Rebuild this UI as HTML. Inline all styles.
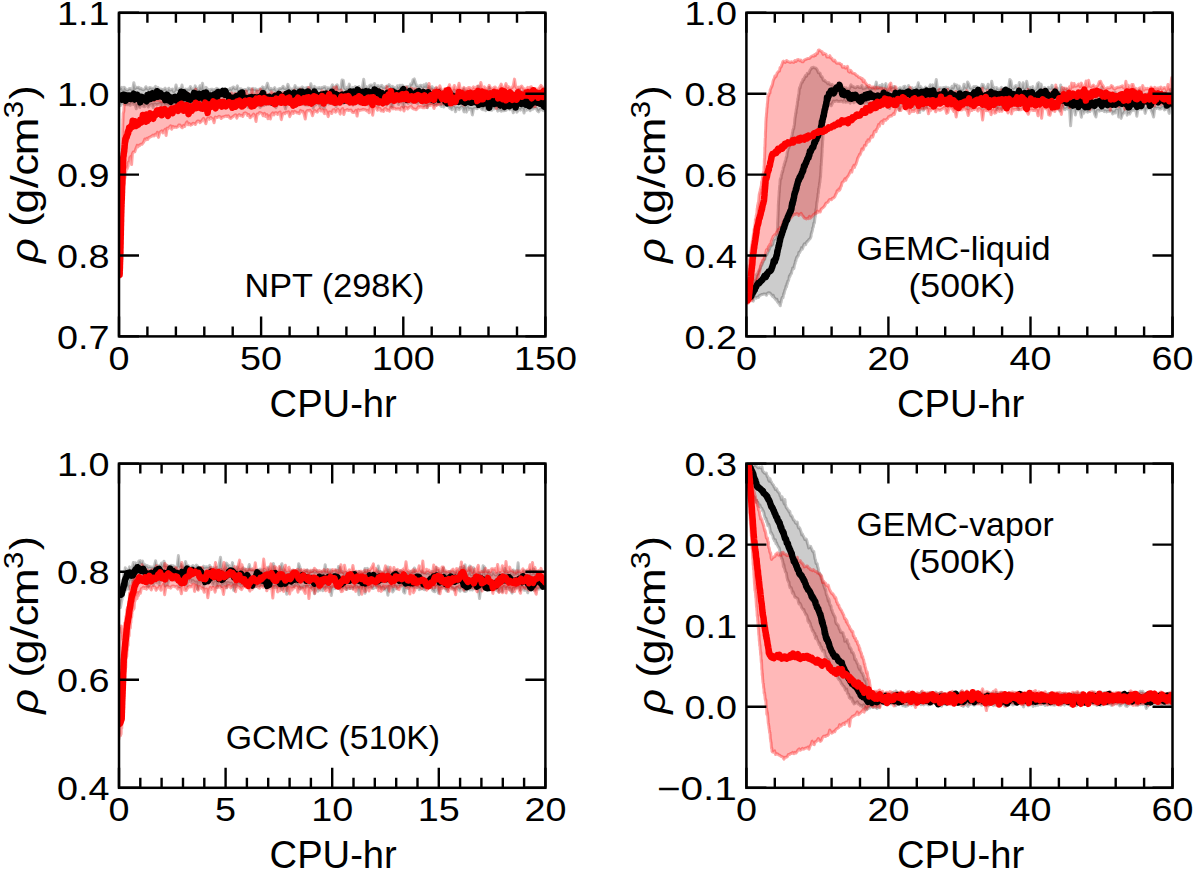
<!DOCTYPE html><html><head><meta charset="utf-8"><style>html,body{margin:0;padding:0;background:#fff;}svg{display:block;}text{font-family:"Liberation Sans",sans-serif;fill:#000;}</style></head><body>
<svg width="1200" height="871" viewBox="0 0 1200 871">
<defs>
<clipPath id="c1"><rect x="119.0" y="12.8" width="426.4" height="323.6"/></clipPath>
<clipPath id="c2"><rect x="746.4" y="12.8" width="426.1" height="323.6"/></clipPath>
<clipPath id="c3"><rect x="119.0" y="463.6" width="426.4" height="324.2"/></clipPath>
<clipPath id="c4"><rect x="746.4" y="463.6" width="426.1" height="324.2"/></clipPath>
</defs>
<g clip-path="url(#c1)">
<path d="M117.0 87.1 L118.2 87.4 L119.4 88.7 L120.6 88.4 L121.8 87.4 L123.0 90.9 L124.2 87.3 L125.4 88.8 L126.6 90.0 L127.8 90.0 L129.0 88.8 L130.2 88.5 L131.4 89.4 L132.6 90.0 L133.8 82.7 L135.1 88.5 L136.3 87.2 L137.5 87.6 L138.7 87.3 L139.9 88.8 L141.1 88.2 L142.3 89.6 L143.5 89.7 L144.7 89.0 L145.9 86.7 L147.1 88.3 L148.3 89.4 L149.5 87.6 L150.7 87.8 L151.9 88.6 L153.1 88.3 L154.3 88.6 L155.5 86.4 L156.7 88.8 L157.9 87.4 L159.1 90.4 L160.3 89.0 L161.5 89.3 L162.7 89.6 L163.9 89.4 L165.1 88.2 L166.3 89.6 L167.5 90.7 L168.8 88.2 L170.0 90.2 L171.2 89.7 L172.4 89.1 L173.6 91.7 L174.8 90.4 L176.0 85.0 L177.2 89.5 L178.4 90.1 L179.6 88.7 L180.8 90.2 L182.0 85.0 L183.2 90.4 L184.4 91.0 L185.6 89.0 L186.8 89.6 L188.0 89.1 L189.2 89.4 L190.4 86.6 L191.6 88.7 L192.8 89.3 L194.0 90.6 L195.2 85.9 L196.4 88.1 L197.6 88.6 L198.8 89.8 L200.0 85.8 L201.2 88.7 L202.5 83.3 L203.7 89.8 L204.9 90.4 L206.1 87.3 L207.3 89.0 L208.5 89.4 L209.7 91.0 L210.9 89.2 L212.1 89.2 L213.3 89.8 L214.5 89.4 L215.7 89.1 L216.9 88.3 L218.1 89.3 L219.3 89.2 L220.5 90.8 L221.7 90.4 L222.9 89.7 L224.1 90.2 L225.3 89.4 L226.5 90.6 L227.7 89.7 L228.9 89.9 L230.1 88.3 L231.3 89.4 L232.5 87.5 L233.7 87.0 L234.9 88.7 L236.2 88.5 L237.4 85.8 L238.6 91.8 L239.8 88.8 L241.0 88.7 L242.2 89.7 L243.4 90.0 L244.6 89.4 L245.8 89.4 L247.0 90.3 L248.2 88.1 L249.4 88.5 L250.6 89.3 L251.8 89.3 L253.0 88.4 L254.2 89.4 L255.4 88.7 L256.6 90.3 L257.8 89.7 L259.0 89.4 L260.2 88.7 L261.4 88.8 L262.6 86.9 L263.8 87.8 L265.0 89.1 L266.2 87.1 L267.4 83.2 L268.6 87.5 L269.8 89.6 L271.0 88.4 L272.3 89.3 L273.5 89.1 L274.7 87.6 L275.9 90.3 L277.1 90.7 L278.3 89.1 L279.5 88.6 L280.7 88.6 L281.9 88.0 L283.1 86.3 L284.3 88.4 L285.5 88.6 L286.7 87.9 L287.9 84.3 L289.1 87.5 L290.3 89.9 L291.5 88.9 L292.7 89.2 L293.9 88.7 L295.1 85.6 L296.3 88.1 L297.5 88.0 L298.7 88.5 L299.9 88.1 L301.1 88.0 L302.3 86.9 L303.5 87.7 L304.7 90.0 L305.9 87.8 L307.1 87.3 L308.4 88.8 L309.6 89.7 L310.8 83.7 L312.0 87.8 L313.2 87.4 L314.4 86.4 L315.6 88.0 L316.8 87.9 L318.0 88.2 L319.2 87.5 L320.4 88.5 L321.6 87.6 L322.8 87.7 L324.0 86.7 L325.2 86.8 L326.4 89.2 L327.6 87.7 L328.8 88.3 L330.0 87.9 L331.2 87.4 L332.4 84.8 L333.6 88.5 L334.8 87.7 L336.0 85.7 L337.2 84.8 L338.4 88.7 L339.6 88.8 L340.8 88.3 L342.0 80.1 L343.3 80.3 L344.5 88.1 L345.7 88.9 L346.9 87.4 L348.1 88.4 L349.3 84.1 L350.5 88.8 L351.7 88.7 L352.9 87.4 L354.1 89.0 L355.3 86.6 L356.5 88.4 L357.7 88.3 L358.9 86.6 L360.1 89.9 L361.3 89.2 L362.5 86.2 L363.7 79.2 L364.9 87.9 L366.1 86.5 L367.3 87.4 L368.5 87.8 L369.7 85.4 L370.9 84.9 L372.1 85.2 L373.3 87.4 L374.5 83.5 L375.7 87.2 L376.9 86.1 L378.1 85.5 L379.4 86.7 L380.6 85.9 L381.8 85.4 L383.0 87.5 L384.2 87.2 L385.4 87.4 L386.6 86.0 L387.8 86.1 L389.0 84.6 L390.2 86.0 L391.4 87.0 L392.6 86.3 L393.8 87.3 L395.0 87.7 L396.2 89.0 L397.4 85.7 L398.6 87.6 L399.8 85.2 L401.0 86.6 L402.2 85.2 L403.4 86.2 L404.6 87.5 L405.8 86.8 L407.0 86.8 L408.2 86.6 L409.4 87.9 L410.6 84.1 L411.8 84.3 L413.0 79.8 L414.3 78.9 L415.5 82.8 L416.7 85.8 L417.9 86.0 L419.1 86.7 L420.3 85.2 L421.5 85.5 L422.7 87.6 L423.9 84.9 L425.1 86.6 L426.2 83.7 L427.4 87.3 L428.6 86.5 L429.7 88.5 L430.9 88.2 L432.1 86.6 L433.2 88.9 L434.4 88.4 L435.6 90.1 L436.7 88.3 L437.9 89.5 L439.1 89.9 L440.2 89.3 L441.4 92.6 L442.6 92.8 L443.7 91.2 L444.9 92.5 L446.0 92.1 L447.2 89.6 L448.4 92.5 L449.5 92.9 L450.7 92.2 L451.9 91.9 L453.1 92.6 L454.3 90.3 L455.5 94.4 L456.7 93.6 L457.9 93.4 L459.2 94.7 L460.4 92.7 L461.6 92.4 L462.8 91.4 L464.0 88.7 L465.2 93.5 L466.4 94.5 L467.6 91.3 L468.8 91.5 L470.0 93.5 L471.2 91.8 L472.4 93.1 L473.6 93.6 L474.8 95.1 L476.0 94.2 L477.2 93.4 L478.4 86.1 L479.6 91.8 L480.8 95.2 L482.0 94.3 L483.2 93.6 L484.4 92.2 L485.6 92.3 L486.8 93.5 L488.0 94.5 L489.2 87.2 L490.4 93.3 L491.6 93.4 L492.8 93.5 L494.1 90.0 L495.3 93.1 L496.5 92.9 L497.7 94.4 L498.9 93.1 L500.1 94.5 L501.3 95.5 L502.5 93.0 L503.7 93.2 L504.9 91.0 L506.1 92.0 L507.3 92.9 L508.5 94.5 L509.7 96.1 L510.9 93.9 L512.1 93.6 L513.3 92.9 L514.5 94.0 L515.7 92.6 L516.9 92.9 L518.1 95.1 L519.3 89.3 L520.5 95.3 L521.7 95.9 L522.9 91.3 L524.1 95.1 L525.3 96.3 L526.5 93.0 L527.7 93.3 L528.9 92.7 L530.2 94.3 L531.4 96.0 L532.6 95.4 L533.8 93.3 L535.0 93.2 L536.2 93.7 L537.4 92.5 L538.6 94.2 L539.8 94.6 L541.0 92.8 L542.2 92.7 L543.4 88.8 L544.6 94.7 L545.8 94.5 L547.0 92.7 L547.0 109.9 L545.8 109.9 L544.6 110.2 L543.4 110.7 L542.2 109.9 L541.0 108.9 L539.8 110.0 L538.6 111.8 L537.4 110.8 L536.2 108.2 L535.0 108.0 L533.8 108.4 L532.6 109.3 L531.4 108.8 L530.2 110.7 L528.9 109.4 L527.7 108.0 L526.5 110.2 L525.3 108.1 L524.1 113.0 L522.9 108.8 L521.7 108.5 L520.5 110.1 L519.3 109.3 L518.1 110.5 L516.9 112.2 L515.7 109.1 L514.5 108.7 L513.3 112.8 L512.1 108.7 L510.9 107.1 L509.7 109.6 L508.5 108.3 L507.3 107.7 L506.1 110.3 L504.9 110.5 L503.7 110.7 L502.5 110.5 L501.3 111.2 L500.1 110.4 L498.9 110.0 L497.7 111.1 L496.5 106.7 L495.3 107.9 L494.1 109.0 L492.8 107.7 L491.6 110.3 L490.4 109.7 L489.2 110.0 L488.0 109.5 L486.8 108.0 L485.6 110.6 L484.4 107.0 L483.2 109.8 L482.0 109.4 L480.8 108.0 L479.6 106.4 L478.4 107.7 L477.2 108.7 L476.0 107.9 L474.8 108.4 L473.6 108.7 L472.4 114.9 L471.2 108.9 L470.0 108.8 L468.8 109.6 L467.6 107.3 L466.4 112.1 L465.2 108.4 L464.0 111.9 L462.8 108.0 L461.6 106.9 L460.4 107.9 L459.2 109.6 L457.9 108.0 L456.7 108.0 L455.5 111.8 L454.3 107.4 L453.1 106.9 L451.9 109.7 L450.7 108.7 L449.5 107.9 L448.4 105.9 L447.2 105.6 L446.0 105.0 L444.9 105.8 L443.7 107.0 L442.6 104.6 L441.4 106.5 L440.2 105.3 L439.1 103.9 L437.9 104.0 L436.7 104.9 L435.6 104.8 L434.4 104.8 L433.2 104.0 L432.1 103.0 L430.9 103.6 L429.7 103.7 L428.6 101.8 L427.4 107.7 L426.2 104.5 L425.1 102.7 L423.9 105.4 L422.7 102.5 L421.5 100.1 L420.3 101.5 L419.1 101.8 L417.9 103.5 L416.7 103.0 L415.5 100.6 L414.3 101.8 L413.0 102.2 L411.8 103.2 L410.6 102.0 L409.4 100.8 L408.2 103.4 L407.0 101.7 L405.8 102.3 L404.6 101.5 L403.4 107.2 L402.2 100.6 L401.0 102.4 L399.8 102.0 L398.6 104.5 L397.4 102.1 L396.2 102.1 L395.0 101.9 L393.8 100.7 L392.6 106.4 L391.4 107.4 L390.2 101.6 L389.0 102.2 L387.8 102.2 L386.6 105.3 L385.4 102.1 L384.2 103.3 L383.0 103.9 L381.8 103.1 L380.6 103.3 L379.4 103.7 L378.1 105.8 L376.9 101.0 L375.7 100.8 L374.5 100.8 L373.3 102.5 L372.1 106.6 L370.9 103.6 L369.7 103.1 L368.5 104.9 L367.3 103.2 L366.1 102.9 L364.9 102.3 L363.7 101.9 L362.5 102.9 L361.3 103.8 L360.1 103.6 L358.9 103.8 L357.7 103.3 L356.5 102.7 L355.3 104.1 L354.1 102.5 L352.9 105.1 L351.7 103.0 L350.5 102.9 L349.3 104.4 L348.1 103.4 L346.9 102.9 L345.7 101.9 L344.5 102.3 L343.3 103.4 L342.0 102.3 L340.8 104.2 L339.6 103.0 L338.4 101.7 L337.2 102.6 L336.0 106.6 L334.8 102.1 L333.6 102.5 L332.4 104.0 L331.2 103.2 L330.0 102.1 L328.8 103.9 L327.6 102.1 L326.4 100.8 L325.2 105.4 L324.0 108.5 L322.8 104.2 L321.6 103.6 L320.4 107.3 L319.2 104.5 L318.0 102.5 L316.8 102.9 L315.6 104.9 L314.4 103.1 L313.2 108.2 L312.0 103.1 L310.8 102.0 L309.6 104.0 L308.4 105.2 L307.1 104.8 L305.9 104.9 L304.7 104.8 L303.5 104.3 L302.3 103.8 L301.1 103.2 L299.9 102.9 L298.7 103.3 L297.5 104.8 L296.3 105.8 L295.1 102.4 L293.9 103.9 L292.7 104.8 L291.5 102.6 L290.3 102.1 L289.1 102.6 L287.9 102.3 L286.7 103.8 L285.5 108.9 L284.3 104.6 L283.1 103.8 L281.9 104.3 L280.7 104.2 L279.5 103.7 L278.3 104.0 L277.1 105.0 L275.9 107.6 L274.7 104.0 L273.5 103.0 L272.3 102.3 L271.0 103.5 L269.8 104.5 L268.6 104.4 L267.4 103.0 L266.2 104.8 L265.0 104.1 L263.8 105.6 L262.6 105.7 L261.4 105.7 L260.2 107.5 L259.0 105.3 L257.8 104.1 L256.6 105.2 L255.4 105.1 L254.2 104.6 L253.0 103.9 L251.8 103.6 L250.6 104.0 L249.4 102.7 L248.2 107.5 L247.0 104.5 L245.8 104.3 L244.6 103.7 L243.4 104.1 L242.2 104.6 L241.0 103.9 L239.8 102.6 L238.6 105.6 L237.4 103.4 L236.2 102.6 L234.9 104.0 L233.7 104.0 L232.5 104.9 L231.3 104.5 L230.1 104.0 L228.9 104.3 L227.7 104.5 L226.5 104.9 L225.3 103.5 L224.1 104.6 L222.9 103.5 L221.7 104.1 L220.5 105.5 L219.3 105.0 L218.1 104.4 L216.9 107.1 L215.7 104.6 L214.5 106.6 L213.3 104.9 L212.1 104.3 L210.9 103.6 L209.7 105.2 L208.5 109.5 L207.3 104.6 L206.1 105.3 L204.9 107.9 L203.7 104.8 L202.5 106.0 L201.2 107.1 L200.0 105.8 L198.8 105.4 L197.6 105.0 L196.4 106.1 L195.2 103.9 L194.0 103.3 L192.8 107.6 L191.6 105.6 L190.4 104.3 L189.2 102.5 L188.0 104.2 L186.8 102.2 L185.6 103.6 L184.4 105.4 L183.2 108.7 L182.0 107.6 L180.8 107.0 L179.6 103.9 L178.4 103.8 L177.2 104.6 L176.0 105.6 L174.8 103.8 L173.6 105.0 L172.4 104.3 L171.2 104.4 L170.0 104.6 L168.8 105.8 L167.5 105.1 L166.3 105.0 L165.1 105.5 L163.9 104.4 L162.7 103.6 L161.5 107.1 L160.3 103.4 L159.1 103.9 L157.9 104.2 L156.7 105.1 L155.5 104.1 L154.3 104.2 L153.1 107.5 L151.9 104.3 L150.7 104.8 L149.5 105.6 L148.3 107.0 L147.1 104.9 L145.9 103.5 L144.7 106.7 L143.5 106.6 L142.3 104.2 L141.1 104.8 L139.9 107.4 L138.7 106.9 L137.5 105.0 L136.3 108.8 L135.1 104.6 L133.8 104.6 L132.6 104.1 L131.4 102.7 L130.2 105.3 L129.0 104.5 L127.8 104.7 L126.6 104.7 L125.4 104.3 L124.2 104.1 L123.0 103.1 L121.8 103.4 L120.6 105.4 L119.4 103.2 L118.2 108.1 L117.0 107.7 Z" fill="#000" fill-opacity="0.2" stroke="#000" stroke-opacity="0.24" stroke-width="3" stroke-linejoin="round"/>
<path d="M119.6 272.7 L119.6 271.5 L119.7 271.2 L119.7 269.2 L119.7 268.2 L119.7 266.9 L119.8 266.3 L119.8 262.1 L119.8 263.3 L119.9 261.0 L119.9 259.5 L119.9 257.5 L120.0 255.5 L120.0 255.6 L120.0 254.5 L120.0 250.2 L120.1 251.6 L120.1 252.8 L120.1 250.2 L120.2 248.8 L120.2 247.1 L120.2 245.7 L120.2 244.2 L120.3 243.6 L120.3 243.0 L120.3 241.5 L120.3 239.3 L120.4 238.9 L120.4 237.4 L120.4 237.4 L120.4 237.7 L120.5 235.5 L120.5 231.2 L120.5 230.4 L120.5 229.2 L120.5 223.9 L120.6 228.8 L120.6 224.2 L120.6 226.1 L120.6 224.4 L120.6 224.0 L120.7 223.9 L120.7 218.4 L120.7 219.0 L120.7 218.3 L120.7 216.5 L120.8 215.6 L120.8 214.0 L120.8 211.0 L120.8 203.6 L120.9 212.4 L120.9 213.0 L120.9 208.9 L120.9 209.0 L120.9 207.2 L121.0 204.7 L121.0 204.1 L121.0 203.0 L121.0 201.7 L121.0 202.5 L121.1 198.2 L121.1 198.7 L121.1 197.6 L121.1 195.6 L121.2 195.0 L121.2 194.6 L121.2 192.8 L121.2 191.8 L121.3 190.6 L121.3 187.2 L121.3 189.2 L121.3 188.1 L121.4 186.7 L121.4 185.0 L121.4 181.6 L121.4 181.3 L121.5 179.6 L121.5 175.6 L121.5 178.5 L121.6 175.4 L121.6 175.2 L121.6 172.6 L121.6 170.9 L121.7 171.5 L121.7 170.1 L121.7 169.1 L121.8 170.0 L121.8 166.2 L121.8 164.7 L121.8 164.1 L121.9 165.0 L121.9 161.2 L121.9 161.1 L122.0 159.3 L122.0 158.4 L122.0 155.8 L122.0 155.8 L122.1 156.7 L122.1 155.6 L122.1 153.1 L122.2 152.3 L122.2 150.0 L122.2 147.8 L122.3 147.3 L122.3 147.7 L122.3 145.2 L122.3 143.6 L122.4 143.1 L122.4 141.6 L122.4 139.5 L122.5 137.7 L122.5 137.4 L122.5 138.7 L122.6 138.1 L122.6 135.8 L122.6 134.7 L122.7 127.6 L122.7 131.0 L122.7 129.9 L122.8 127.3 L122.8 126.4 L122.8 126.2 L122.8 124.6 L122.9 122.8 L122.9 119.1 L122.9 121.4 L123.0 121.2 L123.0 119.2 L123.1 117.6 L123.1 116.7 L123.2 115.2 L123.2 113.5 L123.4 112.7 L123.5 112.6 L123.7 111.6 L123.9 110.6 L124.0 106.7 L124.2 106.4 L124.4 103.5 L124.5 104.8 L124.7 103.0 L124.9 101.9 L125.0 101.8 L125.2 96.4 L125.3 93.8 L125.7 98.9 L126.7 95.0 L127.8 96.2 L128.9 94.6 L130.0 95.1 L131.1 96.3 L132.0 96.0 L132.8 96.1 L133.7 97.3 L134.5 95.6 L135.3 96.3 L136.2 100.6 L137.1 100.9 L138.3 97.5 L139.4 97.1 L140.6 99.8 L141.8 98.4 L143.0 100.1 L144.2 101.0 L145.4 97.9 L146.5 99.2 L147.7 99.2 L148.9 99.1 L150.1 93.3 L151.3 98.6 L152.5 98.6 L153.7 100.7 L154.9 100.1 L156.1 99.8 L157.3 100.0 L158.5 100.3 L159.7 99.9 L160.9 101.1 L162.1 101.5 L163.3 100.7 L164.5 96.4 L165.6 99.2 L166.8 101.1 L168.0 99.2 L169.2 98.9 L170.3 100.4 L171.5 96.9 L172.7 99.3 L174.0 98.6 L175.2 100.8 L176.4 99.2 L177.6 98.9 L178.8 97.9 L180.0 96.5 L181.2 96.5 L182.4 98.2 L183.6 98.3 L184.8 97.4 L186.0 96.3 L187.2 96.0 L188.4 93.6 L189.6 96.1 L190.8 95.6 L192.0 95.6 L193.2 100.2 L194.4 98.2 L195.6 89.2 L196.8 95.5 L198.0 93.2 L199.2 95.6 L200.4 96.5 L201.6 97.5 L202.8 97.2 L204.0 97.0 L205.2 96.6 L206.4 97.0 L207.6 97.4 L208.8 93.8 L210.0 94.2 L211.2 94.6 L212.4 97.3 L213.6 97.2 L214.8 95.1 L216.0 94.4 L217.2 92.8 L218.4 95.1 L219.6 95.2 L220.8 95.0 L222.0 95.6 L223.2 94.9 L224.4 92.1 L225.6 94.1 L226.8 94.8 L228.0 94.9 L229.2 94.8 L230.4 95.8 L231.6 92.9 L232.8 95.3 L234.1 94.5 L235.3 93.3 L236.5 95.6 L237.7 94.2 L238.9 95.6 L240.1 95.3 L241.3 93.4 L242.5 93.2 L243.7 94.3 L244.9 94.0 L246.1 91.0 L247.3 95.5 L248.5 94.9 L249.7 95.3 L250.9 94.6 L252.1 89.1 L253.3 94.1 L254.5 94.7 L255.7 95.3 L256.9 90.9 L258.1 94.0 L259.3 93.5 L260.5 89.2 L261.7 94.8 L262.9 92.2 L264.2 93.7 L265.4 92.3 L266.6 96.8 L267.8 94.4 L269.0 94.6 L270.2 94.4 L271.4 91.8 L272.6 92.8 L273.8 93.7 L275.0 93.5 L276.2 94.0 L277.4 93.3 L278.6 93.8 L279.8 94.1 L281.0 93.2 L282.2 93.7 L283.4 92.6 L284.6 93.6 L285.8 94.9 L287.0 96.0 L288.2 91.4 L289.4 94.3 L290.6 95.1 L291.8 95.1 L293.1 95.6 L294.3 90.2 L295.5 93.7 L296.7 93.9 L297.9 93.8 L299.1 93.9 L300.3 89.3 L301.5 92.5 L302.7 91.2 L303.9 92.2 L305.1 91.3 L306.3 93.2 L307.5 93.1 L308.7 87.5 L309.9 93.8 L311.1 91.4 L312.3 93.6 L313.5 95.1 L314.7 95.0 L315.9 92.3 L317.1 94.0 L318.3 93.4 L319.5 93.6 L320.7 93.9 L322.0 90.9 L323.2 92.2 L324.4 91.9 L325.6 92.0 L326.8 92.5 L328.0 91.3 L329.2 91.7 L330.4 93.2 L331.6 92.8 L332.8 92.9 L334.0 87.6 L335.2 91.6 L336.4 86.7 L337.6 92.6 L338.8 92.3 L340.0 93.5 L341.2 90.1 L342.4 92.7 L343.6 92.8 L344.8 93.3 L346.0 92.4 L347.2 93.7 L348.4 91.0 L349.7 92.9 L350.9 92.8 L352.1 93.3 L353.3 93.8 L354.5 93.7 L355.7 93.2 L356.9 93.5 L358.1 93.0 L359.3 93.8 L360.5 89.7 L361.7 90.7 L362.9 93.6 L364.1 92.7 L365.3 91.4 L366.5 92.1 L367.7 91.9 L368.9 94.5 L370.1 91.9 L371.3 91.1 L372.5 92.8 L373.7 89.4 L374.9 94.1 L376.2 91.4 L377.4 90.1 L378.6 89.5 L379.8 92.1 L381.0 91.7 L382.2 90.3 L383.4 92.7 L384.6 93.8 L385.8 90.8 L387.0 86.6 L388.2 92.2 L389.4 92.7 L390.6 92.9 L391.8 92.2 L393.0 93.3 L394.2 92.7 L395.4 91.7 L396.6 92.6 L397.8 91.4 L399.0 90.5 L400.2 92.3 L401.4 91.8 L402.6 91.4 L403.9 92.0 L405.1 90.2 L406.3 87.2 L407.5 91.1 L408.7 91.3 L409.9 91.9 L411.1 88.1 L412.3 88.6 L413.5 92.2 L414.7 89.0 L415.9 88.9 L417.1 89.5 L418.3 90.9 L419.5 92.6 L420.7 92.1 L421.9 91.3 L423.1 89.9 L424.3 90.9 L425.5 90.3 L426.7 91.4 L427.9 90.5 L429.1 83.5 L430.3 91.3 L431.5 91.0 L432.7 89.8 L433.9 91.0 L435.1 89.7 L436.3 87.3 L437.5 89.6 L438.7 88.7 L439.9 85.9 L441.1 89.2 L442.3 90.7 L443.4 90.5 L444.6 88.9 L445.8 90.2 L447.0 88.7 L448.2 88.9 L449.4 84.8 L450.6 88.5 L451.8 90.6 L453.0 88.6 L454.3 85.5 L455.5 89.2 L456.7 87.9 L457.9 87.4 L459.1 83.2 L460.3 88.8 L461.5 89.2 L462.7 88.8 L463.9 87.4 L465.1 89.9 L466.3 88.4 L467.5 88.5 L468.7 87.5 L469.9 87.8 L471.1 89.2 L472.3 88.5 L473.5 86.9 L474.7 88.3 L475.9 87.9 L477.1 86.3 L478.3 88.4 L479.5 87.6 L480.8 82.5 L482.0 87.1 L483.2 89.5 L484.4 86.9 L485.6 88.2 L486.8 88.8 L488.0 88.4 L489.2 85.3 L490.4 87.6 L491.6 88.3 L492.8 88.8 L494.0 87.4 L495.2 87.0 L496.4 89.1 L497.6 89.3 L498.8 88.5 L500.0 86.7 L501.2 84.0 L502.4 88.4 L503.6 88.7 L504.8 86.9 L506.0 83.6 L507.3 87.6 L508.5 86.6 L509.7 88.1 L510.9 88.1 L512.1 87.7 L513.3 85.5 L514.5 79.1 L515.7 86.8 L516.9 88.5 L518.1 87.2 L519.3 89.0 L520.5 86.8 L521.7 86.0 L522.9 88.1 L524.1 88.8 L525.3 90.2 L526.5 88.8 L527.7 87.4 L528.9 88.6 L530.1 87.1 L531.3 86.8 L532.5 90.4 L533.8 88.8 L535.0 88.8 L536.2 88.9 L537.4 89.9 L538.6 88.7 L539.8 87.1 L541.0 85.4 L542.2 86.7 L543.4 89.4 L544.6 89.7 L545.8 88.7 L547.0 88.3 L547.0 103.9 L545.8 102.0 L544.6 103.5 L543.4 102.7 L542.2 101.5 L541.0 101.0 L539.8 101.6 L538.6 105.0 L537.4 102.9 L536.2 104.5 L535.0 106.7 L533.8 106.6 L532.6 102.8 L531.3 102.6 L530.1 101.2 L528.9 107.0 L527.7 102.9 L526.5 103.2 L525.3 104.5 L524.1 103.4 L522.9 101.1 L521.7 103.1 L520.5 102.2 L519.3 101.6 L518.1 100.9 L516.9 101.6 L515.7 102.4 L514.5 100.7 L513.3 103.7 L512.1 103.6 L510.9 103.1 L509.7 104.7 L508.5 103.6 L507.3 102.6 L506.1 104.6 L504.9 102.4 L503.7 104.2 L502.5 105.3 L501.2 103.9 L500.0 101.0 L498.8 106.6 L497.6 103.2 L496.4 108.4 L495.2 102.9 L494.0 102.3 L492.8 105.2 L491.6 103.7 L490.4 103.1 L489.2 103.5 L488.0 103.7 L486.8 104.1 L485.6 104.8 L484.4 103.1 L483.2 101.9 L482.0 103.0 L480.8 102.7 L479.6 102.5 L478.4 105.1 L477.2 102.9 L476.0 102.8 L474.8 103.5 L473.6 103.5 L472.4 102.1 L471.1 104.4 L469.9 103.4 L468.7 103.5 L467.5 103.5 L466.3 103.8 L465.1 103.1 L463.9 105.2 L462.7 103.9 L461.5 103.5 L460.3 102.7 L459.1 102.2 L457.9 102.2 L456.7 103.2 L455.5 104.0 L454.3 104.8 L453.1 104.5 L451.9 103.9 L450.7 103.9 L449.5 103.0 L448.3 101.8 L447.1 102.0 L445.9 103.9 L444.7 103.9 L443.5 103.7 L442.3 103.5 L441.1 104.3 L439.9 103.3 L438.7 104.6 L437.5 104.8 L436.3 105.6 L435.1 105.2 L434.0 108.4 L432.8 105.5 L431.6 104.4 L430.4 105.5 L429.2 105.0 L428.0 105.9 L426.8 107.5 L425.6 106.0 L424.4 107.8 L423.2 107.8 L422.0 107.3 L420.8 106.6 L419.6 107.3 L418.4 106.6 L417.2 108.8 L416.0 109.8 L414.8 109.1 L413.6 108.9 L412.4 108.2 L411.2 106.4 L410.0 106.8 L408.8 107.7 L407.6 108.9 L406.4 107.5 L405.2 107.1 L404.0 111.0 L402.8 108.0 L401.6 107.3 L400.4 109.9 L399.2 109.0 L398.0 108.7 L396.8 108.9 L395.6 109.2 L394.4 108.0 L393.2 108.9 L392.0 107.7 L390.8 107.1 L389.6 111.2 L388.3 110.0 L387.1 110.4 L385.9 108.5 L384.7 108.7 L383.5 111.4 L382.3 110.2 L381.1 111.0 L379.9 108.5 L378.7 108.2 L377.5 110.3 L376.3 107.9 L375.1 107.0 L373.9 108.2 L372.7 115.2 L371.5 109.8 L370.3 107.0 L369.1 112.8 L367.9 110.3 L366.7 111.0 L365.5 109.8 L364.3 109.8 L363.1 109.3 L361.9 109.9 L360.7 110.0 L359.5 110.6 L358.3 109.7 L357.1 116.1 L355.9 110.3 L354.6 112.2 L353.4 112.6 L352.2 112.1 L351.0 109.9 L349.8 110.2 L348.6 110.6 L347.4 109.5 L346.2 110.2 L345.0 110.4 L343.8 114.5 L342.6 108.6 L341.4 110.0 L340.2 114.1 L339.0 110.8 L337.8 109.1 L336.6 111.3 L335.4 112.2 L334.2 109.6 L333.0 110.0 L331.8 113.5 L330.6 111.9 L329.4 112.1 L328.2 116.6 L327.0 112.7 L325.8 110.1 L324.6 113.7 L323.4 111.5 L322.2 109.7 L321.0 110.9 L319.7 109.1 L318.5 110.0 L317.3 112.2 L316.1 111.7 L314.9 110.5 L313.7 111.7 L312.5 115.7 L311.3 112.1 L310.1 110.2 L308.9 110.7 L307.7 110.4 L306.5 111.6 L305.3 119.1 L304.1 114.1 L302.9 111.2 L301.7 111.8 L300.5 110.4 L299.3 113.7 L298.1 112.8 L296.9 112.9 L295.7 111.9 L294.5 111.4 L293.3 113.5 L292.1 111.6 L290.9 113.9 L289.7 116.6 L288.5 111.7 L287.3 112.7 L286.1 112.2 L284.9 113.8 L283.7 113.1 L282.5 114.6 L281.3 119.6 L280.1 111.9 L278.9 112.8 L277.7 114.5 L276.4 112.7 L275.2 112.7 L274.0 114.9 L272.8 112.9 L271.6 114.1 L270.4 119.0 L269.2 115.7 L268.0 118.8 L266.8 114.6 L265.6 116.4 L264.4 113.3 L263.2 115.8 L262.0 113.5 L260.8 112.8 L259.6 112.4 L258.4 114.1 L257.2 114.1 L256.0 121.4 L254.8 115.9 L253.6 114.1 L252.4 115.6 L251.2 116.8 L250.0 117.7 L248.8 114.5 L247.6 115.5 L246.4 113.3 L245.2 112.8 L244.0 113.4 L242.8 116.5 L241.6 115.3 L240.4 115.8 L239.2 114.6 L238.0 115.7 L236.8 118.1 L235.6 114.8 L234.4 115.6 L233.2 116.4 L232.0 117.2 L230.8 118.4 L229.6 117.8 L228.4 115.8 L227.2 116.6 L226.0 115.9 L224.8 116.3 L223.6 117.1 L222.4 116.9 L221.2 118.5 L220.0 116.6 L218.8 116.3 L217.6 117.5 L216.4 117.5 L215.3 117.0 L214.1 122.7 L212.9 119.0 L211.7 118.5 L210.6 117.3 L209.4 119.3 L208.2 117.8 L207.0 119.2 L205.8 123.8 L204.7 121.1 L203.5 118.3 L202.3 119.9 L201.1 121.7 L200.0 122.7 L198.8 120.9 L197.6 121.0 L196.4 122.5 L195.3 124.5 L194.1 123.4 L192.9 123.2 L191.7 124.7 L190.6 125.2 L189.4 123.5 L188.2 124.7 L187.0 121.9 L185.9 123.6 L184.7 126.5 L183.5 125.4 L182.3 127.8 L181.2 127.1 L180.0 124.9 L178.8 125.1 L177.6 126.9 L176.4 127.4 L175.3 126.9 L174.1 127.4 L172.9 126.3 L171.7 129.3 L170.6 125.8 L169.4 127.1 L168.3 128.6 L167.2 128.0 L166.1 135.5 L165.1 129.3 L164.0 130.8 L162.9 132.9 L161.8 130.9 L160.7 131.6 L159.6 133.2 L158.5 137.4 L157.4 132.3 L156.3 135.1 L155.2 134.3 L154.1 136.0 L153.0 135.0 L151.9 136.1 L150.8 136.6 L149.8 137.2 L148.8 137.4 L147.8 139.4 L146.8 138.3 L145.8 139.9 L144.8 139.2 L143.8 141.8 L142.9 143.1 L142.0 144.2 L141.2 144.2 L140.4 144.5 L139.6 145.5 L138.8 145.3 L138.0 146.8 L137.2 145.2 L136.4 147.4 L135.6 149.4 L134.8 151.8 L134.0 152.0 L133.2 152.1 L132.4 153.6 L131.6 164.6 L130.9 156.3 L130.6 157.2 L130.2 161.5 L129.8 157.6 L129.5 161.8 L129.1 162.4 L128.8 161.9 L128.4 162.2 L128.0 166.5 L127.7 165.9 L127.3 168.5 L127.0 168.2 L126.6 169.1 L126.2 167.9 L125.9 171.4 L125.6 172.4 L125.3 173.0 L125.2 175.8 L125.0 177.7 L124.9 175.7 L124.7 178.9 L124.5 178.9 L124.4 181.6 L124.2 184.3 L124.0 183.4 L123.9 184.2 L123.7 186.3 L123.5 189.1 L123.4 187.8 L123.2 189.3 L123.2 192.9 L123.1 192.0 L123.1 193.4 L123.0 196.5 L122.9 197.1 L122.9 198.2 L122.8 198.3 L122.7 198.1 L122.7 199.1 L122.6 201.9 L122.5 205.4 L122.5 205.5 L122.4 205.9 L122.3 207.4 L122.3 208.2 L122.2 207.8 L122.1 210.5 L122.1 209.8 L122.0 211.2 L122.0 215.5 L121.9 214.6 L121.9 214.9 L121.8 222.2 L121.8 218.4 L121.7 219.9 L121.6 224.0 L121.6 221.6 L121.5 221.8 L121.5 226.5 L121.4 226.5 L121.4 230.4 L121.3 226.7 L121.3 235.0 L121.2 230.4 L121.2 231.0 L121.1 233.5 L121.1 236.3 L121.1 240.4 L121.0 235.9 L121.0 235.5 L121.0 237.8 L120.9 238.8 L120.9 241.5 L120.9 241.5 L120.8 243.1 L120.8 245.4 L120.8 247.8 L120.7 249.3 L120.7 252.7 L120.7 254.8 L120.6 251.4 L120.6 251.4 L120.6 254.5 L120.5 254.3 L120.5 256.6 L120.5 255.6 L120.4 259.3 L120.4 260.0 L120.4 266.3 L120.3 261.6 L120.3 264.5 L120.3 263.4 L120.2 269.8 L120.1 265.4 L120.1 266.8 L120.0 270.0 L120.0 272.8 L119.9 270.4 L119.8 270.7 L119.8 272.9 L119.7 274.6 L119.7 275.7 L119.6 277.4 Z" fill="#f00" fill-opacity="0.28" stroke="#f00" stroke-opacity="0.36" stroke-width="3" stroke-linejoin="round"/>
<path d="M117.0 95.1 L117.8 95.2 L118.6 96.7 L119.4 96.9 L120.2 97.2 L121.0 96.2 L121.8 99.8 L122.6 99.0 L123.4 94.7 L124.2 97.9 L125.0 95.0 L125.8 100.7 L126.6 95.8 L127.4 95.8 L128.2 96.7 L129.0 95.8 L129.8 95.9 L130.6 99.0 L131.4 95.9 L132.2 97.2 L133.0 97.9 L133.8 93.6 L134.7 99.6 L135.5 97.6 L136.3 98.3 L137.1 94.7 L137.9 98.8 L138.7 98.3 L139.5 96.4 L140.3 102.4 L141.1 98.7 L141.9 96.9 L142.7 97.8 L143.5 99.3 L144.3 99.7 L145.1 98.7 L145.9 100.5 L146.7 101.2 L147.5 95.1 L148.3 96.1 L149.1 94.5 L149.9 96.2 L150.7 98.8 L151.5 96.9 L152.3 93.2 L153.1 94.9 L153.9 98.0 L154.7 94.8 L155.5 95.6 L156.3 96.2 L157.1 91.3 L157.9 96.7 L158.7 95.7 L159.5 96.2 L160.3 93.1 L161.1 93.9 L161.9 94.8 L162.7 97.0 L163.5 96.7 L164.3 96.8 L165.1 100.1 L165.9 98.9 L166.7 94.6 L167.5 95.1 L168.4 100.5 L169.2 96.6 L170.0 100.8 L170.8 101.8 L171.6 97.7 L172.4 98.6 L173.2 99.4 L174.0 97.3 L174.8 96.9 L175.6 98.0 L176.4 100.5 L177.2 97.7 L178.0 98.2 L178.8 97.5 L179.6 95.2 L180.4 100.7 L181.2 91.8 L182.0 94.9 L182.8 96.9 L183.6 92.3 L184.4 96.4 L185.2 98.0 L186.0 94.1 L186.8 97.3 L187.6 95.3 L188.4 99.4 L189.2 98.5 L190.0 98.1 L190.8 99.7 L191.6 96.9 L192.4 98.3 L193.2 96.6 L194.0 92.9 L194.8 96.5 L195.6 97.5 L196.4 93.6 L197.2 99.5 L198.0 96.5 L198.8 96.7 L199.6 93.9 L200.4 96.3 L201.2 97.4 L202.1 96.7 L202.9 97.8 L203.7 93.1 L204.5 100.5 L205.3 95.1 L206.1 92.7 L206.9 95.3 L207.7 95.5 L208.5 98.5 L209.3 95.5 L210.1 98.1 L210.9 95.5 L211.7 102.2 L212.5 98.5 L213.3 101.3 L214.1 94.6 L214.9 97.8 L215.7 93.9 L216.5 96.8 L217.3 96.8 L218.1 92.0 L218.9 93.3 L219.7 93.5 L220.5 92.7 L221.3 93.9 L222.1 92.7 L222.9 91.0 L223.7 94.0 L224.5 94.8 L225.3 90.9 L226.1 93.1 L226.9 95.2 L227.7 95.5 L228.5 95.3 L229.3 99.1 L230.1 99.6 L230.9 99.5 L231.7 97.7 L232.5 102.6 L233.3 102.1 L234.1 97.5 L234.9 98.0 L235.7 100.7 L236.6 96.1 L237.4 98.4 L238.2 97.3 L239.0 95.4 L239.8 96.2 L240.6 93.2 L241.4 95.4 L242.2 92.5 L243.0 102.0 L243.8 100.4 L244.6 99.8 L245.4 97.8 L246.2 99.6 L247.0 100.7 L247.8 100.8 L248.6 101.2 L249.4 97.5 L250.2 100.5 L251.0 98.5 L251.8 97.1 L252.6 97.4 L253.4 101.0 L254.2 102.5 L255.0 97.2 L255.8 103.5 L256.6 102.3 L257.4 97.8 L258.2 97.3 L259.0 98.0 L259.8 100.3 L260.6 97.4 L261.4 95.7 L262.2 98.6 L263.0 93.0 L263.8 97.4 L264.6 99.3 L265.4 97.1 L266.2 97.9 L267.0 97.4 L267.8 98.5 L268.6 98.1 L269.4 97.0 L270.2 99.0 L271.0 99.6 L271.9 102.4 L272.7 102.8 L273.5 99.7 L274.3 96.5 L275.1 95.9 L275.9 96.5 L276.7 99.4 L277.5 96.6 L278.3 95.4 L279.1 93.8 L279.9 97.6 L280.7 96.6 L281.5 96.3 L282.3 96.8 L283.1 100.2 L283.9 95.8 L284.7 99.0 L285.5 97.1 L286.3 93.8 L287.1 95.3 L287.9 93.5 L288.7 92.8 L289.5 95.0 L290.3 94.7 L291.1 98.7 L291.9 98.5 L292.7 100.4 L293.5 101.3 L294.3 92.8 L295.1 99.7 L295.9 94.2 L296.7 97.4 L297.5 94.2 L298.3 95.7 L299.1 98.3 L299.9 91.8 L300.7 96.2 L301.5 95.8 L302.3 91.7 L303.1 96.9 L303.9 95.2 L304.7 93.7 L305.5 92.8 L306.3 101.2 L307.1 93.7 L308.0 91.6 L308.8 94.7 L309.6 97.0 L310.4 97.5 L311.2 97.9 L312.0 94.9 L312.8 97.2 L313.6 94.0 L314.4 91.6 L315.2 93.0 L316.0 94.6 L316.8 97.9 L317.6 97.5 L318.4 95.4 L319.2 95.7 L320.0 95.8 L320.8 99.8 L321.6 94.6 L322.4 97.4 L323.2 98.1 L324.0 94.1 L324.8 95.9 L325.6 95.4 L326.4 93.7 L327.2 96.0 L328.0 97.1 L328.8 97.4 L329.6 94.4 L330.4 94.9 L331.2 99.3 L332.0 91.8 L332.8 94.6 L333.6 96.1 L334.4 94.4 L335.2 95.3 L336.0 94.3 L336.8 95.8 L337.6 97.5 L338.4 95.2 L339.2 96.9 L340.0 96.9 L340.8 96.4 L341.6 97.1 L342.4 94.6 L343.3 98.5 L344.1 100.5 L344.9 100.3 L345.7 99.0 L346.5 93.8 L347.3 98.7 L348.1 93.4 L348.9 94.3 L349.7 97.9 L350.5 91.4 L351.3 95.4 L352.1 94.2 L352.9 93.3 L353.7 91.7 L354.5 94.3 L355.3 92.0 L356.1 94.9 L356.9 95.1 L357.7 89.6 L358.5 91.9 L359.3 93.1 L360.1 92.0 L360.9 92.9 L361.7 96.0 L362.5 95.4 L363.3 91.8 L364.1 93.5 L364.9 95.2 L365.7 91.2 L366.5 91.9 L367.3 97.7 L368.1 97.6 L368.9 91.6 L369.7 92.3 L370.5 96.0 L371.3 92.8 L372.1 95.0 L372.9 94.6 L373.7 96.6 L374.5 89.6 L375.3 90.1 L376.1 92.5 L376.9 97.7 L377.7 95.2 L378.6 91.5 L379.4 95.5 L380.2 95.3 L381.0 93.0 L381.8 93.0 L382.6 95.3 L383.4 97.8 L384.2 96.1 L385.0 97.1 L385.8 95.7 L386.6 94.6 L387.4 93.0 L388.2 95.2 L389.0 94.2 L389.8 94.6 L390.6 97.5 L391.4 96.6 L392.2 97.1 L393.0 91.4 L393.8 95.6 L394.6 93.2 L395.4 92.9 L396.2 93.1 L397.0 97.8 L397.8 97.3 L398.6 94.1 L399.4 93.1 L400.2 95.2 L401.0 93.5 L401.8 97.3 L402.6 90.1 L403.4 89.3 L404.2 93.1 L405.0 94.2 L405.8 95.1 L406.6 96.8 L407.4 99.9 L408.2 94.7 L409.0 94.1 L409.8 91.1 L410.6 95.1 L411.4 96.1 L412.2 93.5 L413.0 96.6 L413.8 94.4 L414.7 97.9 L415.5 95.6 L416.3 92.6 L417.1 93.5 L417.9 91.5 L418.7 91.1 L419.5 95.6 L420.3 97.0 L421.1 99.4 L421.9 95.0 L422.7 94.3 L423.5 92.0 L424.3 96.2 L425.1 95.1 L425.9 93.7 L426.6 97.1 L427.4 97.3 L428.2 92.2 L429.0 97.7 L429.7 96.2 L430.5 94.9 L431.3 94.8 L432.1 99.6 L432.8 99.4 L433.6 100.2 L434.4 93.9 L435.2 95.2 L436.0 98.8 L436.7 94.3 L437.5 95.1 L438.3 92.4 L439.1 99.8 L439.8 97.8 L440.6 96.5 L441.4 96.4 L442.2 95.7 L442.9 96.5 L443.7 99.3 L444.5 97.0 L445.3 101.6 L446.0 98.3 L446.8 98.1 L447.6 103.4 L448.4 100.5 L449.2 101.7 L449.9 98.9 L450.7 94.1 L451.5 99.8 L452.3 96.0 L453.1 101.8 L453.9 96.7 L454.7 96.5 L455.5 101.3 L456.3 101.5 L457.1 100.6 L457.9 97.6 L458.8 101.9 L459.6 96.6 L460.4 98.5 L461.2 97.6 L462.0 98.6 L462.8 101.6 L463.6 99.0 L464.4 102.2 L465.2 103.0 L466.0 98.1 L466.8 99.3 L467.6 100.9 L468.4 100.2 L469.2 102.0 L470.0 97.0 L470.8 102.7 L471.6 102.8 L472.4 100.9 L473.2 98.3 L474.0 101.1 L474.8 99.9 L475.6 102.2 L476.4 100.9 L477.2 102.9 L478.0 100.6 L478.8 104.8 L479.6 96.7 L480.4 99.4 L481.2 102.8 L482.0 98.8 L482.8 104.0 L483.6 100.1 L484.4 103.1 L485.2 101.1 L486.0 102.2 L486.8 103.6 L487.6 103.1 L488.4 102.5 L489.2 107.7 L490.0 102.8 L490.8 100.2 L491.6 103.7 L492.4 102.8 L493.2 103.1 L494.1 103.9 L494.9 98.0 L495.7 102.6 L496.5 103.3 L497.3 101.4 L498.1 102.2 L498.9 95.3 L499.7 100.5 L500.5 105.6 L501.3 97.9 L502.1 100.8 L502.9 103.1 L503.7 104.2 L504.5 106.8 L505.3 99.3 L506.1 102.6 L506.9 103.8 L507.7 98.8 L508.5 101.7 L509.3 106.3 L510.1 105.6 L510.9 104.2 L511.7 97.5 L512.5 102.6 L513.3 103.2 L514.1 101.0 L514.9 100.9 L515.7 107.4 L516.5 100.2 L517.3 98.6 L518.1 101.2 L518.9 100.1 L519.7 100.3 L520.5 101.4 L521.3 103.9 L522.1 103.2 L522.9 100.4 L523.7 102.6 L524.5 103.8 L525.3 101.5 L526.1 104.6 L526.9 103.5 L527.7 99.4 L528.5 102.2 L529.4 106.1 L530.2 105.4 L531.0 102.0 L531.8 103.8 L532.6 100.0 L533.4 97.8 L534.2 101.7 L535.0 101.0 L535.8 102.0 L536.6 101.4 L537.4 102.7 L538.2 101.1 L539.0 103.1 L539.8 103.6 L540.6 101.5 L541.4 103.6 L542.2 98.5 L543.0 101.1 L543.8 106.2 L544.6 106.9 L545.4 103.7 L546.2 103.0 L547.0 100.6" fill="none" stroke="#000" stroke-width="6.5" stroke-linejoin="round" stroke-linecap="round"/>
<path d="M119.6 274.8 L119.6 274.0 L119.7 273.5 L119.7 272.5 L119.7 271.8 L119.7 270.9 L119.8 270.6 L119.8 269.2 L119.8 269.2 L119.9 267.7 L119.9 266.8 L119.9 266.4 L119.9 265.5 L120.0 263.9 L120.0 263.8 L120.0 262.4 L120.0 261.9 L120.1 261.8 L120.1 260.5 L120.1 260.1 L120.2 259.1 L120.2 259.0 L120.2 257.5 L120.2 256.3 L120.3 255.5 L120.3 254.7 L120.3 254.2 L120.3 253.3 L120.4 252.8 L120.4 251.7 L120.4 250.8 L120.4 250.1 L120.4 249.2 L120.4 248.6 L120.5 248.1 L120.5 247.3 L120.5 246.1 L120.5 245.0 L120.5 244.5 L120.6 244.0 L120.6 242.0 L120.6 241.9 L120.6 241.5 L120.6 240.4 L120.6 239.4 L120.7 239.6 L120.7 238.6 L120.7 237.1 L120.7 236.8 L120.7 236.0 L120.8 234.3 L120.8 235.1 L120.8 233.0 L120.8 232.5 L120.8 231.5 L120.8 231.1 L120.9 229.7 L120.9 229.4 L120.9 229.0 L120.9 227.9 L120.9 226.9 L120.9 226.8 L121.0 225.0 L121.0 224.9 L121.0 223.6 L121.0 223.1 L121.0 222.3 L121.1 221.7 L121.1 220.9 L121.1 219.8 L121.1 219.0 L121.1 218.5 L121.1 217.3 L121.2 215.9 L121.2 215.2 L121.2 214.2 L121.2 213.6 L121.3 212.9 L121.3 212.1 L121.3 211.0 L121.3 210.6 L121.4 209.3 L121.4 207.9 L121.4 208.3 L121.4 206.9 L121.5 206.4 L121.5 205.5 L121.5 205.4 L121.5 203.7 L121.6 203.5 L121.6 202.4 L121.6 201.4 L121.7 200.6 L121.7 200.8 L121.7 200.0 L121.7 199.5 L121.8 199.2 L121.8 197.9 L121.8 197.2 L121.8 196.3 L121.9 195.5 L121.9 194.3 L121.9 193.0 L122.0 193.3 L122.0 190.8 L122.0 190.8 L122.0 190.1 L122.1 189.1 L122.1 187.8 L122.1 187.4 L122.1 186.5 L122.2 185.5 L122.2 185.1 L122.2 184.2 L122.3 183.2 L122.3 182.9 L122.3 181.3 L122.3 181.2 L122.4 180.0 L122.4 179.7 L122.4 178.9 L122.5 178.2 L122.5 176.8 L122.5 176.1 L122.6 175.3 L122.6 174.9 L122.6 174.2 L122.7 173.5 L122.7 172.0 L122.7 171.6 L122.7 170.0 L122.8 168.9 L122.8 168.7 L122.8 168.0 L122.9 166.8 L122.9 166.0 L122.9 166.3 L123.0 165.0 L123.0 163.9 L123.0 165.1 L123.1 163.5 L123.1 162.5 L123.1 162.1 L123.1 160.4 L123.2 160.4 L123.2 157.8 L123.3 157.0 L123.4 156.7 L123.5 155.6 L123.6 156.0 L123.7 153.8 L123.8 153.6 L123.8 153.4 L123.9 152.9 L124.0 152.5 L124.1 151.4 L124.2 151.6 L124.3 149.3 L124.4 148.8 L124.5 148.3 L124.6 146.9 L124.6 146.3 L124.7 145.4 L124.8 144.5 L124.9 143.2 L125.0 142.6 L125.1 140.9 L125.2 141.3 L125.3 139.3 L125.4 141.2 L125.5 140.3 L125.7 139.2 L126.0 137.6 L126.3 136.5 L126.7 137.3 L127.0 135.5 L127.4 134.9 L127.7 132.6 L128.1 133.4 L128.4 130.4 L128.8 130.6 L129.1 127.8 L129.5 128.5 L129.8 129.4 L130.1 127.5 L130.5 126.7 L130.8 127.5 L131.4 125.6 L132.0 127.1 L132.7 120.7 L133.4 125.6 L134.1 125.4 L134.8 121.2 L135.4 121.6 L136.1 126.0 L136.8 121.9 L137.5 122.6 L138.2 124.7 L138.8 122.4 L139.5 123.4 L140.2 119.8 L140.9 121.4 L141.6 122.3 L142.2 120.3 L142.9 115.0 L143.6 120.8 L144.3 119.7 L145.1 117.6 L145.8 121.7 L146.5 114.6 L147.2 121.1 L147.9 115.4 L148.6 119.5 L149.4 116.0 L150.1 113.4 L150.9 116.5 L151.6 117.3 L152.4 118.0 L153.2 118.8 L154.0 114.1 L154.7 115.8 L155.5 115.2 L156.3 112.3 L157.0 110.5 L157.8 110.3 L158.6 113.7 L159.4 113.9 L160.1 110.7 L160.9 109.8 L161.7 115.2 L162.5 109.7 L163.2 113.2 L164.0 111.2 L164.8 109.0 L165.5 112.3 L166.3 111.2 L167.1 114.3 L167.9 115.8 L168.6 110.8 L169.4 113.1 L170.2 112.9 L171.0 109.5 L171.8 108.6 L172.6 113.3 L173.4 108.8 L174.2 108.9 L175.0 108.0 L175.8 108.1 L176.6 107.2 L177.3 109.9 L178.1 110.8 L178.9 107.2 L179.7 104.8 L180.5 107.3 L181.3 103.7 L182.1 104.9 L182.9 108.4 L183.7 110.7 L184.5 107.3 L185.3 105.3 L186.1 110.2 L186.9 105.1 L187.7 109.1 L188.5 114.1 L189.3 112.4 L190.1 107.6 L190.9 106.3 L191.7 110.9 L192.5 108.7 L193.3 107.1 L194.1 108.5 L194.9 105.9 L195.6 102.7 L196.4 108.1 L197.2 105.1 L198.0 104.5 L198.8 104.1 L199.6 107.6 L200.4 105.6 L201.2 108.4 L202.0 106.2 L202.8 108.7 L203.6 105.7 L204.4 105.3 L205.2 102.7 L206.0 104.4 L206.8 108.0 L207.6 112.9 L208.4 104.4 L209.2 104.9 L210.0 107.3 L210.8 106.8 L211.6 103.6 L212.4 104.8 L213.2 101.4 L214.0 104.4 L214.7 107.1 L215.5 108.3 L216.3 103.9 L217.1 103.0 L217.9 104.0 L218.7 105.2 L219.5 104.1 L220.3 102.0 L221.1 104.9 L221.9 106.5 L222.7 103.2 L223.5 101.8 L224.3 105.4 L225.1 105.0 L225.9 106.3 L226.7 104.6 L227.5 103.0 L228.3 103.4 L229.1 102.2 L229.9 102.6 L230.7 103.8 L231.5 104.3 L232.3 107.8 L233.1 103.0 L233.9 105.0 L234.7 103.2 L235.5 106.8 L236.3 103.5 L237.1 101.5 L237.9 103.5 L238.7 101.8 L239.5 100.6 L240.3 104.9 L241.1 103.7 L241.9 106.5 L242.7 106.1 L243.5 105.6 L244.3 104.0 L245.1 100.7 L245.9 103.5 L246.7 101.6 L247.5 102.6 L248.3 101.3 L249.1 100.3 L249.9 100.3 L250.7 104.6 L251.5 106.5 L252.3 103.3 L253.1 104.5 L253.9 105.7 L254.7 100.3 L255.5 100.6 L256.3 98.7 L257.1 103.4 L257.9 101.7 L258.7 100.4 L259.5 98.0 L260.3 101.0 L261.1 103.5 L261.9 100.8 L262.7 100.4 L263.5 102.3 L264.3 98.1 L265.1 100.7 L265.9 102.1 L266.7 99.6 L267.5 99.7 L268.4 101.9 L269.2 100.8 L270.0 100.2 L270.8 101.2 L271.6 101.8 L272.4 100.1 L273.2 101.1 L274.0 103.4 L274.8 104.2 L275.6 103.9 L276.4 98.6 L277.2 102.1 L278.0 101.1 L278.8 99.2 L279.6 100.2 L280.4 100.8 L281.2 102.7 L282.0 96.8 L282.8 100.3 L283.6 99.1 L284.4 99.5 L285.2 102.8 L286.0 102.4 L286.8 98.6 L287.6 100.0 L288.4 100.9 L289.2 97.5 L290.0 102.7 L290.8 101.3 L291.6 102.2 L292.4 102.7 L293.2 105.7 L294.0 101.8 L294.8 100.6 L295.6 104.6 L296.4 99.6 L297.2 99.3 L298.0 97.6 L298.8 103.0 L299.6 101.8 L300.4 102.7 L301.2 102.3 L302.0 101.3 L302.8 99.3 L303.6 98.5 L304.4 100.3 L305.2 99.3 L306.0 102.4 L306.8 97.6 L307.6 98.3 L308.4 97.5 L309.2 102.8 L310.0 97.6 L310.8 102.0 L311.6 103.5 L312.4 100.3 L313.2 102.2 L314.0 96.3 L314.8 99.8 L315.6 96.9 L316.4 100.6 L317.2 100.0 L318.0 98.1 L318.8 101.3 L319.6 99.8 L320.4 97.9 L321.2 98.0 L322.0 96.0 L322.8 98.7 L323.6 103.5 L324.4 97.6 L325.2 100.1 L326.0 98.1 L326.8 100.6 L327.6 99.2 L328.4 97.4 L329.2 94.2 L330.0 97.4 L330.8 101.5 L331.6 99.0 L332.4 101.4 L333.2 99.7 L334.0 97.5 L334.8 102.8 L335.6 102.7 L336.4 100.6 L337.2 100.8 L338.0 102.0 L338.8 100.3 L339.7 102.4 L340.5 101.3 L341.3 96.5 L342.1 100.5 L342.9 98.7 L343.7 97.2 L344.5 98.9 L345.3 96.6 L346.1 98.9 L346.9 100.6 L347.7 99.1 L348.5 96.1 L349.3 98.4 L350.1 102.4 L350.9 100.4 L351.7 99.5 L352.5 101.2 L353.3 102.3 L354.1 101.5 L354.9 101.8 L355.7 98.4 L356.5 99.6 L357.3 99.9 L358.1 100.6 L358.9 96.2 L359.7 99.8 L360.5 97.0 L361.3 102.3 L362.1 102.3 L362.9 102.6 L363.7 101.3 L364.5 99.3 L365.3 102.9 L366.1 100.6 L366.9 101.9 L367.7 97.9 L368.5 97.6 L369.3 99.1 L370.1 101.4 L370.9 97.5 L371.7 102.9 L372.5 104.9 L373.3 97.3 L374.1 100.6 L374.9 98.9 L375.7 100.6 L376.5 99.5 L377.3 100.3 L378.1 102.3 L378.9 102.4 L379.7 101.4 L380.5 101.5 L381.3 102.3 L382.1 102.5 L382.9 103.2 L383.7 101.4 L384.5 101.7 L385.3 97.1 L386.1 100.8 L386.9 102.1 L387.7 98.2 L388.5 94.5 L389.3 100.2 L390.1 96.7 L390.9 91.1 L391.7 97.0 L392.5 98.8 L393.3 98.5 L394.1 100.7 L394.9 100.0 L395.7 99.4 L396.5 95.2 L397.3 96.8 L398.1 99.1 L398.9 99.6 L399.7 95.8 L400.6 96.7 L401.4 99.2 L402.2 94.3 L403.0 94.3 L403.8 97.9 L404.6 98.9 L405.4 97.4 L406.2 93.7 L407.0 98.9 L407.8 96.0 L408.6 99.8 L409.4 97.7 L410.2 98.2 L411.0 98.8 L411.8 96.3 L412.6 99.3 L413.4 100.2 L414.2 98.4 L415.0 100.4 L415.8 96.1 L416.6 99.3 L417.4 97.8 L418.2 95.1 L419.0 96.9 L419.8 95.9 L420.6 96.1 L421.4 98.2 L422.2 101.0 L423.0 98.5 L423.8 99.3 L424.6 95.4 L425.4 98.4 L426.1 100.7 L426.9 100.3 L427.7 100.0 L428.5 98.0 L429.3 96.9 L430.1 98.4 L430.9 95.3 L431.7 95.0 L432.5 99.2 L433.3 94.7 L434.1 99.9 L434.9 92.5 L435.7 96.0 L436.5 92.0 L437.3 94.6 L438.1 92.3 L438.9 95.4 L439.7 95.8 L440.5 95.6 L441.3 97.4 L442.1 98.9 L442.9 93.8 L443.7 96.7 L444.5 95.0 L445.3 95.1 L446.0 100.0 L446.8 90.4 L447.6 93.0 L448.4 89.8 L449.2 92.7 L450.0 93.4 L450.8 103.3 L451.6 97.2 L452.4 101.6 L453.2 101.2 L454.0 97.7 L454.8 99.5 L455.6 101.6 L456.4 97.8 L457.2 97.2 L458.0 97.1 L458.8 92.0 L459.6 92.9 L460.4 95.1 L461.2 95.7 L462.1 93.0 L462.9 95.0 L463.7 96.0 L464.5 96.3 L465.3 98.1 L466.1 96.7 L466.9 96.8 L467.7 93.4 L468.5 94.3 L469.3 97.2 L470.1 92.8 L470.9 96.5 L471.7 94.2 L472.5 93.7 L473.3 96.7 L474.1 93.6 L474.9 93.0 L475.7 93.2 L476.5 94.8 L477.3 101.0 L478.1 90.9 L478.9 96.1 L479.7 96.3 L480.5 99.2 L481.3 96.4 L482.1 91.5 L482.9 99.3 L483.7 93.6 L484.5 95.7 L485.3 92.6 L486.1 93.0 L486.9 94.1 L487.7 97.0 L488.5 96.9 L489.3 93.6 L490.1 95.6 L490.9 93.3 L491.7 93.9 L492.5 93.8 L493.3 94.7 L494.1 92.1 L494.9 93.3 L495.7 94.3 L496.5 94.2 L497.3 92.6 L498.1 98.4 L498.9 93.9 L499.7 96.9 L500.5 95.9 L501.3 98.2 L502.1 90.5 L502.9 99.2 L503.7 93.8 L504.5 91.4 L505.3 94.9 L506.1 100.3 L506.9 97.1 L507.7 93.6 L508.5 95.1 L509.3 98.7 L510.1 92.3 L510.9 94.7 L511.7 94.4 L512.5 99.9 L513.3 95.0 L514.1 99.2 L514.9 95.7 L515.7 95.9 L516.5 99.8 L517.3 98.3 L518.1 92.3 L519.0 96.8 L519.8 96.5 L520.6 93.8 L521.4 96.0 L522.2 96.6 L523.0 95.5 L523.8 95.5 L524.6 95.1 L525.4 95.4 L526.2 92.7 L527.0 95.4 L527.8 92.2 L528.6 95.6 L529.4 94.9 L530.2 92.5 L531.0 96.3 L531.8 98.3 L532.6 96.4 L533.4 90.2 L534.2 95.9 L535.0 93.8 L535.8 93.5 L536.6 92.7 L537.4 94.4 L538.2 97.8 L539.0 96.0 L539.8 93.8 L540.6 92.8 L541.4 92.7 L542.2 94.3 L543.0 97.0 L543.8 91.0 L544.6 94.2 L545.4 94.2 L546.2 93.8 L547.0 96.4" fill="none" stroke="#f00" stroke-width="6.5" stroke-linejoin="round" stroke-linecap="round"/>
</g>
<g clip-path="url(#c2)">
<path d="M745.0 295.1 L745.7 295.1 L746.5 294.0 L747.2 292.4 L748.0 291.4 L748.7 291.5 L749.4 291.2 L749.9 289.5 L750.5 287.4 L751.0 287.6 L751.5 286.3 L752.0 285.6 L752.6 284.8 L753.1 282.0 L753.6 281.3 L754.1 279.8 L754.7 278.8 L755.2 280.3 L755.7 278.2 L756.2 274.7 L756.8 275.2 L757.3 273.7 L757.8 274.0 L758.3 272.1 L758.9 270.6 L759.4 269.8 L759.9 269.0 L760.5 267.6 L761.0 266.2 L761.5 265.3 L762.0 264.6 L762.6 262.2 L763.1 261.9 L763.6 260.8 L764.1 259.5 L764.7 259.3 L765.2 256.6 L765.7 256.1 L766.2 254.8 L766.8 254.9 L767.3 253.1 L767.8 252.4 L768.3 251.4 L768.9 248.8 L769.4 249.2 L769.9 247.3 L770.4 246.6 L771.0 245.8 L771.5 245.6 L772.1 244.7 L772.6 244.4 L773.1 241.9 L773.7 240.0 L774.2 238.9 L774.8 239.1 L775.3 238.9 L775.9 236.6 L776.4 234.6 L776.9 234.2 L777.3 233.2 L777.4 231.7 L777.4 229.5 L777.5 226.7 L777.5 227.4 L777.6 227.8 L777.6 225.7 L777.6 222.4 L777.7 222.8 L777.7 220.6 L777.8 222.5 L777.8 219.9 L777.9 217.4 L777.9 217.7 L778.0 215.5 L778.0 215.3 L778.1 213.6 L778.1 211.4 L778.2 211.5 L778.2 209.0 L778.3 209.9 L778.3 207.7 L778.3 205.2 L778.4 203.6 L778.4 205.5 L778.5 204.2 L778.5 200.8 L778.6 201.8 L778.7 199.5 L778.8 197.8 L778.9 196.6 L779.0 195.5 L779.0 195.7 L779.1 193.3 L779.2 190.5 L779.3 192.6 L779.4 190.5 L779.5 187.4 L779.6 186.6 L779.7 185.1 L779.8 184.8 L779.9 184.0 L780.0 182.6 L780.1 180.5 L780.2 179.3 L780.5 179.5 L780.8 177.9 L781.1 178.5 L781.4 174.9 L781.7 174.8 L782.0 173.0 L782.3 171.3 L782.6 171.9 L783.0 169.7 L783.3 167.5 L783.6 166.9 L783.9 166.8 L784.2 164.0 L784.5 164.9 L784.8 163.3 L785.1 161.3 L785.4 161.6 L785.7 160.9 L786.0 158.6 L786.3 157.1 L786.6 157.5 L786.9 155.9 L787.2 152.5 L787.5 151.7 L787.8 150.6 L788.1 149.1 L788.4 147.2 L788.8 148.0 L789.1 146.4 L789.4 145.3 L789.7 145.1 L790.0 142.3 L790.3 141.4 L790.6 140.6 L790.9 138.8 L791.2 138.0 L791.5 137.6 L791.8 136.0 L792.1 135.7 L792.4 132.8 L792.7 132.1 L793.0 129.7 L793.3 129.5 L793.5 128.2 L793.7 128.8 L793.9 127.2 L794.0 125.9 L794.2 125.9 L794.4 124.4 L794.6 122.3 L794.8 119.6 L795.0 117.7 L795.1 117.7 L795.3 116.3 L795.5 114.9 L795.7 113.8 L795.9 111.8 L796.0 113.1 L796.2 109.8 L796.4 108.9 L796.6 108.7 L796.8 105.9 L796.9 106.8 L797.1 105.8 L797.3 103.3 L797.5 101.3 L797.7 100.5 L797.9 98.4 L798.0 100.0 L798.2 97.8 L798.4 95.7 L798.6 94.4 L798.8 94.8 L798.9 94.3 L799.1 90.7 L799.3 89.6 L799.5 87.7 L799.7 88.6 L799.8 87.5 L800.1 88.0 L800.7 84.9 L801.3 83.2 L801.9 82.0 L802.4 82.1 L803.0 79.2 L803.6 80.1 L804.2 78.7 L804.8 76.8 L805.4 75.6 L806.0 76.4 L806.6 76.1 L807.3 73.2 L808.2 73.2 L809.0 73.3 L809.9 70.4 L810.7 69.4 L811.6 67.8 L812.4 67.9 L813.3 67.2 L814.1 67.6 L815.0 68.0 L815.8 68.0 L816.7 69.0 L817.5 70.5 L818.4 72.8 L819.2 72.7 L820.1 73.3 L820.7 75.7 L821.3 76.7 L821.9 76.5 L822.5 77.6 L823.1 79.9 L823.8 80.6 L824.6 80.3 L825.7 81.7 L826.8 82.3 L827.8 83.7 L828.9 82.7 L830.0 84.6 L831.0 84.8 L832.1 84.2 L833.2 86.5 L834.2 86.9 L835.3 85.6 L836.5 88.2 L837.7 85.7 L839.0 85.7 L840.2 86.5 L841.4 87.7 L842.6 87.6 L843.8 87.2 L845.0 88.5 L846.2 87.9 L847.4 89.0 L848.6 90.2 L849.8 87.6 L851.0 84.9 L852.2 86.6 L853.4 86.5 L854.6 87.6 L855.8 87.7 L857.0 86.5 L858.2 86.6 L859.4 87.5 L860.6 87.4 L861.8 85.6 L863.0 88.6 L864.2 88.2 L865.4 88.0 L866.6 86.4 L867.8 87.0 L869.0 88.0 L870.2 89.1 L871.4 88.2 L872.6 88.6 L873.8 87.7 L875.1 87.3 L876.3 82.1 L877.5 88.6 L878.7 87.4 L879.9 85.7 L881.0 86.9 L882.2 84.3 L883.4 89.9 L884.6 86.2 L885.8 83.6 L887.0 88.8 L888.2 91.4 L889.4 90.0 L890.6 87.4 L891.8 87.6 L893.0 87.0 L894.2 86.5 L895.4 88.5 L896.6 90.8 L897.8 90.0 L899.0 88.3 L900.2 87.7 L901.4 88.3 L902.6 88.9 L903.8 86.4 L905.0 86.2 L906.2 89.7 L907.4 88.7 L908.6 85.6 L909.8 88.7 L911.0 89.4 L912.2 87.7 L913.4 88.6 L914.6 89.7 L915.8 87.2 L917.1 87.8 L918.3 82.8 L919.5 87.3 L920.7 86.6 L921.9 88.5 L923.1 89.6 L924.3 88.9 L925.5 87.0 L926.7 88.8 L927.9 88.7 L929.1 87.3 L930.3 84.8 L931.5 88.8 L932.7 84.9 L933.9 87.8 L935.1 86.1 L936.3 79.5 L937.5 88.9 L938.7 89.0 L939.9 87.7 L941.1 87.9 L942.4 88.3 L943.6 87.5 L944.8 87.5 L946.0 87.1 L947.2 88.1 L948.4 87.7 L949.6 89.0 L950.8 88.7 L952.0 86.4 L953.2 88.1 L954.4 84.1 L955.6 85.1 L956.8 84.9 L958.0 89.1 L959.2 86.1 L960.4 88.9 L961.6 89.6 L962.8 89.3 L964.0 84.2 L965.2 87.0 L966.4 87.7 L967.6 81.9 L968.9 84.3 L970.1 87.7 L971.3 88.3 L972.5 88.2 L973.7 86.5 L974.9 86.7 L976.1 86.4 L977.3 88.2 L978.5 89.0 L979.7 88.1 L980.9 88.7 L982.1 84.4 L983.3 84.7 L984.5 87.3 L985.7 88.4 L986.9 87.6 L988.1 84.2 L989.3 88.5 L990.5 90.0 L991.7 81.3 L992.9 87.1 L994.2 87.3 L995.4 89.9 L996.6 87.6 L997.8 88.8 L999.0 89.5 L1000.2 89.1 L1001.4 87.3 L1002.6 89.0 L1003.8 89.1 L1005.0 88.7 L1006.2 89.0 L1007.4 87.6 L1008.6 87.8 L1009.8 79.5 L1011.0 81.0 L1012.2 87.5 L1013.4 88.2 L1014.6 86.9 L1015.8 85.5 L1017.0 87.6 L1018.2 87.9 L1019.4 82.4 L1020.7 87.8 L1021.9 87.5 L1023.1 82.8 L1024.3 88.7 L1025.5 87.5 L1026.7 81.2 L1027.9 87.3 L1029.1 88.8 L1030.3 87.3 L1031.5 88.5 L1032.7 86.6 L1033.9 90.0 L1035.1 89.5 L1036.3 88.6 L1037.5 83.7 L1038.7 82.7 L1039.9 89.5 L1041.1 84.1 L1042.3 88.9 L1043.5 88.1 L1044.7 87.6 L1046.0 89.2 L1047.2 89.3 L1048.4 87.2 L1049.6 88.1 L1050.8 88.5 L1052.0 85.3 L1053.2 88.6 L1054.4 89.3 L1055.4 89.9 L1056.5 87.7 L1057.6 88.6 L1058.6 91.0 L1059.7 90.9 L1060.7 85.1 L1061.7 92.5 L1062.8 91.6 L1063.8 88.5 L1064.8 95.8 L1065.9 92.3 L1067.1 89.4 L1068.2 94.0 L1069.4 96.2 L1070.5 94.8 L1071.7 95.6 L1072.9 96.3 L1074.1 96.8 L1075.3 94.3 L1076.5 97.2 L1077.7 95.9 L1078.9 96.9 L1080.1 97.5 L1081.3 96.3 L1082.5 95.9 L1083.7 96.5 L1085.0 96.5 L1086.2 95.7 L1087.4 96.8 L1088.6 97.4 L1089.8 95.0 L1091.0 94.3 L1092.2 96.4 L1093.4 94.3 L1094.6 95.3 L1095.8 97.3 L1097.0 95.5 L1098.2 94.2 L1099.4 95.9 L1100.6 95.7 L1101.8 87.2 L1103.0 96.3 L1104.2 95.9 L1105.4 95.4 L1106.6 95.7 L1107.8 95.4 L1109.0 95.1 L1110.3 95.2 L1111.5 95.4 L1112.7 97.1 L1113.9 95.1 L1115.1 92.1 L1116.3 95.2 L1117.5 94.8 L1118.7 95.8 L1119.9 93.4 L1121.1 97.0 L1122.3 94.9 L1123.5 93.1 L1124.7 98.0 L1125.9 94.0 L1127.1 93.9 L1128.3 96.3 L1129.5 96.3 L1130.7 95.4 L1131.9 95.7 L1133.1 94.9 L1134.3 89.2 L1135.5 97.1 L1136.7 95.4 L1137.9 95.8 L1139.1 90.4 L1140.3 97.4 L1141.5 92.2 L1142.8 95.3 L1144.0 94.5 L1145.2 94.2 L1146.4 94.4 L1147.6 93.9 L1148.8 92.7 L1150.0 92.4 L1151.2 93.6 L1152.4 92.6 L1153.6 95.6 L1154.8 94.0 L1156.0 93.4 L1157.2 94.3 L1158.4 91.1 L1159.6 94.0 L1160.8 94.1 L1162.0 95.7 L1163.2 93.6 L1164.4 93.0 L1165.6 92.0 L1166.8 93.7 L1168.0 93.5 L1169.2 95.2 L1170.4 89.4 L1171.6 90.5 L1172.8 94.4 L1174.0 94.6 L1174.0 106.9 L1172.8 108.6 L1171.6 108.4 L1170.4 107.6 L1169.2 113.4 L1168.0 108.8 L1166.8 107.9 L1165.6 109.4 L1164.4 109.9 L1163.2 107.2 L1162.0 107.6 L1160.8 108.9 L1159.6 109.1 L1158.4 107.9 L1157.2 108.0 L1156.0 108.6 L1154.8 107.9 L1153.6 117.0 L1152.4 113.0 L1151.2 110.4 L1150.0 107.9 L1148.8 108.3 L1147.6 107.9 L1146.4 109.1 L1145.2 113.4 L1144.0 107.5 L1142.8 107.6 L1141.6 109.3 L1140.4 108.9 L1139.2 109.3 L1138.0 108.9 L1136.8 116.2 L1135.6 109.5 L1134.4 110.2 L1133.2 110.2 L1132.0 110.5 L1130.8 111.7 L1129.6 114.0 L1128.4 113.0 L1127.2 115.1 L1126.0 108.8 L1124.8 111.3 L1123.6 113.2 L1122.4 114.4 L1121.1 118.4 L1119.9 108.5 L1118.7 116.9 L1117.5 110.1 L1116.3 109.8 L1115.1 113.0 L1113.9 112.1 L1112.7 113.9 L1111.5 110.9 L1110.3 111.0 L1109.1 111.4 L1107.9 110.9 L1106.7 111.9 L1105.5 110.7 L1104.3 111.6 L1103.1 109.9 L1101.9 110.5 L1100.7 110.2 L1099.5 111.1 L1098.3 110.3 L1097.1 110.7 L1095.9 117.0 L1094.7 114.3 L1093.5 109.8 L1092.3 109.7 L1091.1 109.1 L1089.9 111.6 L1088.7 111.4 L1087.5 112.2 L1086.2 110.9 L1085.0 110.3 L1083.8 113.2 L1082.6 110.5 L1081.4 117.3 L1080.2 110.8 L1079.0 109.0 L1077.8 110.0 L1076.6 108.7 L1075.4 115.0 L1074.2 107.7 L1073.0 107.6 L1071.8 111.1 L1070.6 125.8 L1069.5 108.3 L1068.3 109.2 L1067.2 108.1 L1066.0 108.6 L1064.9 109.7 L1063.9 108.8 L1062.9 107.2 L1061.8 105.3 L1060.8 105.4 L1059.8 111.1 L1058.7 106.2 L1057.7 104.7 L1056.6 103.9 L1055.5 104.3 L1054.5 102.1 L1053.3 102.0 L1052.1 109.9 L1050.9 100.6 L1049.7 102.5 L1048.5 101.6 L1047.3 100.0 L1046.1 101.0 L1044.9 99.5 L1043.7 102.8 L1042.5 103.8 L1041.3 103.7 L1040.1 102.6 L1038.9 103.0 L1037.7 101.2 L1036.5 101.6 L1035.3 102.6 L1034.0 101.3 L1032.8 103.7 L1031.6 102.1 L1030.4 102.8 L1029.2 101.4 L1028.0 103.7 L1026.8 106.1 L1025.6 102.3 L1024.4 100.4 L1023.2 105.9 L1022.0 101.3 L1020.8 101.4 L1019.6 102.7 L1018.4 109.7 L1017.2 104.0 L1016.0 100.0 L1014.8 102.0 L1013.6 100.0 L1012.4 106.3 L1011.2 103.4 L1010.0 102.8 L1008.8 102.3 L1007.6 102.0 L1006.4 100.8 L1005.2 101.3 L1004.0 102.0 L1002.8 102.2 L1001.6 109.6 L1000.4 101.3 L999.1 102.2 L997.9 109.0 L996.7 109.7 L995.5 101.9 L994.3 102.9 L993.1 101.8 L991.9 102.3 L990.7 104.5 L989.5 102.6 L988.3 102.7 L987.1 102.2 L985.9 104.3 L984.7 102.0 L983.5 101.9 L982.3 108.2 L981.1 102.1 L979.9 101.1 L978.7 100.1 L977.5 100.5 L976.3 102.9 L975.1 103.1 L973.9 102.3 L972.7 103.7 L971.5 103.3 L970.3 104.2 L969.1 103.1 L967.9 108.6 L966.7 104.8 L965.5 103.6 L964.2 104.0 L963.0 104.0 L961.8 100.5 L960.6 101.8 L959.4 103.6 L958.2 101.2 L957.0 102.5 L955.8 102.7 L954.6 106.0 L953.4 102.3 L952.2 104.2 L951.0 101.4 L949.8 101.7 L948.6 100.2 L947.4 102.8 L946.2 103.2 L945.0 102.7 L943.8 101.3 L942.6 102.5 L941.4 104.7 L940.2 104.6 L939.0 101.2 L937.8 103.6 L936.6 101.4 L935.4 102.2 L934.2 101.5 L933.0 105.2 L931.8 100.8 L930.6 106.2 L929.3 100.1 L928.1 102.0 L926.9 107.7 L925.7 105.8 L924.5 107.6 L923.3 110.3 L922.1 102.5 L920.9 102.2 L919.7 112.6 L918.5 102.8 L917.3 103.0 L916.1 101.7 L914.9 98.4 L913.7 107.2 L912.5 102.6 L911.3 102.0 L910.1 101.3 L908.9 103.2 L907.7 100.8 L906.5 100.7 L905.3 102.0 L904.1 101.0 L902.9 101.9 L901.7 101.6 L900.5 102.2 L899.3 110.2 L898.1 101.0 L896.9 105.6 L895.7 104.1 L894.5 101.7 L893.3 103.3 L892.1 103.2 L890.9 103.9 L889.6 108.5 L888.4 102.5 L887.2 102.3 L886.0 101.5 L884.8 102.8 L883.6 103.7 L882.5 103.0 L881.3 103.4 L880.2 103.3 L879.0 104.2 L877.8 103.8 L876.6 104.2 L875.4 104.2 L874.2 103.3 L873.0 105.0 L871.8 103.9 L870.6 104.5 L869.4 106.7 L868.2 105.0 L867.0 102.6 L865.8 102.8 L864.6 103.4 L863.4 103.2 L862.2 102.7 L861.0 103.4 L859.8 102.9 L858.6 101.9 L857.4 100.2 L856.2 101.7 L855.0 101.8 L853.8 102.7 L852.6 101.2 L851.4 100.5 L850.2 103.2 L849.0 99.9 L847.8 101.9 L846.6 102.0 L845.4 102.3 L844.2 100.3 L843.0 102.1 L841.7 101.1 L840.5 101.3 L839.3 101.6 L838.1 101.5 L836.9 100.7 L835.7 101.1 L834.6 101.5 L833.5 101.1 L832.3 103.5 L831.2 105.8 L830.1 104.5 L829.0 104.6 L827.9 105.7 L826.8 107.4 L825.6 105.3 L825.0 106.2 L824.9 107.3 L824.8 107.4 L824.7 109.4 L824.7 110.9 L824.6 110.8 L824.5 112.3 L824.4 115.6 L824.4 116.5 L824.3 116.0 L824.2 116.9 L824.1 119.5 L824.1 119.6 L824.0 120.1 L823.9 123.2 L823.8 124.1 L823.8 125.5 L823.7 126.9 L823.6 128.0 L823.5 130.0 L823.5 129.0 L823.4 129.1 L823.3 131.4 L823.2 131.4 L823.2 133.8 L823.1 135.5 L823.0 135.1 L822.9 139.6 L822.8 140.2 L822.8 139.7 L822.7 140.3 L822.6 143.3 L822.5 145.4 L822.5 144.4 L822.4 146.1 L822.3 148.0 L822.2 147.0 L822.2 147.6 L822.1 152.8 L822.0 152.8 L821.9 154.3 L821.9 156.5 L821.8 155.7 L821.7 158.5 L821.6 159.8 L821.6 158.7 L821.5 160.9 L821.4 162.9 L821.3 163.5 L821.3 165.1 L821.2 165.7 L821.1 165.9 L821.0 166.8 L821.0 168.6 L820.9 169.9 L820.8 172.5 L820.7 173.5 L820.7 173.0 L820.6 177.0 L820.5 177.3 L820.4 176.5 L820.3 178.3 L820.1 179.7 L819.9 182.3 L819.8 182.7 L819.6 182.9 L819.4 185.4 L819.2 186.6 L819.1 187.4 L818.9 188.6 L818.7 188.3 L818.6 189.9 L818.4 192.9 L818.2 193.8 L818.0 193.9 L817.9 196.9 L817.7 197.4 L817.5 198.7 L817.3 200.6 L817.2 201.4 L817.0 202.6 L816.9 201.8 L816.7 204.6 L816.6 205.8 L816.4 208.4 L816.3 208.8 L816.2 209.2 L816.0 209.9 L815.9 209.3 L815.7 211.7 L815.6 213.6 L815.4 215.5 L815.3 216.9 L815.1 216.8 L815.0 217.3 L814.8 219.3 L814.7 220.4 L814.5 222.7 L814.2 223.4 L813.9 222.8 L813.6 224.6 L813.3 227.2 L813.0 227.2 L812.7 228.0 L812.5 229.7 L812.2 231.1 L811.9 231.9 L811.6 233.2 L811.3 233.5 L811.0 236.5 L810.7 237.4 L810.1 238.7 L809.4 239.2 L808.6 239.9 L807.9 241.2 L807.1 241.4 L806.4 242.6 L805.6 244.8 L804.9 243.7 L804.3 243.9 L803.6 245.4 L802.9 247.7 L802.3 249.2 L801.6 247.7 L800.9 249.9 L800.3 251.0 L799.6 252.5 L798.9 252.3 L798.3 255.7 L797.6 256.1 L797.1 257.6 L796.7 257.2 L796.3 258.4 L795.9 260.9 L795.5 260.5 L795.1 263.6 L794.7 264.2 L794.3 265.8 L793.9 268.4 L793.5 267.8 L793.1 268.3 L792.7 268.0 L792.3 270.2 L791.9 270.8 L791.5 273.4 L791.1 273.6 L790.6 273.8 L790.2 275.7 L789.8 276.6 L789.4 275.9 L789.0 278.5 L788.6 280.2 L788.2 281.3 L787.8 281.2 L787.4 283.9 L787.0 283.4 L786.6 286.9 L786.2 285.7 L785.8 287.3 L785.3 289.7 L784.9 289.9 L784.5 291.6 L784.1 293.8 L783.7 293.5 L783.3 296.0 L783.0 297.6 L782.6 297.1 L782.2 297.5 L781.8 298.7 L781.4 300.6 L781.1 302.5 L780.7 303.0 L780.3 305.8 L779.8 304.9 L779.1 302.6 L778.4 303.0 L777.6 302.1 L776.9 299.2 L776.1 300.1 L775.4 299.0 L774.6 298.1 L773.9 297.4 L773.2 295.2 L772.4 296.3 L771.7 295.1 L770.9 294.2 L769.9 292.9 L768.7 292.7 L767.6 293.1 L766.4 295.3 L765.2 294.0 L764.0 293.9 L762.8 294.4 L761.6 294.6 L760.5 295.2 L759.5 295.5 L758.4 297.4 L757.4 297.0 L756.4 298.1 L755.3 297.2 L754.3 298.3 L753.2 301.2 L752.2 298.6 L751.0 299.2 L749.8 299.3 L748.6 298.8 L747.4 299.4 L746.2 300.4 L745.0 298.9 Z" fill="#000" fill-opacity="0.2" stroke="#000" stroke-opacity="0.24" stroke-width="3" stroke-linejoin="round"/>
<path d="M745.0 301.7 L745.1 298.9 L745.2 297.8 L745.3 297.0 L745.4 297.3 L745.5 293.9 L745.6 294.1 L745.7 292.1 L745.8 290.1 L745.9 287.3 L746.0 288.6 L746.1 286.1 L746.2 285.1 L746.3 284.6 L746.4 283.5 L746.5 283.2 L746.6 280.3 L746.8 279.8 L746.9 278.8 L747.1 277.4 L747.3 276.8 L747.5 274.9 L747.6 274.8 L747.8 271.7 L748.0 269.7 L748.2 270.0 L748.4 270.1 L748.5 267.3 L748.7 265.8 L748.9 264.9 L749.1 264.3 L749.2 262.9 L749.4 261.8 L749.6 259.0 L749.8 260.8 L749.9 258.9 L750.1 256.4 L750.3 257.2 L750.5 255.5 L750.7 254.9 L750.8 251.5 L751.0 252.7 L751.2 249.9 L751.4 246.6 L751.5 248.0 L751.7 245.9 L751.9 244.0 L752.1 243.3 L752.3 240.7 L752.4 241.8 L752.6 240.2 L752.8 239.0 L753.0 239.4 L753.1 236.9 L753.3 234.8 L753.5 233.3 L753.7 233.2 L753.8 233.0 L754.0 230.2 L754.2 228.6 L754.4 229.3 L754.6 227.4 L754.7 226.3 L754.9 226.9 L755.1 222.7 L755.3 222.3 L755.4 219.4 L755.6 219.6 L755.8 219.6 L756.0 218.8 L756.2 215.5 L756.3 216.1 L756.5 215.1 L756.7 213.3 L756.9 214.3 L757.0 210.8 L757.2 208.5 L757.4 208.2 L757.6 205.3 L757.7 207.3 L757.9 205.8 L758.1 203.2 L758.3 202.9 L758.5 202.0 L758.6 201.9 L758.9 198.1 L759.1 195.7 L759.3 193.9 L759.5 194.3 L759.7 192.2 L759.9 192.4 L760.1 191.9 L760.3 189.8 L760.6 188.3 L760.8 189.1 L761.0 186.8 L761.2 186.0 L761.4 185.3 L761.6 181.9 L761.8 181.3 L762.1 183.4 L762.3 179.7 L762.5 177.4 L762.7 176.8 L762.9 175.3 L763.1 173.5 L763.3 173.2 L763.5 172.5 L763.8 171.5 L764.0 170.5 L764.0 167.1 L764.1 166.1 L764.1 167.2 L764.2 165.2 L764.2 165.5 L764.3 163.3 L764.3 160.4 L764.4 160.8 L764.4 158.4 L764.5 158.5 L764.5 158.6 L764.6 158.2 L764.6 154.9 L764.7 154.1 L764.7 152.7 L764.8 151.5 L764.8 147.1 L764.9 147.8 L764.9 147.7 L765.0 146.6 L765.0 144.3 L765.1 144.7 L765.1 143.8 L765.1 141.5 L765.2 139.9 L765.2 138.5 L765.3 138.0 L765.3 138.0 L765.4 137.0 L765.4 133.7 L765.5 131.8 L765.5 130.9 L765.6 131.5 L765.6 129.7 L765.7 128.5 L765.7 127.5 L765.8 126.1 L765.8 124.3 L765.9 122.1 L765.9 121.3 L766.0 121.0 L766.0 120.1 L766.1 118.1 L766.2 117.0 L766.3 117.4 L766.4 114.6 L766.5 113.8 L766.7 112.1 L766.8 110.1 L766.9 108.3 L767.0 108.0 L767.1 106.9 L767.2 107.1 L767.3 104.1 L767.4 103.6 L767.5 103.5 L767.6 101.7 L767.7 101.1 L767.8 100.0 L767.9 96.4 L768.0 96.1 L768.3 94.9 L768.7 95.8 L769.1 93.6 L769.5 93.0 L769.9 93.0 L770.2 89.9 L770.6 89.0 L771.0 88.1 L771.4 86.5 L771.7 86.8 L772.1 85.5 L772.5 84.3 L772.9 82.2 L773.3 80.5 L773.8 79.3 L774.4 78.1 L774.9 76.0 L775.5 76.9 L776.1 76.4 L776.7 74.5 L777.2 72.9 L777.8 72.4 L778.4 71.6 L778.9 70.9 L779.5 71.0 L780.1 67.5 L780.6 67.4 L781.2 66.8 L781.8 65.1 L782.3 63.5 L782.9 61.6 L783.5 61.1 L784.1 61.6 L785.3 62.4 L786.5 60.5 L787.7 61.5 L788.9 61.9 L790.1 62.4 L791.3 61.8 L792.5 62.1 L793.7 62.4 L794.9 60.6 L796.1 61.4 L797.3 59.7 L798.5 59.5 L799.7 60.7 L800.8 60.1 L801.9 61.7 L803.0 61.8 L804.2 60.1 L805.3 59.6 L806.4 59.1 L807.5 58.6 L808.6 58.6 L809.7 58.3 L810.8 57.0 L811.9 56.1 L812.9 55.8 L813.8 56.2 L814.7 54.6 L815.6 55.3 L816.5 53.3 L817.4 53.5 L818.3 50.4 L819.2 49.9 L820.1 50.6 L821.1 51.4 L822.1 51.7 L823.0 54.4 L824.0 53.4 L825.0 53.9 L825.9 54.1 L826.9 56.9 L827.9 57.0 L828.8 56.9 L829.8 55.7 L830.8 58.1 L831.8 58.3 L832.7 59.9 L833.7 61.0 L834.7 60.2 L835.6 61.8 L836.6 63.2 L837.6 63.2 L838.5 63.2 L839.5 63.2 L840.5 64.1 L841.5 64.5 L842.5 67.3 L843.5 67.2 L844.5 66.5 L845.5 68.1 L846.5 67.3 L847.5 66.4 L848.5 71.4 L849.5 72.2 L850.5 70.3 L851.5 71.5 L852.5 73.1 L853.5 73.3 L854.5 73.4 L855.5 74.4 L856.5 75.4 L857.6 75.8 L858.6 77.2 L859.6 77.4 L860.5 77.7 L861.4 79.0 L862.3 78.6 L863.2 81.9 L864.1 80.0 L865.1 82.2 L866.0 83.6 L866.9 84.5 L867.8 85.3 L868.7 86.8 L869.6 85.4 L870.5 87.0 L871.6 87.5 L872.8 87.0 L874.0 87.1 L875.2 88.9 L876.4 87.2 L877.6 87.3 L878.8 87.7 L880.0 87.9 L881.2 88.4 L882.4 88.2 L883.6 88.8 L884.8 88.8 L886.0 89.4 L887.2 90.2 L888.4 88.6 L889.6 84.4 L890.8 83.1 L892.0 90.2 L893.2 90.0 L894.4 89.4 L895.2 86.7 L895.6 91.0 L896.0 87.0 L896.4 93.2 L896.9 96.0 L898.1 95.5 L899.3 97.2 L900.5 97.1 L901.7 96.0 L902.9 94.1 L904.1 95.7 L905.3 93.8 L906.5 95.0 L907.7 95.1 L908.9 94.6 L910.1 87.6 L911.3 93.7 L912.5 95.9 L913.7 91.6 L914.9 93.9 L916.1 95.2 L917.3 96.7 L918.5 95.5 L919.8 93.9 L921.0 92.8 L922.2 95.9 L923.4 96.9 L924.6 94.2 L925.8 94.8 L927.0 94.2 L928.2 94.7 L929.4 95.3 L930.6 95.0 L931.8 94.7 L933.0 96.3 L934.2 95.2 L935.4 95.0 L936.6 94.3 L937.8 92.4 L939.0 89.5 L940.2 95.9 L941.4 94.3 L942.6 93.4 L943.8 96.3 L945.0 95.9 L946.2 95.0 L947.5 89.5 L948.7 93.4 L949.9 93.3 L951.1 95.5 L952.3 96.1 L953.5 92.3 L954.7 94.7 L955.9 91.5 L957.1 95.0 L958.3 95.5 L959.5 96.4 L960.7 95.3 L961.9 94.7 L963.1 94.9 L964.3 94.6 L965.5 94.6 L966.7 90.6 L967.9 93.1 L969.1 93.8 L970.3 94.7 L971.5 95.2 L972.7 95.5 L973.9 96.3 L975.1 92.1 L976.4 94.4 L977.6 93.8 L978.8 94.8 L980.0 96.5 L981.2 93.8 L982.4 88.3 L983.6 94.9 L984.8 95.6 L986.0 94.8 L987.2 90.7 L988.4 94.7 L989.6 94.8 L990.8 95.8 L992.0 91.8 L993.2 95.1 L994.4 92.1 L995.6 95.3 L996.8 94.2 L998.0 95.4 L999.2 93.6 L1000.4 95.0 L1001.6 90.0 L1002.8 94.9 L1004.1 94.9 L1005.3 96.9 L1006.5 96.1 L1007.7 95.0 L1008.9 94.6 L1010.1 95.5 L1011.3 96.1 L1012.5 96.5 L1013.7 97.0 L1014.9 95.9 L1016.1 94.6 L1017.3 97.4 L1018.5 88.7 L1019.7 96.3 L1020.9 96.6 L1022.1 94.0 L1023.3 94.7 L1024.5 95.0 L1025.7 96.4 L1026.9 94.3 L1028.1 89.4 L1029.3 97.0 L1030.5 96.2 L1031.8 95.4 L1033.0 93.8 L1034.2 94.4 L1035.4 95.7 L1036.6 95.1 L1037.8 95.9 L1039.0 95.1 L1040.2 94.6 L1041.4 95.4 L1042.6 94.2 L1043.8 89.9 L1045.0 95.3 L1046.2 91.8 L1047.4 95.1 L1048.6 94.8 L1049.8 92.1 L1051.0 93.3 L1052.2 93.6 L1053.4 90.1 L1054.6 96.0 L1055.8 85.0 L1056.9 93.7 L1058.0 94.7 L1059.1 92.5 L1060.2 92.8 L1061.3 94.2 L1062.3 87.6 L1063.3 90.1 L1064.3 88.1 L1065.3 88.5 L1066.3 88.3 L1067.4 90.6 L1068.4 89.6 L1069.5 86.9 L1070.5 89.0 L1071.7 83.1 L1072.9 87.0 L1074.1 83.5 L1075.3 86.3 L1076.5 86.1 L1077.7 85.0 L1078.9 84.0 L1080.1 86.8 L1081.3 83.1 L1082.5 86.3 L1083.7 87.7 L1084.9 86.2 L1086.1 81.0 L1087.4 86.7 L1088.6 80.3 L1089.8 85.9 L1091.0 86.7 L1092.2 86.0 L1093.4 85.1 L1094.6 86.7 L1095.8 87.1 L1097.0 86.4 L1098.2 84.8 L1099.4 81.6 L1100.6 81.3 L1101.8 84.3 L1103.0 85.8 L1104.2 88.1 L1105.4 89.0 L1106.6 88.2 L1107.8 87.7 L1109.0 87.9 L1110.2 87.7 L1111.4 85.6 L1112.6 86.5 L1113.8 88.7 L1115.0 88.9 L1116.2 87.9 L1117.4 87.3 L1118.7 87.2 L1119.9 87.0 L1121.1 86.5 L1122.3 85.8 L1123.5 87.7 L1124.7 87.5 L1125.9 81.3 L1127.1 89.8 L1128.3 85.3 L1129.5 87.6 L1130.7 88.5 L1131.9 84.4 L1133.1 84.6 L1134.3 88.7 L1135.5 88.3 L1136.7 89.2 L1137.9 90.0 L1139.1 88.1 L1140.3 87.8 L1141.5 90.7 L1142.7 85.6 L1143.9 90.2 L1145.1 88.4 L1146.3 89.0 L1147.5 88.4 L1148.7 89.5 L1149.9 88.7 L1151.1 87.1 L1152.3 89.6 L1153.5 89.4 L1154.7 87.2 L1156.0 88.6 L1157.2 88.2 L1158.4 87.9 L1159.6 88.6 L1160.8 87.0 L1162.0 89.4 L1163.2 88.1 L1164.4 87.5 L1165.6 88.5 L1166.8 90.3 L1168.0 84.4 L1169.2 88.3 L1170.4 90.3 L1171.6 77.8 L1172.8 90.1 L1174.0 87.5 L1174.0 105.3 L1172.8 107.1 L1171.6 102.4 L1170.4 104.6 L1169.2 104.6 L1168.0 104.0 L1166.8 103.6 L1165.6 103.1 L1164.4 103.5 L1163.2 103.4 L1162.0 104.0 L1160.8 104.8 L1159.6 102.7 L1158.4 102.1 L1157.2 102.3 L1156.0 103.0 L1154.8 105.6 L1153.6 103.6 L1152.4 106.1 L1151.2 104.3 L1150.0 104.1 L1148.8 103.2 L1147.6 105.9 L1146.4 102.9 L1145.2 102.0 L1144.0 100.7 L1142.8 101.5 L1141.6 103.3 L1140.4 102.9 L1139.2 103.5 L1138.0 106.2 L1136.7 101.9 L1135.5 105.6 L1134.3 102.2 L1133.1 102.3 L1131.9 102.6 L1130.7 101.5 L1129.5 108.8 L1128.3 102.4 L1127.1 107.8 L1125.9 106.2 L1124.7 109.1 L1123.5 105.4 L1122.3 105.1 L1121.1 101.3 L1119.9 102.0 L1118.7 106.7 L1117.5 101.1 L1116.3 100.8 L1115.1 99.7 L1113.9 101.3 L1112.7 99.5 L1111.5 101.8 L1110.3 110.4 L1109.1 102.1 L1107.9 102.0 L1106.7 104.2 L1105.5 99.5 L1104.3 99.8 L1103.1 101.3 L1101.9 101.7 L1100.7 105.5 L1099.5 100.6 L1098.3 103.9 L1097.1 99.7 L1095.9 102.0 L1094.7 105.0 L1093.5 103.1 L1092.3 100.1 L1091.1 101.3 L1089.9 109.5 L1088.7 102.8 L1087.5 100.5 L1086.3 101.2 L1085.1 100.8 L1083.9 105.3 L1082.7 101.5 L1081.5 100.5 L1080.3 101.8 L1079.1 102.1 L1077.8 101.7 L1076.6 101.4 L1075.4 100.5 L1074.2 104.8 L1073.0 101.9 L1071.8 101.5 L1070.6 101.2 L1069.6 107.7 L1068.5 103.0 L1067.5 102.9 L1066.5 103.8 L1065.4 103.0 L1064.4 104.3 L1063.4 104.9 L1062.4 107.3 L1061.4 114.4 L1060.4 109.3 L1059.3 108.7 L1058.2 109.3 L1057.0 108.3 L1055.9 109.0 L1054.8 111.5 L1053.6 109.9 L1052.4 110.4 L1051.2 110.1 L1050.0 115.2 L1048.8 114.9 L1047.6 108.7 L1046.4 108.9 L1045.2 108.2 L1044.0 107.2 L1042.8 109.3 L1041.6 118.2 L1040.4 108.0 L1039.2 110.9 L1038.0 115.8 L1036.8 110.2 L1035.6 110.6 L1034.4 110.2 L1033.1 110.6 L1031.9 109.8 L1030.7 110.1 L1029.5 109.9 L1028.3 114.3 L1027.1 112.1 L1025.9 109.2 L1024.7 108.5 L1023.5 109.0 L1022.3 108.5 L1021.1 109.7 L1019.9 109.7 L1018.7 109.5 L1017.5 108.6 L1016.3 109.8 L1015.1 109.0 L1013.9 110.1 L1012.7 109.2 L1011.5 113.9 L1010.3 107.7 L1009.1 110.1 L1007.9 112.9 L1006.7 109.0 L1005.5 109.4 L1004.3 107.7 L1003.1 108.1 L1001.9 111.3 L1000.7 108.9 L999.5 111.4 L998.3 108.5 L997.1 108.9 L995.9 112.8 L994.7 113.2 L993.5 110.3 L992.3 111.1 L991.1 114.7 L989.9 108.4 L988.7 110.9 L987.4 110.1 L986.2 110.7 L985.0 109.5 L983.8 110.9 L982.6 120.0 L981.4 110.8 L980.2 109.8 L979.0 108.5 L977.8 111.0 L976.6 108.9 L975.4 108.6 L974.2 109.5 L973.0 108.9 L971.8 110.5 L970.6 109.0 L969.4 111.6 L968.2 115.5 L967.0 109.9 L965.8 109.9 L964.6 108.4 L963.4 108.9 L962.2 109.8 L961.0 110.1 L959.8 109.0 L958.6 109.9 L957.4 109.9 L956.2 116.9 L955.0 110.3 L953.8 111.4 L952.6 109.5 L951.4 108.1 L950.2 108.0 L949.0 107.9 L947.8 112.5 L946.6 113.3 L945.4 108.9 L944.2 107.4 L942.9 108.8 L941.7 109.1 L940.5 110.3 L939.3 110.2 L938.1 109.7 L936.9 109.3 L935.7 111.8 L934.5 109.1 L933.3 107.5 L932.1 107.9 L930.9 110.2 L929.7 109.1 L928.5 113.8 L927.3 108.5 L926.1 107.9 L924.9 108.7 L923.7 108.9 L922.5 108.6 L921.3 108.9 L920.1 109.2 L918.9 107.8 L917.7 112.7 L916.5 109.0 L915.3 109.8 L914.1 111.4 L912.9 110.6 L911.7 111.7 L910.5 109.0 L909.3 113.5 L908.1 108.2 L906.9 110.0 L905.7 109.2 L904.5 107.5 L903.3 107.4 L902.1 106.9 L900.9 110.6 L899.7 110.5 L898.5 109.1 L897.2 108.2 L896.4 108.8 L895.8 109.6 L895.2 111.6 L894.3 114.5 L893.4 113.6 L892.4 115.0 L891.5 116.1 L890.5 115.8 L889.6 116.5 L888.6 116.8 L887.7 118.7 L886.7 119.1 L885.8 120.2 L884.8 120.1 L883.9 119.7 L882.9 123.6 L882.0 121.2 L881.0 121.9 L880.0 123.6 L879.4 126.1 L878.7 124.4 L878.0 126.2 L877.4 128.6 L876.7 129.2 L876.0 131.8 L875.3 130.8 L874.7 131.1 L874.0 132.3 L873.3 135.2 L872.7 137.1 L872.0 135.8 L871.3 136.3 L870.6 138.0 L870.0 138.9 L869.3 141.3 L868.6 140.6 L868.0 139.8 L867.3 142.6 L866.6 141.8 L866.0 145.4 L865.3 145.9 L864.6 145.3 L863.9 147.4 L863.3 149.5 L862.6 150.1 L861.9 148.9 L861.3 151.3 L860.6 153.4 L860.1 154.9 L859.6 154.2 L859.1 155.6 L858.6 156.3 L858.1 157.7 L857.6 158.4 L857.1 160.7 L856.6 162.1 L856.0 164.1 L855.5 165.1 L855.0 165.3 L854.5 167.4 L854.0 165.2 L853.5 166.5 L853.0 167.0 L852.5 169.0 L851.8 172.1 L851.0 170.3 L850.3 172.0 L849.5 173.4 L848.8 174.9 L848.0 176.4 L847.3 177.0 L846.5 178.1 L845.8 180.3 L845.0 178.7 L844.3 180.0 L843.7 181.3 L843.1 181.9 L842.5 182.2 L841.9 183.1 L841.3 186.2 L840.7 186.6 L840.1 189.2 L839.5 190.1 L838.9 188.9 L838.3 191.0 L837.7 190.9 L837.1 190.8 L836.5 193.2 L835.7 194.4 L834.9 196.5 L834.0 197.7 L833.2 198.1 L832.4 198.2 L831.5 199.8 L830.7 199.6 L829.8 199.4 L829.0 200.2 L828.1 202.0 L827.3 202.6 L826.4 202.9 L825.6 203.8 L824.8 205.7 L823.9 206.8 L823.0 207.7 L822.1 208.2 L821.1 209.3 L820.2 212.0 L819.3 211.6 L818.3 212.2 L817.4 211.0 L816.5 213.2 L815.5 213.0 L814.5 214.2 L813.5 214.6 L812.5 216.1 L811.5 217.0 L810.5 218.1 L809.5 216.4 L808.5 218.7 L807.5 218.3 L806.4 218.9 L805.3 218.6 L804.2 217.9 L803.2 216.4 L802.1 215.1 L801.0 213.2 L799.9 214.4 L798.8 215.4 L797.8 213.9 L796.7 213.6 L795.8 214.4 L794.8 214.3 L793.8 214.7 L792.8 215.8 L791.8 216.1 L790.8 218.1 L789.8 218.2 L788.9 220.1 L787.9 219.5 L786.9 221.7 L785.9 220.9 L784.9 222.2 L783.9 223.9 L783.2 222.0 L782.5 224.9 L781.8 227.3 L781.1 228.0 L780.4 227.3 L779.7 230.6 L779.0 230.0 L778.3 229.6 L777.6 233.1 L776.9 231.8 L776.2 233.5 L775.5 234.6 L774.7 234.8 L774.0 235.9 L773.3 236.3 L772.8 237.5 L772.3 238.6 L771.8 240.5 L771.3 241.2 L770.9 244.9 L770.4 244.1 L769.9 244.5 L769.4 245.5 L768.9 246.2 L768.4 246.8 L767.9 249.3 L767.4 250.8 L766.9 249.4 L766.4 250.0 L765.9 252.3 L765.4 255.0 L764.9 256.2 L764.4 256.7 L764.0 259.3 L763.5 260.0 L763.0 260.0 L762.5 260.4 L762.0 263.3 L761.5 263.1 L761.1 264.0 L760.8 265.9 L760.5 265.7 L760.2 268.3 L759.9 269.8 L759.6 271.7 L759.3 271.5 L759.0 273.1 L758.7 274.2 L758.4 275.6 L758.1 277.4 L757.8 278.0 L757.5 280.1 L757.2 279.1 L756.9 279.6 L756.6 281.3 L756.3 284.0 L756.0 285.1 L755.7 285.1 L755.4 287.6 L755.1 289.1 L754.8 291.1 L754.5 290.2 L754.2 293.5 L753.9 293.4 L753.6 295.0 L753.3 294.1 L753.0 297.2 L752.7 297.7 L752.4 299.1 L752.1 298.8 L751.3 300.8 L750.2 300.2 L749.2 301.5 L748.1 303.3 L747.1 302.8 L746.0 303.5 L745.0 306.3 Z" fill="#f00" fill-opacity="0.28" stroke="#f00" stroke-opacity="0.36" stroke-width="3" stroke-linejoin="round"/>
<path d="M746.5 296.4 L747.3 297.7 L748.1 296.9 L748.8 297.8 L749.6 297.0 L750.4 296.4 L750.9 296.6 L751.4 295.8 L751.8 294.2 L752.2 293.7 L752.6 292.6 L753.1 292.7 L753.5 291.0 L753.9 291.1 L754.3 289.5 L754.7 290.0 L755.2 287.7 L755.6 287.4 L756.0 287.2 L756.4 286.0 L756.8 285.3 L757.3 284.4 L757.8 284.2 L758.3 283.0 L758.9 283.4 L759.4 282.9 L760.0 282.2 L760.5 281.2 L761.0 281.3 L761.6 280.4 L762.1 280.1 L762.7 279.3 L763.2 278.5 L763.7 277.6 L764.3 276.1 L764.8 277.3 L765.4 276.3 L765.9 276.9 L766.4 274.2 L767.0 274.9 L767.5 273.1 L768.1 272.8 L768.6 271.6 L769.1 271.6 L769.7 271.1 L770.2 271.2 L770.7 270.5 L771.0 270.0 L771.3 269.8 L771.6 268.6 L771.9 267.5 L772.2 267.4 L772.5 265.9 L772.8 265.3 L773.1 264.0 L773.4 263.0 L773.7 261.0 L774.0 262.3 L774.3 260.9 L774.6 261.5 L774.9 261.6 L775.2 259.3 L775.5 259.7 L775.8 258.5 L776.1 258.0 L776.3 256.4 L776.4 256.2 L776.6 255.3 L776.8 255.1 L777.0 254.5 L777.2 252.7 L777.3 251.4 L777.5 251.9 L777.7 250.0 L777.9 249.3 L778.1 248.7 L778.2 248.2 L778.4 247.6 L778.6 246.1 L778.8 245.4 L779.0 245.7 L779.1 244.7 L779.3 243.3 L779.5 242.4 L779.7 241.3 L779.9 241.0 L780.1 239.3 L780.3 238.8 L780.5 237.7 L780.7 237.0 L781.0 236.7 L781.2 236.1 L781.4 235.1 L781.7 234.7 L781.9 234.0 L782.1 233.0 L782.4 232.2 L782.6 231.7 L782.8 231.2 L783.0 230.5 L783.3 229.1 L783.5 228.1 L783.7 227.6 L784.0 228.1 L784.3 227.0 L784.6 225.3 L784.9 225.0 L785.2 224.0 L785.5 223.3 L785.8 221.7 L786.1 221.7 L786.4 220.1 L786.7 219.7 L787.0 220.2 L787.3 219.2 L787.6 217.5 L787.9 216.8 L788.3 216.2 L788.6 215.0 L788.9 214.7 L789.2 214.3 L789.5 212.9 L789.8 213.0 L790.1 211.7 L790.4 210.8 L790.7 211.5 L790.9 210.4 L791.1 209.4 L791.3 209.5 L791.5 208.2 L791.7 206.1 L791.9 205.8 L792.0 204.6 L792.2 203.3 L792.4 204.5 L792.6 203.7 L792.8 201.6 L793.0 201.9 L793.2 199.9 L793.4 200.6 L793.6 199.0 L793.8 197.9 L794.0 197.5 L794.2 195.6 L794.4 194.4 L794.6 194.2 L794.8 192.9 L795.0 193.0 L795.1 192.1 L795.3 192.0 L795.5 191.2 L795.7 190.6 L795.9 188.9 L796.1 189.9 L796.3 188.1 L796.5 188.5 L796.7 186.4 L796.9 185.7 L797.1 184.7 L797.4 184.4 L797.7 182.5 L798.0 182.1 L798.3 180.3 L798.6 180.3 L798.9 180.1 L799.2 179.2 L799.5 177.4 L799.8 178.0 L800.1 176.5 L800.4 177.4 L800.7 175.5 L801.0 176.2 L801.3 174.6 L801.6 173.8 L801.9 172.7 L802.2 172.5 L802.5 172.3 L802.8 170.2 L803.1 171.0 L803.4 168.8 L803.7 168.2 L804.0 165.9 L804.3 166.8 L804.6 166.2 L804.9 165.2 L805.2 164.5 L805.5 163.4 L805.8 162.9 L806.1 162.8 L806.4 161.2 L806.7 160.9 L807.0 160.3 L807.3 159.0 L807.6 158.6 L808.0 157.9 L808.3 156.8 L808.6 157.6 L808.9 155.1 L809.3 155.3 L809.6 153.9 L809.9 151.2 L810.2 151.8 L810.6 151.7 L810.9 151.1 L811.2 149.7 L811.5 149.8 L811.9 148.2 L812.2 147.7 L812.5 147.6 L812.8 147.2 L813.2 147.4 L813.5 145.8 L813.8 145.3 L814.2 143.0 L814.5 142.1 L814.8 141.8 L815.1 142.5 L815.5 140.1 L815.8 139.5 L816.1 139.8 L816.4 139.7 L816.8 137.2 L817.1 137.1 L817.4 135.6 L817.7 136.6 L818.1 135.5 L818.4 134.6 L818.7 133.7 L819.0 132.8 L819.4 132.4 L819.7 131.3 L820.0 130.6 L820.3 130.0 L820.5 130.1 L820.7 129.0 L820.9 129.2 L821.1 126.5 L821.2 127.0 L821.4 125.9 L821.6 125.1 L821.8 123.2 L821.9 121.6 L822.1 121.3 L822.3 122.0 L822.4 120.5 L822.6 119.7 L822.8 118.9 L823.0 118.5 L823.1 117.6 L823.3 116.1 L823.5 115.9 L823.7 116.0 L823.8 115.4 L824.0 113.5 L824.2 112.3 L824.3 112.6 L824.5 111.0 L824.7 109.7 L824.9 109.5 L825.0 109.1 L825.2 108.7 L825.4 106.7 L825.6 106.7 L825.7 105.6 L825.9 105.8 L826.1 104.6 L826.2 103.8 L826.4 102.1 L826.6 101.7 L826.8 100.8 L827.0 97.6 L827.3 100.0 L827.6 98.6 L827.9 97.7 L828.2 96.8 L828.5 96.3 L828.8 95.7 L829.1 93.4 L829.4 94.0 L829.7 93.3 L830.1 92.7 L830.8 90.9 L831.5 92.3 L832.2 90.7 L833.0 92.5 L833.7 93.3 L834.4 92.1 L835.2 89.7 L835.9 88.5 L836.6 87.6 L837.3 88.8 L838.0 87.0 L838.8 87.5 L839.5 84.8 L840.2 88.2 L840.9 89.3 L841.6 90.7 L842.3 94.4 L843.1 91.0 L843.8 91.7 L844.5 95.2 L845.2 92.9 L845.9 94.2 L846.7 94.7 L847.4 94.3 L848.1 93.2 L848.8 96.6 L849.5 98.3 L850.2 95.0 L851.0 96.6 L851.7 98.7 L852.4 96.8 L853.2 95.2 L854.0 95.8 L854.8 97.7 L855.6 94.8 L856.4 97.3 L857.2 98.2 L858.0 97.4 L858.8 100.1 L859.6 100.9 L860.4 101.7 L861.2 101.4 L862.0 96.7 L862.8 99.3 L863.6 97.8 L864.4 98.0 L865.2 95.1 L866.0 98.2 L866.8 97.3 L867.6 94.3 L868.4 97.5 L869.2 93.8 L870.0 93.6 L870.8 96.3 L871.6 95.1 L872.4 96.6 L873.2 95.6 L874.0 96.5 L874.8 97.6 L875.6 96.5 L876.4 98.1 L877.2 98.2 L878.0 95.7 L878.8 98.6 L879.6 98.1 L880.4 96.9 L881.2 98.0 L882.0 98.4 L882.8 96.6 L883.6 92.7 L884.4 95.6 L885.2 94.6 L886.0 94.5 L886.8 95.9 L887.6 95.3 L888.4 98.8 L889.2 96.7 L890.0 96.1 L890.8 97.1 L891.6 96.9 L892.4 97.5 L893.2 96.8 L894.0 95.9 L894.8 96.4 L895.6 92.8 L896.4 93.9 L897.2 97.9 L898.0 95.6 L898.8 98.7 L899.6 98.1 L900.4 92.6 L901.2 94.8 L902.0 98.8 L902.8 93.0 L903.6 94.9 L904.4 93.7 L905.2 93.2 L906.0 92.6 L906.8 92.7 L907.6 93.9 L908.4 91.6 L909.2 94.1 L910.0 92.7 L910.8 95.2 L911.6 95.1 L912.4 93.2 L913.3 94.2 L914.1 92.4 L914.9 92.2 L915.7 95.9 L916.5 91.8 L917.3 96.5 L918.1 97.3 L918.9 95.3 L919.7 97.5 L920.5 96.5 L921.3 92.0 L922.1 94.3 L922.9 93.8 L923.7 92.0 L924.5 94.5 L925.3 95.2 L926.1 93.0 L926.9 90.7 L927.7 94.4 L928.5 92.7 L929.3 91.4 L930.1 94.0 L930.9 91.2 L931.7 94.7 L932.5 97.7 L933.3 90.5 L934.1 95.8 L934.9 93.9 L935.7 95.2 L936.5 94.8 L937.3 97.4 L938.1 96.4 L938.9 95.2 L939.7 94.6 L940.5 96.4 L941.3 98.9 L942.1 94.6 L942.9 96.5 L943.7 95.6 L944.5 91.4 L945.3 96.5 L946.1 95.1 L946.9 99.3 L947.7 98.9 L948.5 95.9 L949.3 95.9 L950.2 94.3 L951.0 93.3 L951.8 96.5 L952.6 94.8 L953.4 94.7 L954.2 95.3 L955.0 96.9 L955.8 97.4 L956.6 96.0 L957.4 96.0 L958.2 96.9 L959.0 100.3 L959.8 93.5 L960.6 94.4 L961.4 96.4 L962.2 95.3 L963.0 97.0 L963.8 97.4 L964.6 98.7 L965.4 94.1 L966.2 96.1 L967.0 94.5 L967.8 96.6 L968.6 95.8 L969.4 97.6 L970.2 95.4 L971.0 97.1 L971.8 95.7 L972.6 95.3 L973.4 94.1 L974.2 92.4 L975.0 95.4 L975.8 93.7 L976.6 94.8 L977.4 91.3 L978.2 89.9 L979.0 92.2 L979.8 93.4 L980.6 95.4 L981.4 96.4 L982.2 97.2 L983.0 98.3 L983.8 97.5 L984.6 96.8 L985.4 95.5 L986.2 97.7 L987.1 95.5 L987.9 94.5 L988.7 96.2 L989.5 94.9 L990.3 95.0 L991.1 91.8 L991.9 94.7 L992.7 93.8 L993.5 93.7 L994.3 93.5 L995.1 93.7 L995.9 93.8 L996.7 98.7 L997.5 94.2 L998.3 97.3 L999.1 95.4 L999.9 94.3 L1000.7 93.9 L1001.5 94.0 L1002.3 95.3 L1003.1 94.4 L1003.9 93.2 L1004.7 90.6 L1005.5 89.9 L1006.3 96.0 L1007.1 91.7 L1007.9 91.1 L1008.7 95.8 L1009.5 91.8 L1010.3 95.9 L1011.1 96.7 L1011.9 96.1 L1012.7 97.6 L1013.5 94.1 L1014.3 94.3 L1015.1 95.7 L1015.9 95.4 L1016.7 94.8 L1017.5 95.3 L1018.3 93.2 L1019.1 90.8 L1019.9 94.9 L1020.7 93.9 L1021.5 95.5 L1022.3 97.3 L1023.1 93.9 L1024.0 94.9 L1024.8 93.0 L1025.6 96.5 L1026.4 95.9 L1027.2 95.8 L1028.0 96.5 L1028.8 92.8 L1029.6 95.3 L1030.4 95.1 L1031.2 97.2 L1032.0 92.3 L1032.8 95.6 L1033.6 99.8 L1034.4 95.8 L1035.2 96.0 L1036.0 99.7 L1036.8 100.6 L1037.6 96.1 L1038.4 93.9 L1039.2 93.2 L1040.0 92.8 L1040.8 91.8 L1041.6 91.9 L1042.4 93.8 L1043.2 93.7 L1044.0 94.3 L1044.8 93.2 L1045.6 91.1 L1046.4 94.7 L1047.2 94.8 L1048.0 94.6 L1048.8 95.9 L1049.6 97.3 L1050.4 96.8 L1051.2 95.9 L1052.0 96.5 L1052.8 96.3 L1053.6 93.6 L1054.4 93.7 L1055.2 91.7 L1055.9 93.3 L1056.6 94.6 L1057.3 95.7 L1057.9 95.3 L1058.6 96.0 L1059.3 96.3 L1060.0 99.2 L1060.7 98.2 L1061.4 100.6 L1062.0 100.5 L1062.7 98.7 L1063.4 100.5 L1064.1 99.5 L1064.8 100.7 L1065.4 99.0 L1066.1 100.7 L1066.8 102.9 L1067.5 101.3 L1068.2 103.1 L1069.0 101.5 L1069.8 102.9 L1070.6 101.3 L1071.4 104.8 L1072.2 103.6 L1073.0 105.6 L1073.8 101.7 L1074.6 103.1 L1075.4 104.1 L1076.2 104.2 L1077.0 100.5 L1077.8 102.3 L1078.6 107.0 L1079.4 103.9 L1080.2 102.8 L1081.0 98.0 L1081.9 101.4 L1082.7 104.5 L1083.5 105.0 L1084.3 106.0 L1085.1 107.0 L1085.9 105.2 L1086.7 105.8 L1087.5 100.8 L1088.3 107.0 L1089.1 101.8 L1089.9 100.9 L1090.7 104.6 L1091.5 103.7 L1092.3 105.0 L1093.1 103.2 L1093.9 105.0 L1094.7 105.7 L1095.5 102.3 L1096.3 103.2 L1097.1 102.6 L1097.9 102.2 L1098.7 101.7 L1099.5 101.1 L1100.3 104.3 L1101.1 104.3 L1101.9 106.1 L1102.7 104.2 L1103.5 103.0 L1104.3 101.1 L1105.1 102.6 L1105.9 101.1 L1106.7 104.5 L1107.5 105.1 L1108.3 104.5 L1109.1 100.8 L1109.9 100.1 L1110.7 102.0 L1111.5 100.9 L1112.3 104.7 L1113.1 102.5 L1113.9 101.6 L1114.7 102.4 L1115.5 104.7 L1116.3 101.4 L1117.1 103.7 L1117.9 100.8 L1118.8 102.5 L1119.6 101.7 L1120.4 103.1 L1121.2 102.5 L1122.0 103.8 L1122.8 102.9 L1123.6 101.2 L1124.4 100.8 L1125.2 102.7 L1126.0 104.1 L1126.8 104.8 L1127.6 104.2 L1128.4 107.4 L1129.2 107.3 L1130.0 105.4 L1130.8 104.6 L1131.6 104.4 L1132.4 104.0 L1133.2 103.7 L1134.0 101.2 L1134.8 103.7 L1135.6 102.0 L1136.4 105.7 L1137.2 106.9 L1138.0 103.9 L1138.8 105.5 L1139.6 103.6 L1140.4 102.6 L1141.2 106.0 L1142.0 103.4 L1142.8 102.1 L1143.6 100.2 L1144.4 101.4 L1145.2 100.3 L1146.0 101.2 L1146.8 98.8 L1147.6 100.2 L1148.4 100.3 L1149.2 99.6 L1150.0 105.8 L1150.8 105.0 L1151.6 102.4 L1152.4 100.8 L1153.2 101.2 L1154.0 100.2 L1154.8 100.0 L1155.6 98.2 L1156.4 99.4 L1157.2 101.3 L1158.0 102.2 L1158.8 98.4 L1159.6 101.1 L1160.4 98.6 L1161.2 97.4 L1162.0 97.8 L1162.8 97.2 L1163.6 100.3 L1164.4 101.7 L1165.2 101.3 L1166.0 101.5 L1166.8 105.5 L1167.6 105.0 L1168.4 101.9 L1169.2 100.6 L1170.0 102.4 L1170.8 103.3 L1171.6 100.0 L1172.4 103.5 L1173.2 99.8 L1174.0 100.9" fill="none" stroke="#000" stroke-width="6.5" stroke-linejoin="round" stroke-linecap="round"/>
<path d="M746.5 300.8 L747.1 300.1 L747.7 300.4 L748.3 299.0 L748.7 298.6 L748.8 297.2 L748.9 296.5 L749.0 295.5 L749.0 295.1 L749.1 294.0 L749.2 294.0 L749.3 293.1 L749.4 291.9 L749.5 291.0 L749.5 289.1 L749.6 289.5 L749.7 289.1 L749.8 288.4 L749.9 285.7 L749.9 285.2 L750.0 285.6 L750.1 284.2 L750.2 283.8 L750.3 282.8 L750.3 282.5 L750.4 280.4 L750.5 280.2 L750.6 280.2 L750.7 279.1 L750.8 277.9 L750.8 277.9 L750.9 277.0 L751.0 275.5 L751.1 275.4 L751.2 274.6 L751.2 273.3 L751.3 273.1 L751.4 271.3 L751.5 271.5 L751.6 270.3 L751.6 269.2 L751.7 268.7 L751.8 268.9 L751.9 267.4 L752.0 266.7 L752.0 265.8 L752.1 264.9 L752.2 264.9 L752.3 264.6 L752.4 263.1 L752.5 261.7 L752.5 260.9 L752.6 259.5 L752.7 258.5 L752.8 257.3 L752.9 257.9 L752.9 256.3 L753.0 255.5 L753.1 254.9 L753.2 254.6 L753.3 253.5 L753.4 253.1 L753.5 252.4 L753.6 252.3 L753.7 250.1 L753.8 249.9 L754.0 248.5 L754.1 247.7 L754.2 247.9 L754.3 246.5 L754.4 245.2 L754.6 244.8 L754.7 243.8 L754.8 243.6 L754.9 242.1 L755.0 241.9 L755.2 240.8 L755.3 240.2 L755.4 239.3 L755.5 238.3 L755.6 237.8 L755.7 237.4 L755.9 235.8 L756.0 235.3 L756.1 235.0 L756.2 233.7 L756.3 233.6 L756.5 232.5 L756.6 230.0 L756.7 230.0 L756.8 229.1 L756.9 229.3 L757.0 228.7 L757.2 226.8 L757.3 226.3 L757.5 225.9 L757.7 225.0 L757.9 224.7 L758.1 224.1 L758.3 223.0 L758.5 222.5 L758.6 221.6 L758.8 220.2 L759.0 219.2 L759.2 218.3 L759.4 218.5 L759.6 218.0 L759.8 217.5 L760.0 216.2 L760.2 215.5 L760.4 215.0 L760.6 214.6 L760.8 213.3 L761.0 212.4 L761.2 211.1 L761.4 211.1 L761.6 210.3 L761.8 208.7 L762.0 209.2 L762.2 206.9 L762.4 206.9 L762.6 205.4 L762.8 204.8 L763.0 203.6 L763.2 203.2 L763.3 203.3 L763.5 202.2 L763.7 201.3 L763.9 201.0 L764.0 200.0 L764.1 198.7 L764.2 197.9 L764.2 197.9 L764.3 196.2 L764.4 195.8 L764.5 195.1 L764.5 193.4 L764.6 192.3 L764.7 192.5 L764.7 192.0 L764.8 190.8 L764.9 189.7 L764.9 188.9 L765.0 189.0 L765.1 187.7 L765.1 186.1 L765.2 186.4 L765.3 185.2 L765.3 184.4 L765.4 183.8 L765.5 183.0 L765.5 181.8 L765.6 180.5 L765.7 178.7 L765.8 179.3 L766.0 178.4 L766.3 178.7 L766.5 178.1 L766.7 177.0 L766.9 176.8 L767.1 175.3 L767.3 174.3 L767.5 172.9 L767.7 172.3 L768.0 171.7 L768.2 171.4 L768.4 169.6 L768.6 169.7 L768.8 169.8 L769.0 167.0 L769.2 166.8 L769.4 166.2 L769.6 166.1 L769.8 166.0 L770.0 164.8 L770.2 163.3 L770.4 162.0 L770.6 161.6 L770.8 160.8 L771.0 160.1 L771.2 158.6 L771.3 159.0 L771.5 156.8 L771.7 156.6 L771.9 155.5 L772.4 154.2 L773.0 154.5 L773.6 154.0 L774.3 153.3 L774.9 153.2 L775.5 152.0 L776.1 153.2 L776.8 151.9 L777.4 150.2 L778.0 148.9 L778.6 150.6 L779.3 149.7 L779.9 149.3 L780.5 148.2 L781.1 147.4 L781.8 146.6 L782.4 148.6 L783.0 147.4 L783.6 145.6 L784.3 146.5 L784.9 143.8 L785.5 144.9 L786.1 144.6 L786.8 143.3 L787.4 143.2 L788.0 142.4 L788.7 142.8 L789.5 143.3 L790.3 142.9 L791.0 142.3 L791.8 142.4 L792.6 140.4 L793.3 142.4 L794.1 140.9 L794.9 139.9 L795.6 140.3 L796.4 140.0 L797.2 140.4 L797.9 140.5 L798.7 138.6 L799.5 140.4 L800.2 140.2 L801.0 137.9 L801.8 139.2 L802.5 139.1 L803.3 139.1 L804.1 139.5 L804.8 137.3 L805.5 138.3 L806.3 136.7 L807.0 138.4 L807.8 135.9 L808.5 135.6 L809.3 136.9 L810.0 136.4 L810.8 135.8 L811.5 135.6 L812.2 135.6 L813.0 135.9 L813.7 133.7 L814.5 133.1 L815.2 132.7 L816.0 132.9 L816.7 132.8 L817.5 131.7 L818.2 132.5 L819.0 131.1 L819.7 131.5 L820.4 131.2 L821.2 131.0 L821.9 132.0 L822.7 131.9 L823.4 131.2 L824.1 131.2 L824.9 129.6 L825.6 130.5 L826.4 129.2 L827.1 129.1 L827.9 128.9 L828.6 127.4 L829.3 127.6 L830.1 127.6 L830.8 127.6 L831.6 127.0 L832.3 126.2 L833.0 125.7 L833.8 126.2 L834.5 124.9 L835.3 124.5 L836.0 124.9 L836.8 124.6 L837.5 123.6 L838.2 122.6 L839.0 123.9 L839.7 124.1 L840.5 122.8 L841.2 122.3 L842.0 120.3 L842.7 122.3 L843.5 120.6 L844.2 122.0 L845.0 121.1 L845.7 121.6 L846.5 121.6 L847.2 120.2 L848.0 123.2 L848.7 119.4 L849.5 120.1 L850.2 119.0 L850.9 119.2 L851.7 120.1 L852.4 117.3 L853.1 118.2 L853.8 118.1 L854.5 117.2 L855.2 116.9 L855.9 115.6 L856.6 114.6 L857.2 114.5 L857.9 115.0 L858.6 115.6 L859.3 114.7 L860.0 115.4 L860.7 113.8 L861.3 113.5 L862.0 113.2 L862.7 111.1 L863.4 112.8 L864.1 110.7 L864.8 110.7 L865.5 112.7 L866.1 108.3 L866.8 109.3 L867.5 109.2 L868.2 108.9 L868.9 108.5 L869.6 107.6 L870.3 110.4 L871.0 104.9 L871.8 105.7 L872.5 108.6 L873.2 106.9 L873.9 104.4 L874.7 103.6 L875.4 104.0 L876.1 107.9 L876.8 104.3 L877.5 101.8 L878.3 103.8 L879.0 102.5 L879.7 105.8 L880.4 103.2 L881.1 104.1 L881.9 101.6 L882.6 104.5 L883.3 101.4 L884.1 101.1 L884.9 98.5 L885.7 99.5 L886.5 100.9 L887.3 99.3 L888.1 105.4 L888.9 100.7 L889.7 99.6 L890.5 103.7 L891.3 100.9 L892.1 103.0 L892.9 101.9 L893.7 100.6 L894.6 105.0 L895.4 102.4 L896.2 104.6 L897.0 101.5 L897.8 99.0 L898.6 99.1 L899.4 100.4 L900.2 100.7 L901.0 100.7 L901.8 101.1 L902.6 97.2 L903.4 100.5 L904.2 98.1 L905.0 99.8 L905.8 106.8 L906.6 104.1 L907.4 100.5 L908.2 105.1 L909.0 104.6 L909.8 104.0 L910.6 105.5 L911.4 101.8 L912.2 101.5 L913.0 99.4 L913.8 102.1 L914.6 98.3 L915.4 100.1 L916.2 102.5 L917.0 100.7 L917.8 102.7 L918.6 105.8 L919.4 99.8 L920.2 104.4 L921.0 99.7 L921.8 99.0 L922.6 101.7 L923.4 104.0 L924.2 101.1 L925.0 101.4 L925.8 102.0 L926.6 101.2 L927.4 102.8 L928.2 100.8 L929.0 101.6 L929.8 102.6 L930.6 100.8 L931.4 104.0 L932.2 100.3 L933.0 100.3 L933.8 106.4 L934.6 105.4 L935.4 102.4 L936.2 103.9 L937.0 102.8 L937.8 100.9 L938.6 103.1 L939.4 101.9 L940.2 103.4 L941.0 96.8 L941.8 102.5 L942.6 101.7 L943.4 100.5 L944.2 101.5 L945.0 101.9 L945.8 100.0 L946.6 101.5 L947.4 104.2 L948.2 99.4 L949.0 101.9 L949.8 98.0 L950.6 101.9 L951.4 103.9 L952.2 102.7 L953.0 102.7 L953.8 100.3 L954.6 104.3 L955.4 102.0 L956.2 106.6 L957.0 105.6 L957.9 104.5 L958.7 108.0 L959.5 103.5 L960.3 105.8 L961.1 103.4 L961.9 102.9 L962.7 104.6 L963.5 103.1 L964.3 101.8 L965.1 101.6 L965.9 102.7 L966.7 103.1 L967.5 102.8 L968.3 101.6 L969.1 98.3 L969.9 102.9 L970.7 102.0 L971.5 104.5 L972.3 102.7 L973.1 104.3 L973.9 105.9 L974.7 102.2 L975.5 100.6 L976.3 103.6 L977.1 99.8 L977.9 99.7 L978.7 102.8 L979.5 101.0 L980.3 102.6 L981.1 98.3 L981.9 101.9 L982.7 104.7 L983.5 99.7 L984.3 102.5 L985.1 102.7 L985.9 97.0 L986.7 105.4 L987.5 101.1 L988.3 102.8 L989.1 107.1 L989.9 100.2 L990.7 105.0 L991.5 102.9 L992.3 103.4 L993.1 101.1 L993.9 105.1 L994.7 99.7 L995.5 102.6 L996.3 102.8 L997.1 101.1 L997.9 100.2 L998.7 99.9 L999.5 102.6 L1000.3 101.8 L1001.1 101.0 L1001.9 99.3 L1002.7 102.3 L1003.5 103.5 L1004.3 102.8 L1005.1 106.2 L1005.9 99.2 L1006.7 108.2 L1007.5 102.3 L1008.3 100.0 L1009.1 98.9 L1009.9 104.7 L1010.7 104.3 L1011.5 102.6 L1012.3 102.6 L1013.1 102.5 L1013.9 100.7 L1014.7 103.5 L1015.5 102.1 L1016.3 100.4 L1017.1 97.4 L1017.9 103.9 L1018.7 100.1 L1019.5 98.9 L1020.3 103.7 L1021.2 102.1 L1022.0 97.1 L1022.8 98.1 L1023.6 101.0 L1024.4 99.5 L1025.2 102.1 L1026.0 108.2 L1026.8 108.8 L1027.6 102.1 L1028.4 103.5 L1029.2 103.5 L1030.0 101.4 L1030.8 98.7 L1031.6 104.2 L1032.4 101.7 L1033.2 103.2 L1034.0 103.8 L1034.8 100.5 L1035.6 105.5 L1036.4 102.0 L1037.2 102.4 L1038.0 101.1 L1038.8 103.7 L1039.6 104.4 L1040.4 101.1 L1041.2 103.3 L1042.0 101.0 L1042.8 99.4 L1043.6 101.5 L1044.4 103.8 L1045.2 103.9 L1046.0 105.2 L1046.8 101.7 L1047.6 102.5 L1048.4 103.3 L1049.2 104.4 L1050.0 103.1 L1050.8 101.8 L1051.6 101.2 L1052.4 107.3 L1053.2 107.0 L1054.0 103.0 L1054.8 107.0 L1055.6 103.5 L1056.4 104.5 L1057.2 106.4 L1057.8 102.5 L1058.5 101.3 L1059.2 98.2 L1059.9 101.0 L1060.5 100.0 L1061.2 99.8 L1061.9 98.6 L1062.5 97.2 L1063.2 99.0 L1063.9 94.3 L1064.6 97.1 L1065.2 97.4 L1065.9 95.8 L1066.6 99.3 L1067.2 95.9 L1067.9 97.1 L1068.6 95.6 L1069.2 92.9 L1069.9 97.3 L1070.7 96.2 L1071.5 94.7 L1072.3 95.2 L1073.1 93.6 L1073.9 95.3 L1074.7 94.9 L1075.5 95.6 L1076.3 94.4 L1077.1 96.7 L1077.9 95.6 L1078.7 92.6 L1079.5 94.8 L1080.3 93.8 L1081.1 92.7 L1081.9 94.4 L1082.7 96.2 L1083.5 91.6 L1084.3 89.6 L1085.1 93.6 L1085.9 100.6 L1086.7 93.4 L1087.5 95.2 L1088.3 93.6 L1089.1 96.0 L1089.9 96.9 L1090.7 93.4 L1091.5 96.3 L1092.3 91.7 L1093.1 94.5 L1093.9 91.5 L1094.7 94.8 L1095.5 93.1 L1096.3 94.4 L1097.1 90.8 L1097.9 93.1 L1098.7 92.8 L1099.5 91.9 L1100.3 92.3 L1101.1 92.4 L1101.9 94.6 L1102.8 96.4 L1103.6 94.9 L1104.4 94.8 L1105.2 96.5 L1106.0 92.7 L1106.8 93.8 L1107.6 94.8 L1108.4 94.4 L1109.2 94.7 L1110.0 94.9 L1110.8 99.5 L1111.6 95.7 L1112.4 95.0 L1113.2 97.0 L1114.0 99.2 L1114.8 98.8 L1115.6 96.0 L1116.4 97.8 L1117.2 97.1 L1118.0 96.1 L1118.8 96.9 L1119.6 96.2 L1120.4 94.8 L1121.2 98.1 L1122.0 94.3 L1122.8 98.7 L1123.6 100.6 L1124.4 100.4 L1125.2 96.0 L1126.0 94.6 L1126.8 91.5 L1127.6 94.9 L1128.4 100.4 L1129.2 92.0 L1130.0 92.0 L1130.8 96.9 L1131.6 96.4 L1132.4 91.3 L1133.2 95.0 L1134.0 96.2 L1134.8 92.7 L1135.6 98.5 L1136.4 94.0 L1137.2 99.2 L1138.0 97.1 L1138.8 95.1 L1139.6 93.4 L1140.4 96.6 L1141.2 97.6 L1142.0 97.8 L1142.8 97.0 L1143.6 97.9 L1144.4 100.2 L1145.2 96.5 L1146.0 97.7 L1146.8 98.5 L1147.6 96.8 L1148.4 98.1 L1149.2 99.4 L1150.0 95.6 L1150.8 97.1 L1151.6 90.8 L1152.4 96.7 L1153.2 99.4 L1154.0 96.0 L1154.8 101.0 L1155.6 93.6 L1156.4 99.4 L1157.2 94.7 L1158.0 93.4 L1158.8 94.8 L1159.6 95.9 L1160.4 94.8 L1161.2 94.1 L1162.0 95.8 L1162.8 98.6 L1163.6 97.4 L1164.4 99.3 L1165.2 95.3 L1166.0 95.9 L1166.8 96.0 L1167.6 97.2 L1168.4 98.1 L1169.2 101.1 L1170.0 99.3 L1170.8 98.4 L1171.6 101.1 L1172.4 96.5 L1173.2 95.1 L1174.0 98.8" fill="none" stroke="#f00" stroke-width="6.5" stroke-linejoin="round" stroke-linecap="round"/>
</g>
<g clip-path="url(#c3)">
<path d="M117.0 585.8 L118.2 587.6 L119.4 587.2 L120.5 585.7 L121.4 586.5 L122.1 584.8 L122.4 582.9 L122.7 581.8 L123.0 580.7 L123.3 581.4 L123.6 575.6 L123.8 573.7 L124.1 577.4 L124.4 576.2 L124.7 574.1 L125.3 567.7 L126.1 570.0 L127.0 571.2 L127.8 569.4 L128.7 569.5 L129.6 566.8 L130.4 569.7 L131.3 569.5 L132.3 567.4 L133.4 562.4 L134.5 565.4 L135.5 562.8 L136.6 565.3 L137.8 563.9 L139.0 560.9 L140.2 560.6 L141.3 563.0 L142.5 561.1 L143.7 564.9 L144.9 564.6 L146.1 565.6 L147.2 565.4 L148.4 567.3 L149.6 566.6 L150.8 566.9 L152.0 567.2 L153.2 567.1 L154.4 565.8 L155.6 560.8 L156.8 567.1 L158.0 566.1 L159.2 565.5 L160.4 565.6 L161.6 563.0 L162.8 566.1 L164.0 561.2 L165.2 566.1 L166.4 566.1 L167.6 565.5 L168.8 567.4 L170.0 566.0 L171.2 565.2 L172.4 565.9 L173.6 565.8 L174.8 566.8 L176.0 567.6 L177.2 566.1 L178.4 555.6 L179.6 566.4 L180.8 564.2 L182.0 566.3 L183.2 566.4 L184.4 566.7 L185.6 561.6 L186.8 565.9 L188.0 565.6 L189.2 566.3 L190.4 567.5 L191.6 566.9 L192.8 565.6 L194.0 566.4 L195.2 567.2 L196.4 565.1 L197.6 566.2 L198.8 567.9 L200.0 568.2 L201.2 568.1 L202.4 568.0 L203.6 566.2 L204.8 567.6 L206.0 566.7 L207.3 567.0 L208.5 567.0 L209.7 565.4 L210.9 567.7 L212.1 568.0 L213.3 567.8 L214.5 569.6 L215.7 568.6 L216.9 567.3 L218.1 569.9 L219.3 563.8 L220.5 557.2 L221.7 568.0 L222.9 570.0 L224.1 569.7 L225.3 568.0 L226.5 563.1 L227.7 564.8 L228.9 565.3 L230.1 570.4 L231.3 568.6 L232.5 562.6 L233.7 570.4 L234.9 570.1 L236.1 570.3 L237.3 566.9 L238.5 570.8 L239.7 569.5 L240.9 570.7 L242.1 569.3 L243.3 567.9 L244.5 569.2 L245.7 569.4 L246.9 571.5 L248.1 569.2 L249.3 564.5 L250.5 569.8 L251.7 570.1 L253.0 570.0 L254.2 570.5 L255.4 571.7 L256.6 570.5 L257.8 569.6 L259.0 571.0 L260.2 569.0 L261.4 571.1 L262.6 572.5 L263.8 569.3 L265.0 570.7 L266.2 572.1 L267.4 572.4 L268.6 566.9 L269.8 573.8 L271.0 573.4 L272.2 570.7 L273.4 563.4 L274.6 569.2 L275.8 571.3 L277.0 571.9 L278.3 572.2 L279.5 570.9 L280.7 566.4 L281.9 563.7 L283.1 570.9 L284.3 570.0 L285.5 572.2 L286.7 573.2 L287.9 572.9 L289.1 572.6 L290.3 571.9 L291.5 570.9 L292.7 571.6 L293.9 570.2 L295.1 571.2 L296.3 571.8 L297.5 572.9 L298.7 563.7 L299.9 567.0 L301.1 572.1 L302.4 572.2 L303.6 572.7 L304.8 571.3 L306.0 570.5 L307.2 569.9 L308.4 573.2 L309.6 571.2 L310.8 571.7 L312.0 571.4 L313.2 570.3 L314.4 572.3 L315.6 571.9 L316.8 570.5 L318.0 573.0 L319.2 572.2 L320.4 573.7 L321.6 571.6 L322.8 572.2 L324.0 572.4 L325.2 564.7 L326.5 573.4 L327.7 569.7 L328.9 572.4 L330.1 569.8 L331.3 573.0 L332.5 571.4 L333.7 574.1 L334.9 572.7 L336.1 570.1 L337.3 575.1 L338.5 566.6 L339.7 567.1 L340.9 572.4 L342.1 571.3 L343.3 572.6 L344.5 574.5 L345.7 572.2 L346.9 572.8 L348.1 574.3 L349.4 573.8 L350.6 573.3 L351.8 572.7 L353.0 572.8 L354.2 573.1 L355.4 571.7 L356.6 573.3 L357.8 573.7 L359.0 571.3 L360.2 573.5 L361.4 572.6 L362.6 572.9 L363.8 572.6 L365.0 568.5 L366.2 573.1 L367.4 568.4 L368.6 572.3 L369.8 571.6 L371.0 574.5 L372.3 574.3 L373.5 572.8 L374.7 573.0 L375.9 572.6 L377.1 572.8 L378.3 566.0 L379.5 570.8 L380.7 574.0 L381.9 572.4 L383.1 574.6 L384.3 571.9 L385.5 573.1 L386.7 572.4 L387.9 566.9 L389.1 571.6 L390.3 572.6 L391.5 574.7 L392.7 573.3 L393.9 571.9 L395.2 572.8 L396.4 570.2 L397.6 573.1 L398.8 572.7 L400.0 571.2 L401.2 570.9 L402.4 573.4 L403.6 574.1 L404.8 573.1 L406.0 573.6 L407.2 572.1 L408.4 573.1 L409.6 573.7 L410.8 571.4 L412.0 572.0 L413.2 572.4 L414.4 568.0 L415.6 572.5 L416.8 573.4 L418.1 574.2 L419.3 573.7 L420.5 574.3 L421.7 571.0 L422.9 572.6 L424.1 573.2 L425.3 572.7 L426.5 573.6 L427.7 572.7 L428.9 573.0 L430.1 574.7 L431.3 572.8 L432.5 571.4 L433.7 573.0 L434.9 573.1 L436.1 567.5 L437.3 573.2 L438.5 570.2 L439.7 571.8 L441.0 572.7 L442.2 571.2 L443.4 567.9 L444.6 572.9 L445.8 572.1 L447.0 573.1 L448.2 574.8 L449.4 571.5 L450.6 571.6 L451.8 573.2 L453.0 572.1 L454.2 574.3 L455.4 571.8 L456.6 571.7 L457.8 572.8 L459.0 574.5 L460.2 567.6 L461.4 574.1 L462.6 567.1 L463.8 567.3 L465.1 564.9 L466.3 573.7 L467.5 574.9 L468.7 572.7 L469.9 565.9 L471.1 575.1 L472.3 575.1 L473.5 567.8 L474.7 575.6 L475.9 574.6 L477.1 574.7 L478.3 572.7 L479.5 572.7 L480.7 573.1 L481.9 575.2 L483.1 565.8 L484.3 566.9 L485.5 574.5 L486.7 573.7 L488.0 570.8 L489.2 573.1 L490.4 573.8 L491.6 574.9 L492.8 572.1 L494.0 573.4 L495.2 574.9 L496.4 574.9 L497.6 573.2 L498.8 573.5 L500.0 572.8 L501.2 575.3 L502.4 574.1 L503.6 575.6 L504.8 568.5 L506.0 573.4 L507.2 571.6 L508.4 573.3 L509.6 574.8 L510.8 571.7 L512.1 575.8 L513.3 569.9 L514.5 574.4 L515.7 571.0 L516.9 573.8 L518.1 562.8 L519.3 574.8 L520.5 573.4 L521.7 574.2 L522.9 573.7 L524.1 570.9 L525.3 575.7 L526.5 573.8 L527.7 573.9 L528.9 575.2 L530.1 570.2 L531.3 574.7 L532.5 573.3 L533.7 568.9 L534.9 574.3 L536.2 571.6 L537.4 574.1 L538.6 574.6 L539.8 576.0 L541.0 577.0 L542.2 575.5 L543.4 576.5 L544.6 575.1 L545.8 573.5 L547.0 571.8 L547.0 588.6 L545.8 588.2 L544.6 588.1 L543.4 587.9 L542.2 587.2 L541.0 587.4 L539.8 588.9 L538.6 588.8 L537.4 589.1 L536.2 588.5 L534.9 590.0 L533.7 590.2 L532.5 587.5 L531.3 588.9 L530.1 588.5 L528.9 587.5 L527.7 592.8 L526.5 586.9 L525.3 590.2 L524.1 590.3 L522.9 587.2 L521.7 586.2 L520.5 590.1 L519.3 587.1 L518.1 587.6 L516.9 586.7 L515.7 588.0 L514.5 588.2 L513.3 588.3 L512.1 593.1 L510.8 590.5 L509.6 588.0 L508.4 588.9 L507.2 587.4 L506.0 588.6 L504.8 588.5 L503.6 586.4 L502.4 591.5 L501.2 587.7 L500.0 590.6 L498.8 591.9 L497.6 589.1 L496.4 590.4 L495.2 587.2 L494.0 587.8 L492.8 589.3 L491.6 588.5 L490.4 587.4 L489.2 588.6 L488.0 588.8 L486.7 587.5 L485.5 587.5 L484.3 586.4 L483.1 587.7 L481.9 587.4 L480.7 588.5 L479.5 598.5 L478.3 587.8 L477.1 587.7 L475.9 587.0 L474.7 588.3 L473.5 587.6 L472.3 590.0 L471.1 587.4 L469.9 589.9 L468.7 587.9 L467.5 588.4 L466.3 591.1 L465.1 591.6 L463.8 590.9 L462.6 587.1 L461.4 586.9 L460.2 591.1 L459.0 589.9 L457.8 587.6 L456.6 587.4 L455.4 588.5 L454.2 590.0 L453.0 587.7 L451.8 588.1 L450.6 586.7 L449.4 587.4 L448.2 587.6 L447.0 591.1 L445.8 589.4 L444.6 587.6 L443.4 585.4 L442.2 586.8 L441.0 588.4 L439.7 587.4 L438.5 593.3 L437.3 586.3 L436.1 586.1 L434.9 591.8 L433.7 591.4 L432.5 590.2 L431.3 587.3 L430.1 587.6 L428.9 587.3 L427.7 586.7 L426.5 586.8 L425.3 588.8 L424.1 589.7 L422.9 588.7 L421.7 586.3 L420.5 589.2 L419.3 589.7 L418.1 586.8 L416.8 587.5 L415.6 585.7 L414.4 587.2 L413.2 586.2 L412.0 587.1 L410.8 586.3 L409.6 585.4 L408.4 588.5 L407.2 588.3 L406.0 586.1 L404.8 593.1 L403.6 591.9 L402.4 585.1 L401.2 585.4 L400.0 586.3 L398.8 586.1 L397.6 586.2 L396.4 588.6 L395.2 585.3 L393.9 590.2 L392.7 592.0 L391.5 586.8 L390.3 586.7 L389.1 586.2 L387.9 595.2 L386.7 588.1 L385.5 589.6 L384.3 589.9 L383.1 587.5 L381.9 587.5 L380.7 588.1 L379.5 585.9 L378.3 586.4 L377.1 587.0 L375.9 587.7 L374.7 584.8 L373.5 588.6 L372.3 588.4 L371.0 587.2 L369.8 585.9 L368.6 585.8 L367.4 587.8 L366.2 587.7 L365.0 593.2 L363.8 585.4 L362.6 588.2 L361.4 587.1 L360.2 586.4 L359.0 594.8 L357.8 588.1 L356.6 586.0 L355.4 586.2 L354.2 587.7 L353.0 588.4 L351.8 587.8 L350.6 588.5 L349.4 588.1 L348.1 588.3 L346.9 589.4 L345.7 588.6 L344.5 587.0 L343.3 587.8 L342.1 587.3 L340.9 584.7 L339.7 589.0 L338.5 587.4 L337.3 587.2 L336.1 585.5 L334.9 588.7 L333.7 586.9 L332.5 588.3 L331.3 595.6 L330.1 587.2 L328.9 587.2 L327.7 587.0 L326.5 586.4 L325.2 588.1 L324.0 588.6 L322.8 590.7 L321.6 585.3 L320.4 590.1 L319.2 587.1 L318.0 591.2 L316.8 587.1 L315.6 587.4 L314.4 593.8 L313.2 587.9 L312.0 588.3 L310.8 587.6 L309.6 586.1 L308.4 585.9 L307.2 586.4 L306.0 587.1 L304.8 586.3 L303.6 586.7 L302.4 587.7 L301.1 587.3 L299.9 588.6 L298.7 586.0 L297.5 585.0 L296.3 584.1 L295.1 585.3 L293.9 586.8 L292.7 586.0 L291.5 586.1 L290.3 585.1 L289.1 584.6 L287.9 586.9 L286.7 594.3 L285.5 585.8 L284.3 585.4 L283.1 586.6 L281.9 589.6 L280.7 586.0 L279.5 584.9 L278.3 586.1 L277.0 587.3 L275.8 585.5 L274.6 587.4 L273.4 586.5 L272.2 587.2 L271.0 584.6 L269.8 586.2 L268.6 585.2 L267.4 585.0 L266.2 584.3 L265.0 584.5 L263.8 585.7 L262.6 584.8 L261.4 585.2 L260.2 585.7 L259.0 584.2 L257.8 585.1 L256.6 586.3 L255.4 585.0 L254.2 587.3 L253.0 585.9 L251.7 585.2 L250.5 585.2 L249.3 584.9 L248.1 584.2 L246.9 586.0 L245.7 584.7 L244.5 585.7 L243.3 585.7 L242.1 584.0 L240.9 585.9 L239.7 584.6 L238.5 583.8 L237.3 583.7 L236.1 586.4 L234.9 584.6 L233.7 590.4 L232.5 584.5 L231.3 583.1 L230.1 583.7 L228.9 582.9 L227.7 582.5 L226.5 587.9 L225.3 582.6 L224.1 584.5 L222.9 584.5 L221.7 586.4 L220.5 580.9 L219.3 581.0 L218.1 585.4 L216.9 587.4 L215.7 581.7 L214.5 582.6 L213.3 585.5 L212.1 582.7 L210.9 580.4 L209.7 581.8 L208.5 583.5 L207.3 581.4 L206.0 581.3 L204.8 581.3 L203.6 587.1 L202.4 579.5 L201.2 581.1 L200.0 584.1 L198.8 581.1 L197.6 589.2 L196.4 582.1 L195.2 582.7 L194.0 581.4 L192.8 580.6 L191.6 582.4 L190.4 579.5 L189.2 581.4 L188.0 579.8 L186.8 585.7 L185.6 578.6 L184.4 581.5 L183.2 582.2 L182.0 581.6 L180.8 578.9 L179.6 586.8 L178.4 581.2 L177.2 578.4 L176.0 578.3 L174.8 580.5 L173.6 579.1 L172.4 579.2 L171.2 578.3 L170.0 579.7 L168.8 579.6 L167.6 584.7 L166.4 578.3 L165.2 585.9 L164.0 578.7 L162.8 579.7 L161.6 580.0 L160.4 580.8 L159.2 584.5 L158.0 580.3 L156.8 582.7 L155.6 581.5 L154.4 582.1 L153.2 584.9 L152.0 580.8 L150.8 580.3 L149.6 581.1 L148.4 586.8 L147.2 585.6 L146.1 578.5 L144.9 580.4 L143.7 579.1 L142.5 581.7 L141.3 580.2 L140.2 575.9 L139.0 577.5 L137.8 578.6 L136.6 578.5 L135.5 578.8 L134.5 579.6 L133.4 587.8 L132.3 581.6 L131.3 580.6 L130.4 580.5 L129.6 582.7 L128.7 588.9 L127.8 586.2 L127.0 587.9 L126.1 590.0 L125.3 587.0 L124.7 590.2 L124.4 588.4 L124.1 589.7 L123.8 591.7 L123.6 592.3 L123.3 596.3 L123.0 595.3 L122.7 595.4 L122.4 594.3 L122.1 599.1 L121.4 602.3 L120.5 607.5 L119.4 601.9 L118.2 599.5 L117.0 600.4 Z" fill="#000" fill-opacity="0.2" stroke="#000" stroke-opacity="0.24" stroke-width="3" stroke-linejoin="round"/>
<path d="M117.0 623.3 L118.2 625.4 L119.3 625.9 L120.5 627.1 L121.1 626.5 L121.3 626.1 L121.4 628.1 L121.6 629.7 L121.8 631.7 L122.0 632.8 L122.1 631.4 L122.3 629.8 L122.5 634.3 L122.6 636.9 L122.8 639.6 L123.0 638.6 L123.1 639.7 L123.3 638.8 L123.5 636.9 L123.7 634.2 L123.8 634.3 L124.0 632.0 L124.2 629.2 L124.3 630.1 L124.5 629.3 L124.7 628.5 L124.8 623.0 L125.0 627.7 L125.2 624.6 L125.4 624.5 L125.5 623.0 L125.7 622.8 L125.9 616.5 L126.0 620.1 L126.2 619.5 L126.4 616.3 L126.6 616.0 L126.7 612.8 L126.9 609.4 L127.1 612.2 L127.3 609.4 L127.5 607.3 L127.8 606.9 L128.0 606.5 L128.2 605.8 L128.4 604.9 L128.6 604.4 L128.9 603.8 L129.1 601.3 L129.3 598.3 L129.5 593.1 L129.8 597.9 L130.0 596.6 L130.2 596.6 L130.4 586.1 L130.6 592.4 L130.9 589.8 L131.1 587.1 L131.3 589.8 L131.5 588.3 L131.9 588.5 L132.2 586.5 L132.5 582.1 L132.8 583.3 L133.1 580.9 L133.4 580.7 L133.7 574.0 L134.0 579.7 L134.4 578.1 L134.7 577.1 L135.0 570.8 L135.3 573.5 L135.6 573.0 L136.2 571.6 L137.4 568.9 L138.5 569.6 L139.7 571.7 L140.9 569.0 L142.0 564.7 L143.2 567.1 L144.4 571.7 L145.6 571.7 L146.8 569.6 L148.0 570.7 L149.2 571.9 L150.4 570.6 L151.6 569.9 L152.8 569.6 L154.0 569.8 L155.2 570.9 L156.5 565.8 L157.7 570.2 L158.9 570.1 L160.1 569.3 L161.3 571.5 L162.5 570.2 L163.7 569.7 L164.9 563.4 L166.1 564.7 L167.3 569.4 L168.5 570.9 L169.7 570.1 L170.9 570.8 L172.1 569.3 L173.3 568.9 L174.5 569.2 L175.7 567.5 L176.9 569.0 L178.2 570.9 L179.4 570.1 L180.6 570.9 L181.8 562.5 L183.0 570.9 L184.2 569.2 L185.4 569.1 L186.6 570.6 L187.8 569.9 L189.0 571.2 L190.2 569.8 L191.4 570.6 L192.6 569.3 L193.8 568.6 L195.0 571.5 L196.2 570.4 L197.4 571.3 L198.6 570.4 L199.8 568.7 L201.1 567.3 L202.3 567.7 L203.5 572.0 L204.7 572.2 L205.9 571.0 L207.1 570.0 L208.3 570.3 L209.5 569.3 L210.7 567.6 L211.9 570.0 L213.1 570.7 L214.3 569.7 L215.5 562.5 L216.7 570.1 L217.9 571.5 L219.1 569.9 L220.3 569.5 L221.5 569.9 L222.8 569.2 L224.0 562.5 L225.2 569.7 L226.4 568.2 L227.6 572.2 L228.8 571.1 L230.0 570.7 L231.2 569.6 L232.4 570.5 L233.6 570.5 L234.8 566.6 L236.0 569.0 L237.2 569.9 L238.4 564.8 L239.6 560.1 L240.8 569.5 L242.0 564.7 L243.2 570.2 L244.4 571.5 L245.7 569.1 L246.9 570.6 L248.1 569.7 L249.3 569.3 L250.5 569.3 L251.7 569.8 L252.9 568.7 L254.1 570.0 L255.3 562.7 L256.5 571.3 L257.7 571.7 L258.9 570.6 L260.1 571.4 L261.3 570.5 L262.5 570.5 L263.7 559.1 L264.9 567.6 L266.1 567.5 L267.3 570.3 L268.6 568.9 L269.8 568.3 L271.0 563.9 L272.2 569.9 L273.4 569.9 L274.6 566.6 L275.8 567.1 L277.0 572.3 L278.2 570.4 L279.4 566.6 L280.6 571.0 L281.8 571.3 L283.0 571.5 L284.2 567.9 L285.4 565.2 L286.6 570.9 L287.8 570.4 L289.0 567.2 L290.3 571.0 L291.5 571.9 L292.7 570.1 L293.9 571.2 L295.1 571.9 L296.3 571.3 L297.5 569.3 L298.7 570.8 L299.9 570.6 L301.1 569.6 L302.3 571.1 L303.5 570.0 L304.7 569.9 L305.9 571.0 L307.1 570.2 L308.3 571.3 L309.5 572.5 L310.7 570.2 L311.9 571.5 L313.2 570.7 L314.4 568.4 L315.6 569.6 L316.8 570.9 L318.0 571.4 L319.2 570.6 L320.4 571.2 L321.6 571.3 L322.8 571.1 L324.0 569.7 L325.2 571.0 L326.4 571.3 L327.6 569.7 L328.8 572.5 L330.0 572.7 L331.2 571.6 L332.4 569.5 L333.6 570.3 L334.9 569.8 L336.1 570.1 L337.3 570.4 L338.5 572.8 L339.7 571.3 L340.9 564.7 L342.1 571.6 L343.3 572.7 L344.5 565.2 L345.7 570.7 L346.9 571.4 L348.1 572.3 L349.3 569.8 L350.5 572.5 L351.7 571.5 L352.9 565.5 L354.1 571.8 L355.3 573.1 L356.5 571.3 L357.8 572.5 L359.0 571.9 L360.2 571.3 L361.4 571.3 L362.6 572.0 L363.8 571.9 L365.0 570.2 L366.2 571.7 L367.4 570.2 L368.6 570.2 L369.8 570.0 L371.0 568.4 L372.2 566.6 L373.4 563.9 L374.6 571.5 L375.8 568.6 L377.0 570.9 L378.2 571.6 L379.5 573.0 L380.7 571.6 L381.9 572.6 L383.1 572.6 L384.3 570.4 L385.5 565.9 L386.7 570.1 L387.9 570.7 L389.1 571.4 L390.3 567.3 L391.5 571.6 L392.7 571.1 L393.9 567.5 L395.1 571.7 L396.3 570.3 L397.5 569.4 L398.7 571.0 L399.9 570.5 L401.1 570.8 L402.4 570.0 L403.6 568.8 L404.8 570.0 L406.0 561.8 L407.2 570.2 L408.4 570.4 L409.6 571.7 L410.8 574.4 L412.0 570.9 L413.2 569.7 L414.4 571.5 L415.6 570.1 L416.8 570.2 L418.0 570.9 L419.2 565.9 L420.4 570.2 L421.6 571.6 L422.8 561.1 L424.1 572.6 L425.3 572.3 L426.5 569.2 L427.7 570.5 L428.9 570.1 L430.1 571.9 L431.3 571.6 L432.5 573.2 L433.7 565.1 L434.9 572.7 L436.1 566.9 L437.3 569.5 L438.5 568.5 L439.7 571.8 L440.9 572.4 L442.1 566.9 L443.3 567.0 L444.5 571.0 L445.7 570.9 L447.0 571.3 L448.2 571.4 L449.4 571.9 L450.6 571.6 L451.8 570.1 L453.0 569.2 L454.2 571.0 L455.4 573.1 L456.6 568.6 L457.8 569.0 L459.0 570.4 L460.2 570.9 L461.4 561.9 L462.6 571.0 L463.8 566.3 L465.0 571.7 L466.2 570.6 L467.4 570.6 L468.6 567.9 L469.9 570.1 L471.1 567.0 L472.3 572.5 L473.5 570.7 L474.7 569.2 L475.9 573.1 L477.1 568.4 L478.3 565.3 L479.5 572.1 L480.7 571.5 L481.9 571.4 L483.1 571.3 L484.3 571.5 L485.5 568.4 L486.7 571.5 L487.9 571.7 L489.1 570.4 L490.3 571.8 L491.6 568.8 L492.8 568.7 L494.0 569.4 L495.2 568.6 L496.4 572.2 L497.6 564.6 L498.8 570.2 L500.0 571.5 L501.2 570.7 L502.4 565.7 L503.6 570.3 L504.8 571.4 L506.0 561.4 L507.2 571.6 L508.4 571.9 L509.6 567.1 L510.8 570.5 L512.0 570.8 L513.2 571.6 L514.5 571.9 L515.7 572.8 L516.9 570.7 L518.1 571.4 L519.3 570.9 L520.5 571.9 L521.7 570.9 L522.9 568.8 L524.1 572.3 L525.3 571.2 L526.5 570.4 L527.7 570.0 L528.9 570.4 L530.1 564.7 L531.3 571.6 L532.5 562.5 L533.7 571.9 L534.9 567.5 L536.2 571.2 L537.4 572.4 L538.6 570.6 L539.8 572.4 L541.0 568.4 L542.2 571.8 L543.4 573.2 L544.6 572.9 L545.8 571.9 L547.0 570.5 L547.0 588.0 L545.8 586.4 L544.6 587.8 L543.4 587.5 L542.2 586.7 L541.0 585.5 L539.8 586.3 L538.6 587.1 L537.4 586.4 L536.2 594.2 L535.0 591.5 L533.8 588.7 L532.6 587.6 L531.4 587.6 L530.2 587.5 L529.0 590.2 L527.8 587.0 L526.6 588.8 L525.4 587.7 L524.1 587.7 L522.9 587.7 L521.7 586.8 L520.5 593.3 L519.3 590.7 L518.1 586.2 L516.9 588.4 L515.7 588.0 L514.5 591.5 L513.3 587.6 L512.1 591.7 L510.9 586.8 L509.7 590.0 L508.5 587.5 L507.3 586.6 L506.1 592.9 L504.9 585.8 L503.7 586.5 L502.5 592.8 L501.3 591.6 L500.1 586.4 L498.9 592.4 L497.7 588.7 L496.5 587.6 L495.3 588.9 L494.1 587.1 L492.9 593.4 L491.7 588.2 L490.5 589.2 L489.3 587.3 L488.1 587.4 L486.9 588.9 L485.7 587.9 L484.5 587.4 L483.3 587.0 L482.1 591.0 L480.9 587.4 L479.7 585.9 L478.4 586.8 L477.2 591.7 L476.0 589.4 L474.8 588.7 L473.6 587.8 L472.4 587.7 L471.2 587.7 L470.0 585.9 L468.8 584.6 L467.6 587.9 L466.4 587.1 L465.2 587.4 L464.0 590.1 L462.8 588.1 L461.6 587.0 L460.4 587.4 L459.2 586.0 L458.0 587.1 L456.8 587.4 L455.6 594.8 L454.4 589.3 L453.2 589.1 L452.0 589.1 L450.8 586.4 L449.6 588.4 L448.4 591.5 L447.2 587.8 L446.0 588.6 L444.8 587.6 L443.6 587.3 L442.4 588.4 L441.2 587.7 L440.0 593.7 L438.8 590.1 L437.6 585.5 L436.4 586.3 L435.2 587.5 L433.9 586.1 L432.7 588.1 L431.5 587.7 L430.3 585.3 L429.1 586.5 L427.9 588.3 L426.7 590.2 L425.5 587.9 L424.3 586.8 L423.1 586.0 L421.9 588.6 L420.7 586.7 L419.5 584.9 L418.3 587.1 L417.1 587.2 L415.9 586.3 L414.7 590.4 L413.5 592.6 L412.3 586.4 L411.1 586.3 L409.9 594.0 L408.7 585.4 L407.5 586.7 L406.3 587.6 L405.1 585.0 L403.9 584.5 L402.7 584.7 L401.5 586.1 L400.3 586.2 L399.1 589.6 L397.9 589.2 L396.7 587.5 L395.5 586.6 L394.3 585.9 L393.1 586.3 L391.9 586.9 L390.7 585.5 L389.5 591.2 L388.2 586.4 L387.0 587.0 L385.8 586.6 L384.6 588.4 L383.4 586.1 L382.2 590.2 L381.0 591.3 L379.8 586.9 L378.6 590.7 L377.4 586.3 L376.2 586.1 L375.0 585.1 L373.8 585.2 L372.6 585.1 L371.4 587.8 L370.2 587.7 L369.0 591.0 L367.8 586.7 L366.6 587.3 L365.4 591.5 L364.2 587.5 L363.0 587.8 L361.8 594.2 L360.6 587.4 L359.4 587.7 L358.2 587.8 L357.0 587.7 L355.8 591.4 L354.6 585.7 L353.4 589.4 L352.2 587.3 L351.0 586.2 L349.8 588.4 L348.6 586.2 L347.4 586.7 L346.2 589.5 L345.0 586.3 L343.7 588.0 L342.5 591.3 L341.3 591.7 L340.1 587.4 L338.9 587.0 L337.7 586.9 L336.5 587.1 L335.3 586.1 L334.1 586.4 L332.9 585.9 L331.7 587.1 L330.5 587.6 L329.3 591.8 L328.1 588.9 L326.9 587.7 L325.7 590.8 L324.5 586.8 L323.3 586.7 L322.1 585.9 L320.9 587.2 L319.7 589.0 L318.5 588.2 L317.3 587.4 L316.1 587.6 L314.9 593.3 L313.7 588.3 L312.5 586.7 L311.3 590.1 L310.1 588.5 L308.9 598.6 L307.7 586.8 L306.5 585.7 L305.3 593.6 L304.1 591.1 L302.9 588.3 L301.7 588.6 L300.5 589.3 L299.3 587.1 L298.0 592.2 L296.8 586.7 L295.6 586.4 L294.4 587.9 L293.2 587.7 L292.0 590.0 L290.8 588.1 L289.6 594.0 L288.4 587.5 L287.2 590.5 L286.0 585.3 L284.8 586.3 L283.6 591.4 L282.4 585.8 L281.2 586.6 L280.0 590.8 L278.8 587.0 L277.6 591.9 L276.4 587.3 L275.2 586.3 L274.0 586.0 L272.8 598.0 L271.6 587.3 L270.4 588.0 L269.2 588.2 L268.0 586.0 L266.8 590.8 L265.6 585.4 L264.4 585.3 L263.2 587.3 L262.0 586.2 L260.8 585.8 L259.6 588.1 L258.4 587.6 L257.2 586.2 L256.0 586.6 L254.8 586.5 L253.6 586.4 L252.3 589.1 L251.1 586.5 L249.9 591.1 L248.7 588.7 L247.5 586.3 L246.3 587.4 L245.1 585.7 L243.9 585.7 L242.7 587.7 L241.5 589.6 L240.3 588.6 L239.1 587.2 L237.9 586.9 L236.7 585.2 L235.5 591.7 L234.3 584.8 L233.1 585.4 L231.9 586.7 L230.7 587.8 L229.5 585.9 L228.3 585.4 L227.1 587.3 L225.9 587.0 L224.7 586.7 L223.5 594.6 L222.3 588.1 L221.1 588.1 L219.9 586.2 L218.7 587.2 L217.5 586.3 L216.3 587.7 L215.1 592.2 L213.9 587.7 L212.7 587.4 L211.5 589.4 L210.3 587.3 L209.1 589.9 L207.8 597.7 L206.6 589.1 L205.4 589.3 L204.2 592.3 L203.0 588.4 L201.8 588.8 L200.6 586.9 L199.4 586.6 L198.2 590.2 L197.0 586.1 L195.8 585.2 L194.6 591.4 L193.4 584.2 L192.2 585.9 L191.0 587.0 L189.8 586.1 L188.6 587.1 L187.4 588.3 L186.2 590.4 L185.0 590.2 L183.8 586.1 L182.6 586.5 L181.4 593.8 L180.2 588.7 L179.0 588.2 L177.8 589.1 L176.6 586.3 L175.4 587.0 L174.2 586.3 L173.0 586.0 L171.8 586.3 L170.6 588.1 L169.4 586.9 L168.2 587.3 L167.0 585.9 L165.8 587.5 L164.6 594.7 L163.4 584.2 L162.1 586.5 L160.9 590.3 L159.7 586.4 L158.5 588.0 L157.3 588.4 L156.1 590.3 L154.9 586.9 L153.7 587.1 L152.5 587.1 L151.3 589.9 L150.1 586.6 L148.9 587.9 L147.7 586.8 L146.5 589.2 L145.3 587.3 L144.3 588.5 L143.3 587.2 L142.3 588.3 L141.3 588.7 L140.4 593.2 L139.4 592.2 L138.4 595.6 L137.8 592.5 L137.4 596.0 L137.0 598.6 L136.5 595.6 L136.1 596.3 L135.7 598.4 L135.3 600.1 L134.9 601.2 L134.5 602.3 L134.1 608.3 L133.7 609.3 L133.3 605.4 L133.0 606.9 L132.8 608.4 L132.6 610.8 L132.4 610.7 L132.3 610.5 L132.1 611.4 L131.9 614.4 L131.7 617.2 L131.6 616.8 L131.4 617.6 L131.2 618.0 L131.0 619.5 L130.9 622.7 L130.7 620.1 L130.5 624.4 L130.3 628.1 L130.2 625.1 L130.0 625.5 L129.8 627.8 L129.6 628.2 L129.5 627.5 L129.3 629.6 L129.1 635.9 L128.9 635.1 L128.8 634.9 L128.6 635.8 L128.4 635.9 L128.2 638.0 L128.1 645.5 L127.9 642.2 L127.8 642.3 L127.7 645.2 L127.6 642.7 L127.4 649.9 L127.3 648.7 L127.2 648.5 L127.1 651.2 L127.0 650.6 L126.8 656.5 L126.7 652.8 L126.6 653.1 L126.5 653.6 L126.4 657.0 L126.2 658.1 L126.1 659.0 L126.0 658.8 L125.9 662.0 L125.8 667.5 L125.6 664.5 L125.5 669.7 L125.4 666.4 L125.3 667.8 L125.2 668.6 L125.0 670.4 L124.9 672.0 L124.8 672.1 L124.7 673.7 L124.6 680.6 L124.5 679.4 L124.3 675.6 L124.2 677.0 L124.1 680.2 L124.0 679.9 L123.9 678.9 L123.9 683.6 L123.8 690.1 L123.7 686.0 L123.7 685.6 L123.6 684.2 L123.5 689.6 L123.5 690.0 L123.4 690.0 L123.3 696.2 L123.3 694.3 L123.2 694.7 L123.1 699.9 L123.1 701.8 L123.0 699.4 L122.9 699.0 L122.9 699.5 L122.8 702.5 L122.7 702.9 L122.7 708.4 L122.6 706.2 L122.5 706.6 L122.5 713.8 L122.4 711.4 L122.3 712.2 L122.3 713.6 L122.2 714.0 L122.2 713.8 L122.1 718.5 L122.0 715.8 L122.0 717.0 L121.9 717.1 L121.8 721.3 L121.8 728.2 L121.7 723.1 L121.6 723.5 L121.6 724.0 L121.5 726.4 L121.4 726.6 L121.4 728.0 L121.3 728.9 L121.2 729.7 L121.2 732.2 L121.1 734.2 L121.0 733.6 L120.5 735.6 L119.3 736.0 L118.2 742.2 L117.0 738.6 Z" fill="#f00" fill-opacity="0.28" stroke="#f00" stroke-opacity="0.36" stroke-width="3" stroke-linejoin="round"/>
<path d="M117.0 594.9 L118.0 594.2 L119.0 593.2 L120.0 594.6 L121.0 594.7 L121.7 594.0 L121.9 592.3 L122.2 592.1 L122.4 590.2 L122.7 590.0 L122.9 589.2 L123.2 588.0 L123.4 586.7 L123.7 586.5 L123.9 585.1 L124.1 583.9 L124.4 584.6 L124.6 582.4 L124.9 580.4 L125.6 578.5 L126.3 577.3 L127.0 574.8 L127.7 573.1 L128.4 573.4 L129.1 573.2 L129.9 572.5 L130.6 572.9 L131.3 575.6 L132.1 574.1 L133.0 575.2 L133.9 573.3 L134.8 571.0 L135.7 569.3 L136.6 570.4 L137.5 567.2 L138.4 568.0 L139.4 568.7 L140.4 570.5 L141.4 569.6 L142.3 570.9 L143.3 569.0 L144.3 571.7 L145.3 572.5 L146.3 573.7 L147.2 573.6 L148.2 576.2 L149.2 576.6 L150.2 573.4 L151.2 572.9 L152.1 575.5 L153.1 574.6 L154.1 574.4 L155.1 574.0 L156.1 570.3 L157.1 572.2 L158.1 569.2 L159.1 568.9 L160.1 570.6 L161.1 574.1 L162.1 572.6 L163.1 574.8 L164.1 572.9 L165.1 574.4 L166.1 573.4 L167.1 574.3 L168.1 572.9 L169.1 572.1 L170.1 568.6 L171.1 570.5 L172.1 571.0 L173.1 571.0 L174.1 572.5 L175.1 574.2 L176.1 575.2 L177.1 572.9 L178.1 574.4 L179.1 575.7 L180.1 576.1 L181.1 574.4 L182.1 571.9 L183.1 573.2 L184.1 572.2 L185.1 572.5 L186.1 570.4 L187.1 568.6 L188.1 570.6 L189.1 570.4 L190.1 570.5 L191.1 570.2 L192.1 570.0 L193.1 571.5 L194.1 571.8 L195.1 572.3 L196.1 571.7 L197.1 571.0 L198.1 572.3 L199.1 569.5 L200.1 572.6 L201.1 572.0 L202.1 574.7 L203.1 577.2 L204.1 576.8 L205.1 581.9 L206.1 580.0 L207.1 580.3 L208.1 580.9 L209.1 578.1 L210.1 578.3 L211.1 571.8 L212.1 575.9 L213.1 574.4 L214.1 573.5 L215.1 576.4 L216.1 576.0 L217.1 575.7 L218.1 574.2 L219.1 579.0 L220.1 573.2 L221.1 577.1 L222.1 579.8 L223.1 579.0 L224.1 577.2 L225.1 577.0 L226.1 575.4 L227.1 575.4 L228.1 574.0 L229.1 571.6 L230.1 570.8 L231.1 574.0 L232.1 570.9 L233.1 571.8 L234.1 577.4 L235.1 574.1 L236.1 574.2 L237.1 575.2 L238.1 578.1 L239.1 576.3 L240.1 577.0 L241.1 573.9 L242.1 576.1 L243.2 577.2 L244.2 577.7 L245.2 580.1 L246.2 579.2 L247.2 575.1 L248.2 577.8 L249.2 580.2 L250.2 582.6 L251.2 584.3 L252.2 585.5 L253.2 581.5 L254.2 578.8 L255.2 580.3 L256.2 575.7 L257.2 572.4 L258.2 573.7 L259.2 574.7 L260.2 574.7 L261.2 576.2 L262.2 580.5 L263.2 578.6 L264.2 581.2 L265.2 581.7 L266.2 581.7 L267.2 585.9 L268.2 580.7 L269.2 584.8 L270.2 577.9 L271.2 576.3 L272.2 574.7 L273.2 574.3 L274.2 573.6 L275.2 573.2 L276.2 575.0 L277.2 579.1 L278.2 581.5 L279.2 580.4 L280.2 584.0 L281.2 583.9 L282.2 583.6 L283.2 581.6 L284.2 581.3 L285.2 583.5 L286.3 578.8 L287.3 581.0 L288.3 580.9 L289.3 577.0 L290.3 581.0 L291.3 581.3 L292.3 578.1 L293.3 579.8 L294.3 579.7 L295.3 578.6 L296.3 577.9 L297.3 578.6 L298.3 579.8 L299.3 577.4 L300.3 577.1 L301.3 576.7 L302.3 575.2 L303.3 577.1 L304.3 576.6 L305.3 577.4 L306.3 580.7 L307.3 577.6 L308.3 579.1 L309.3 578.8 L310.3 579.3 L311.3 578.1 L312.3 579.9 L313.3 581.9 L314.3 583.6 L315.3 583.0 L316.3 582.8 L317.3 581.5 L318.3 581.7 L319.3 576.8 L320.3 580.5 L321.3 580.5 L322.3 579.0 L323.4 577.7 L324.4 580.9 L325.4 578.3 L326.4 580.9 L327.4 578.2 L328.4 577.0 L329.4 577.5 L330.4 577.0 L331.4 577.8 L332.4 578.7 L333.4 577.5 L334.4 576.6 L335.4 576.5 L336.4 576.8 L337.4 577.1 L338.4 579.5 L339.4 581.6 L340.4 583.0 L341.4 584.2 L342.4 582.7 L343.4 582.7 L344.4 580.3 L345.4 580.3 L346.4 579.1 L347.4 578.2 L348.4 580.1 L349.4 580.7 L350.4 580.1 L351.4 578.1 L352.4 578.8 L353.4 574.6 L354.4 574.3 L355.4 577.0 L356.4 576.5 L357.5 577.1 L358.5 577.6 L359.5 581.0 L360.5 577.2 L361.5 579.8 L362.5 582.9 L363.5 581.6 L364.5 582.0 L365.5 583.4 L366.5 580.4 L367.5 579.4 L368.5 580.0 L369.5 575.4 L370.5 577.1 L371.5 576.4 L372.5 576.5 L373.5 575.2 L374.5 577.0 L375.5 579.0 L376.5 581.3 L377.5 579.7 L378.5 581.0 L379.5 576.6 L380.5 579.3 L381.5 579.5 L382.5 577.0 L383.5 577.5 L384.5 577.6 L385.5 577.9 L386.5 579.0 L387.5 577.7 L388.5 577.1 L389.5 577.1 L390.6 577.8 L391.6 578.4 L392.6 577.3 L393.6 575.5 L394.6 574.9 L395.6 574.2 L396.6 575.1 L397.6 577.3 L398.6 578.6 L399.6 580.8 L400.6 577.9 L401.6 579.3 L402.6 577.9 L403.6 581.2 L404.6 581.3 L405.6 583.3 L406.6 582.7 L407.6 580.9 L408.6 582.6 L409.6 582.3 L410.6 583.2 L411.6 582.9 L412.6 583.2 L413.6 582.0 L414.6 580.1 L415.6 581.3 L416.6 576.7 L417.6 576.7 L418.6 576.9 L419.6 577.9 L420.6 579.5 L421.6 581.5 L422.6 582.2 L423.6 584.2 L424.7 584.4 L425.7 583.3 L426.7 584.7 L427.7 584.5 L428.7 582.1 L429.7 580.2 L430.7 578.8 L431.7 578.8 L432.7 577.9 L433.7 576.6 L434.7 576.9 L435.7 578.4 L436.7 575.6 L437.7 577.9 L438.7 577.1 L439.7 582.5 L440.7 578.6 L441.7 578.0 L442.7 578.2 L443.7 577.1 L444.7 579.6 L445.7 584.0 L446.7 582.1 L447.7 580.2 L448.7 578.9 L449.7 577.8 L450.7 576.6 L451.7 579.2 L452.7 581.4 L453.7 579.8 L454.7 581.6 L455.7 577.9 L456.7 578.2 L457.7 580.1 L458.8 579.0 L459.8 579.1 L460.8 575.8 L461.8 579.3 L462.8 581.3 L463.8 585.1 L464.8 585.6 L465.8 586.1 L466.8 587.1 L467.8 585.3 L468.8 586.1 L469.8 583.0 L470.8 583.5 L471.8 581.2 L472.8 581.0 L473.8 580.1 L474.8 581.3 L475.8 583.1 L476.8 586.6 L477.8 582.7 L478.8 585.4 L479.8 581.0 L480.8 578.1 L481.8 580.2 L482.8 579.4 L483.8 583.0 L484.8 584.5 L485.8 587.7 L486.8 588.1 L487.8 588.3 L488.8 586.3 L489.8 587.8 L490.8 585.2 L491.8 584.6 L492.8 584.9 L493.9 585.1 L494.9 583.6 L495.9 586.0 L496.9 582.1 L497.9 583.1 L498.9 580.8 L499.9 579.8 L500.9 577.4 L501.9 579.7 L502.9 578.3 L503.9 580.3 L504.9 579.3 L505.9 579.9 L506.9 580.6 L507.9 580.9 L508.9 577.2 L509.9 578.3 L510.9 579.4 L511.9 580.6 L512.9 580.7 L513.9 582.3 L514.9 581.5 L515.9 580.5 L516.9 581.6 L517.9 581.5 L518.9 579.0 L519.9 578.6 L520.9 580.4 L521.9 582.2 L522.9 576.3 L523.9 578.3 L524.9 580.1 L525.9 578.6 L526.9 582.3 L527.9 583.8 L528.9 584.3 L530.0 586.8 L531.0 588.0 L532.0 585.3 L533.0 585.7 L534.0 583.9 L535.0 581.9 L536.0 581.8 L537.0 580.1 L538.0 580.4 L539.0 578.8 L540.0 582.6 L541.0 581.5 L542.0 584.5 L543.0 586.6 L544.0 586.4 L545.0 584.3 L546.0 584.1 L547.0 583.3" fill="none" stroke="#000" stroke-width="6.5" stroke-linejoin="round" stroke-linecap="round"/>
<path d="M119.5 724.0 L120.0 723.5 L120.4 722.7 L120.9 721.2 L121.4 719.9 L121.6 719.3 L121.7 718.5 L121.7 717.8 L121.7 716.8 L121.8 715.6 L121.8 714.2 L121.8 713.7 L121.9 712.4 L121.9 711.1 L121.9 709.8 L122.0 709.7 L122.0 707.9 L122.1 707.9 L122.1 707.2 L122.1 705.5 L122.2 704.0 L122.2 702.8 L122.2 701.5 L122.3 700.8 L122.3 700.1 L122.3 698.9 L122.4 698.4 L122.4 697.5 L122.4 697.2 L122.5 696.2 L122.5 694.5 L122.6 693.6 L122.6 692.7 L122.6 691.0 L122.7 690.4 L122.7 689.7 L122.7 688.3 L122.8 687.8 L122.8 686.7 L122.8 685.5 L122.9 684.9 L122.9 683.2 L123.0 682.6 L123.0 681.4 L123.0 680.9 L123.1 679.4 L123.1 678.9 L123.1 677.8 L123.2 676.9 L123.2 675.9 L123.2 673.7 L123.3 673.2 L123.3 671.9 L123.4 671.7 L123.4 670.9 L123.4 669.3 L123.5 668.5 L123.5 667.7 L123.5 666.3 L123.6 665.1 L123.6 663.6 L123.6 662.9 L123.7 662.5 L123.7 660.7 L123.7 660.3 L123.8 659.3 L123.9 658.3 L124.0 657.7 L124.1 656.3 L124.1 656.1 L124.2 654.5 L124.3 653.9 L124.4 652.2 L124.5 651.4 L124.6 650.2 L124.7 649.8 L124.8 647.9 L124.9 647.0 L125.0 646.7 L125.1 645.5 L125.2 644.2 L125.3 643.1 L125.4 641.8 L125.5 641.2 L125.6 640.5 L125.7 639.9 L125.8 638.9 L125.9 638.2 L126.0 636.8 L126.1 635.4 L126.2 634.5 L126.3 634.1 L126.4 632.4 L126.5 631.8 L126.6 629.7 L126.7 629.1 L126.8 628.1 L126.9 627.6 L127.0 626.3 L127.1 625.1 L127.2 624.6 L127.4 622.8 L127.6 622.5 L127.7 622.0 L127.9 620.5 L128.0 619.9 L128.2 618.6 L128.4 617.9 L128.5 617.2 L128.7 616.4 L128.8 615.3 L129.0 613.7 L129.1 613.3 L129.3 611.5 L129.5 609.9 L129.6 609.7 L129.8 608.0 L129.9 608.0 L130.1 606.6 L130.3 605.2 L130.4 604.1 L130.6 603.0 L130.7 602.1 L130.9 601.4 L131.1 601.0 L131.2 599.5 L131.4 598.4 L131.6 597.7 L131.8 596.5 L132.1 595.2 L132.4 594.1 L132.6 594.4 L132.9 592.8 L133.2 592.7 L133.5 591.9 L133.7 590.1 L134.0 589.2 L134.3 587.5 L134.5 586.7 L134.8 585.9 L135.1 585.2 L135.4 585.1 L135.6 583.5 L136.1 583.1 L136.8 581.9 L137.6 581.2 L138.4 581.0 L139.2 577.3 L139.9 579.5 L140.7 578.3 L141.5 580.3 L142.3 580.6 L143.2 581.0 L144.2 579.7 L145.2 577.3 L146.2 582.0 L147.2 579.4 L148.2 577.6 L149.2 575.8 L150.2 579.6 L151.2 581.3 L152.2 580.3 L153.2 577.8 L154.2 578.9 L155.2 579.0 L156.2 577.4 L157.2 577.8 L158.2 574.4 L159.2 574.5 L160.2 572.5 L161.2 577.9 L162.2 578.2 L163.2 577.6 L164.2 576.3 L165.2 579.5 L166.2 575.8 L167.2 574.8 L168.2 573.4 L169.2 574.1 L170.2 575.3 L171.2 575.5 L172.2 578.2 L173.2 577.6 L174.2 576.8 L175.2 576.3 L176.2 577.6 L177.2 576.9 L178.3 580.4 L179.3 580.0 L180.3 581.5 L181.3 583.2 L182.3 581.9 L183.3 580.8 L184.3 582.7 L185.3 577.7 L186.3 577.1 L187.3 576.4 L188.3 576.3 L189.3 575.8 L190.3 570.4 L191.3 572.4 L192.3 574.0 L193.3 573.3 L194.3 572.8 L195.3 571.8 L196.3 572.9 L197.3 573.1 L198.3 572.9 L199.3 576.4 L200.3 577.9 L201.3 577.4 L202.3 577.4 L203.3 578.8 L204.3 578.3 L205.3 579.0 L206.3 576.2 L207.3 573.1 L208.3 574.6 L209.3 574.5 L210.3 572.8 L211.3 575.0 L212.3 576.1 L213.3 571.4 L214.3 577.1 L215.3 574.5 L216.3 573.3 L217.3 572.5 L218.3 572.2 L219.3 578.4 L220.3 573.6 L221.3 575.0 L222.3 573.7 L223.3 575.0 L224.3 577.0 L225.3 575.3 L226.3 575.8 L227.3 574.4 L228.3 573.9 L229.3 573.6 L230.3 572.1 L231.3 574.4 L232.3 572.8 L233.3 574.1 L234.3 576.3 L235.3 577.5 L236.3 580.1 L237.3 575.7 L238.3 576.5 L239.3 575.2 L240.3 579.7 L241.3 579.8 L242.3 579.0 L243.3 581.5 L244.3 579.3 L245.3 581.6 L246.4 584.4 L247.4 583.9 L248.4 585.8 L249.4 581.8 L250.4 582.5 L251.4 579.6 L252.4 578.7 L253.4 578.2 L254.4 579.2 L255.4 581.0 L256.4 580.4 L257.4 581.5 L258.4 580.8 L259.4 580.4 L260.4 577.9 L261.4 579.2 L262.4 578.0 L263.4 576.9 L264.4 576.1 L265.4 575.1 L266.4 574.7 L267.4 574.4 L268.4 574.5 L269.4 576.1 L270.4 575.1 L271.4 573.1 L272.4 574.8 L273.4 579.2 L274.4 580.5 L275.4 579.6 L276.4 580.8 L277.4 576.5 L278.4 577.0 L279.4 574.5 L280.4 577.2 L281.4 574.3 L282.4 574.9 L283.4 576.8 L284.4 578.0 L285.4 580.5 L286.4 577.7 L287.4 578.7 L288.4 576.6 L289.4 578.3 L290.4 579.0 L291.4 577.4 L292.5 574.6 L293.5 572.9 L294.5 574.1 L295.5 572.8 L296.5 574.0 L297.5 574.8 L298.5 578.4 L299.5 579.4 L300.5 580.2 L301.5 577.1 L302.5 577.3 L303.5 575.3 L304.5 577.9 L305.5 578.2 L306.5 578.1 L307.5 579.9 L308.5 577.3 L309.5 580.9 L310.5 579.3 L311.5 579.3 L312.5 579.0 L313.5 577.7 L314.5 577.8 L315.5 579.6 L316.5 579.0 L317.5 581.3 L318.5 582.7 L319.5 585.5 L320.5 584.6 L321.5 580.1 L322.5 582.0 L323.5 579.4 L324.5 578.9 L325.5 578.7 L326.5 578.9 L327.5 580.5 L328.5 582.7 L329.5 578.9 L330.5 577.0 L331.5 577.9 L332.5 577.9 L333.5 579.7 L334.5 578.4 L335.5 581.5 L336.5 583.6 L337.5 586.4 L338.6 586.4 L339.6 583.9 L340.6 583.4 L341.6 581.2 L342.6 581.2 L343.6 578.7 L344.6 580.7 L345.6 580.0 L346.6 580.9 L347.6 578.6 L348.6 575.0 L349.6 574.9 L350.6 574.3 L351.6 576.1 L352.6 576.7 L353.6 578.2 L354.6 581.4 L355.6 579.2 L356.6 579.8 L357.6 576.5 L358.6 577.2 L359.6 577.3 L360.6 576.7 L361.6 579.0 L362.6 576.7 L363.6 579.5 L364.6 577.3 L365.6 581.2 L366.6 580.0 L367.6 581.1 L368.6 582.5 L369.6 580.0 L370.6 581.4 L371.6 579.5 L372.6 580.0 L373.6 580.4 L374.6 580.8 L375.6 582.0 L376.6 581.1 L377.6 580.7 L378.6 577.7 L379.6 578.2 L380.6 576.7 L381.6 578.3 L382.6 575.8 L383.6 579.6 L384.6 579.7 L385.7 578.5 L386.7 577.8 L387.7 575.8 L388.7 577.3 L389.7 578.1 L390.7 580.3 L391.7 581.7 L392.7 581.0 L393.7 581.0 L394.7 580.1 L395.7 576.5 L396.7 577.4 L397.7 578.4 L398.7 577.0 L399.7 576.9 L400.7 578.3 L401.7 579.2 L402.7 578.4 L403.7 574.4 L404.7 576.9 L405.7 576.9 L406.7 578.7 L407.7 580.3 L408.7 580.4 L409.7 578.6 L410.7 577.1 L411.7 577.8 L412.7 577.5 L413.7 582.2 L414.7 579.1 L415.7 582.6 L416.7 582.3 L417.7 582.4 L418.7 580.9 L419.7 581.2 L420.7 580.8 L421.7 579.9 L422.7 579.8 L423.7 580.4 L424.7 580.8 L425.7 583.6 L426.7 585.6 L427.7 584.8 L428.7 586.2 L429.7 584.6 L430.7 582.8 L431.7 583.2 L432.8 583.1 L433.8 580.4 L434.8 577.4 L435.8 579.6 L436.8 578.9 L437.8 576.0 L438.8 577.7 L439.8 579.6 L440.8 577.0 L441.8 581.5 L442.8 581.5 L443.8 581.6 L444.8 582.7 L445.8 580.0 L446.8 583.0 L447.8 584.9 L448.8 579.1 L449.8 581.2 L450.8 582.3 L451.8 580.1 L452.8 578.3 L453.8 580.5 L454.8 579.7 L455.8 578.2 L456.8 579.2 L457.8 579.7 L458.8 579.1 L459.8 577.4 L460.8 574.2 L461.8 574.7 L462.8 572.0 L463.8 574.0 L464.8 576.7 L465.8 579.0 L466.8 580.3 L467.8 581.9 L468.8 580.2 L469.8 581.0 L470.8 580.7 L471.8 580.9 L472.8 580.4 L473.8 583.2 L474.8 580.7 L475.8 577.0 L476.8 576.8 L477.8 576.9 L478.9 577.7 L479.9 579.1 L480.9 578.5 L481.9 583.3 L482.9 582.6 L483.9 582.1 L484.9 580.9 L485.9 581.0 L486.9 579.8 L487.9 578.0 L488.9 581.3 L489.9 582.4 L490.9 582.1 L491.9 582.5 L492.9 588.0 L493.9 585.6 L494.9 585.8 L495.9 583.7 L496.9 585.3 L497.9 580.6 L498.9 583.5 L499.9 578.6 L500.9 582.2 L501.9 579.5 L502.9 576.6 L503.9 579.3 L504.9 579.3 L505.9 577.7 L506.9 580.6 L507.9 580.8 L508.9 582.5 L509.9 581.0 L510.9 582.2 L511.9 581.8 L512.9 582.9 L513.9 581.9 L514.9 580.9 L515.9 583.5 L516.9 580.7 L517.9 582.7 L518.9 582.3 L519.9 580.3 L520.9 578.8 L521.9 581.3 L522.9 581.4 L523.9 581.3 L525.0 579.5 L526.0 578.9 L527.0 577.4 L528.0 577.6 L529.0 583.2 L530.0 581.4 L531.0 579.2 L532.0 582.2 L533.0 582.9 L534.0 579.5 L535.0 579.8 L536.0 578.8 L537.0 578.4 L538.0 577.4 L539.0 575.1 L540.0 576.0 L541.0 576.8 L542.0 578.5 L543.0 580.2 L544.0 579.4 L545.0 582.3 L546.0 582.9 L547.0 582.1" fill="none" stroke="#f00" stroke-width="6.5" stroke-linejoin="round" stroke-linecap="round"/>
</g>
<g clip-path="url(#c4)">
<path d="M746.0 465.3 L747.1 462.9 L748.2 463.0 L749.4 462.3 L750.5 461.5 L751.6 463.1 L752.7 465.4 L753.8 466.1 L755.0 464.6 L756.1 465.8 L757.2 467.0 L758.3 467.7 L759.4 467.0 L760.5 467.9 L761.3 468.1 L762.0 466.9 L762.7 471.2 L763.4 471.7 L764.2 472.9 L764.9 473.3 L765.6 473.6 L766.3 473.0 L767.1 476.5 L767.8 476.4 L768.5 479.8 L769.2 481.2 L770.0 478.6 L770.7 481.7 L771.4 482.0 L772.1 483.7 L772.8 484.4 L773.4 485.1 L774.1 487.0 L774.8 487.5 L775.4 489.6 L776.1 489.5 L776.7 488.9 L777.4 490.9 L778.1 492.1 L778.7 492.5 L779.4 493.3 L780.1 495.9 L780.7 496.4 L781.4 499.7 L782.1 496.8 L782.7 499.5 L783.2 499.0 L783.8 502.6 L784.3 504.0 L784.9 499.5 L785.4 504.0 L786.0 506.8 L786.5 507.9 L787.1 508.3 L787.6 509.5 L788.1 509.8 L788.7 511.0 L789.2 511.9 L789.8 511.4 L790.4 514.7 L791.0 515.9 L791.6 515.5 L792.3 516.7 L792.9 518.6 L793.5 520.0 L794.2 520.4 L794.8 521.0 L795.4 522.8 L796.1 523.5 L796.7 523.5 L797.3 522.1 L798.0 526.2 L798.6 527.9 L799.2 527.4 L799.9 528.6 L800.5 530.2 L801.1 531.9 L801.8 534.8 L802.4 533.9 L803.0 535.7 L803.7 536.7 L804.3 538.2 L804.9 539.5 L805.6 539.4 L806.2 539.0 L806.8 540.6 L807.5 543.4 L808.1 545.1 L808.7 548.0 L809.4 547.3 L810.0 546.8 L810.6 546.3 L811.3 548.0 L811.9 549.4 L812.5 551.0 L813.2 551.8 L813.8 551.5 L814.1 554.1 L814.3 554.1 L814.6 556.6 L814.8 557.5 L815.0 558.7 L815.3 559.6 L815.5 559.9 L815.7 561.4 L816.1 563.4 L816.5 563.3 L816.9 563.5 L817.2 563.6 L817.6 566.8 L818.0 567.5 L818.4 569.3 L818.8 572.4 L819.2 573.7 L819.5 572.6 L819.9 574.8 L820.3 574.4 L820.7 575.2 L821.1 577.5 L821.4 579.3 L821.8 579.1 L822.2 581.3 L822.6 582.2 L823.0 583.4 L823.3 582.7 L823.7 585.3 L824.1 586.4 L824.5 587.8 L824.9 588.3 L825.2 589.6 L825.6 589.2 L826.0 592.2 L826.4 594.7 L826.8 594.9 L827.1 595.9 L827.5 597.4 L827.9 599.2 L828.3 601.1 L828.7 598.8 L829.1 600.2 L829.4 601.8 L829.8 604.4 L830.2 605.5 L830.6 605.3 L831.0 606.2 L831.3 609.1 L831.7 610.4 L832.1 610.1 L832.5 612.3 L832.9 613.2 L833.3 613.5 L833.6 614.8 L834.0 615.3 L834.4 615.6 L834.8 617.0 L835.2 617.1 L835.5 621.1 L835.9 622.5 L836.3 623.8 L836.8 623.6 L837.4 624.9 L838.0 624.8 L838.6 626.4 L839.3 629.1 L839.9 629.6 L840.5 632.2 L841.1 632.2 L841.7 632.0 L842.3 632.6 L843.0 632.7 L843.6 636.6 L844.2 636.3 L844.8 641.3 L845.4 641.0 L846.0 640.1 L846.6 639.6 L847.2 640.0 L847.7 643.3 L848.2 643.7 L848.7 643.8 L849.2 646.8 L849.7 648.1 L850.2 647.6 L850.7 648.9 L851.2 649.4 L851.7 652.3 L852.2 651.9 L852.7 652.5 L853.2 652.9 L853.7 654.6 L854.2 655.5 L854.7 659.1 L855.2 659.9 L855.7 659.2 L856.2 660.5 L856.8 662.4 L857.3 663.6 L857.9 663.7 L858.4 667.0 L858.9 667.9 L859.5 669.5 L860.0 666.5 L860.5 668.4 L861.1 671.7 L861.6 672.5 L862.1 672.9 L862.7 673.4 L863.2 675.7 L863.7 675.7 L864.3 679.0 L864.8 680.0 L865.4 680.5 L865.9 679.3 L866.3 682.3 L866.7 685.0 L867.2 686.3 L867.6 686.9 L868.0 687.6 L868.4 687.2 L868.9 690.2 L869.3 691.8 L869.7 691.4 L870.2 692.6 L870.6 693.2 L871.3 694.1 L872.5 693.8 L873.7 694.4 L874.9 693.7 L876.1 692.5 L877.3 693.3 L878.5 694.3 L879.7 694.4 L879.1 695.7 L877.9 695.6 L876.7 696.0 L876.8 694.9 L878.0 695.4 L879.2 693.8 L880.4 693.6 L881.6 694.8 L882.8 694.2 L884.0 693.4 L885.2 695.0 L886.4 695.6 L887.6 695.0 L888.8 695.4 L890.0 695.1 L891.2 694.9 L892.4 692.8 L893.6 692.1 L894.8 692.6 L896.0 690.9 L897.2 692.9 L898.4 693.1 L899.7 693.9 L900.9 693.3 L902.1 693.8 L903.3 693.1 L904.5 693.8 L905.7 695.2 L906.9 694.1 L908.1 692.4 L909.3 695.2 L910.5 694.9 L911.7 694.0 L912.9 693.6 L914.1 694.2 L915.3 693.8 L916.5 694.8 L917.7 693.7 L918.9 693.4 L920.1 694.3 L921.3 691.8 L922.5 694.2 L923.7 692.9 L924.9 693.4 L926.1 694.4 L927.3 693.5 L928.5 694.8 L929.7 692.5 L930.9 693.9 L932.1 692.3 L933.3 694.3 L934.5 693.9 L935.8 692.2 L937.0 694.0 L938.2 694.2 L939.4 693.2 L940.6 692.7 L941.8 692.5 L943.0 693.8 L944.2 694.0 L945.4 694.0 L946.6 695.8 L947.8 694.2 L949.0 693.9 L950.2 692.6 L951.4 694.2 L952.6 693.0 L953.8 693.5 L955.0 695.7 L956.2 693.7 L957.4 694.0 L958.6 694.0 L959.8 693.2 L961.0 691.4 L962.2 694.1 L963.4 692.2 L964.6 694.7 L965.8 693.0 L967.0 693.7 L968.2 695.9 L969.4 693.4 L970.6 693.5 L971.8 692.8 L973.1 693.7 L974.3 694.5 L975.5 695.1 L976.7 691.8 L977.9 693.7 L979.1 694.6 L980.3 694.8 L981.5 693.4 L982.7 694.2 L983.9 695.8 L985.1 694.8 L986.3 695.8 L987.5 693.0 L988.7 693.2 L989.9 693.8 L991.1 693.1 L992.3 694.3 L993.5 693.1 L994.7 694.0 L995.9 692.5 L997.1 693.0 L998.3 694.2 L999.5 694.4 L1000.7 693.0 L1001.9 692.5 L1003.1 694.2 L1004.3 693.2 L1005.5 694.4 L1006.7 695.3 L1007.9 694.5 L1009.2 692.8 L1010.4 695.1 L1011.6 695.1 L1012.8 693.5 L1014.0 693.7 L1015.2 695.3 L1016.4 694.5 L1017.6 694.6 L1018.8 695.1 L1020.0 695.0 L1021.2 696.8 L1022.4 695.6 L1023.6 694.3 L1024.8 694.1 L1026.0 693.9 L1027.2 694.9 L1028.4 693.2 L1029.6 694.6 L1030.8 693.3 L1032.0 693.3 L1033.2 694.7 L1034.4 694.6 L1035.6 694.3 L1036.8 693.8 L1038.0 693.9 L1039.2 693.6 L1040.4 694.0 L1041.6 695.4 L1042.8 694.1 L1044.0 694.1 L1045.2 694.4 L1046.5 695.3 L1047.7 694.3 L1048.9 693.6 L1050.1 693.8 L1051.3 694.2 L1052.5 697.0 L1053.7 693.8 L1054.9 695.2 L1056.1 694.7 L1057.3 695.8 L1058.5 693.4 L1059.7 694.7 L1060.9 694.1 L1062.1 693.7 L1063.3 693.3 L1064.5 693.3 L1065.7 693.5 L1066.9 694.1 L1068.1 694.2 L1069.3 695.9 L1070.5 694.8 L1071.7 694.3 L1072.9 695.8 L1074.1 693.2 L1075.3 693.2 L1076.5 694.1 L1077.7 692.9 L1078.9 695.5 L1080.1 695.5 L1081.3 693.0 L1082.6 696.7 L1083.8 695.4 L1085.0 695.3 L1086.2 695.0 L1087.4 695.5 L1088.6 693.4 L1089.8 693.6 L1091.0 694.6 L1092.2 694.0 L1093.4 692.4 L1094.6 694.7 L1095.8 695.1 L1097.0 694.0 L1098.2 694.5 L1099.4 694.7 L1100.6 692.1 L1101.8 693.2 L1103.0 693.2 L1104.2 692.6 L1105.4 692.7 L1106.6 692.7 L1107.8 694.3 L1109.0 695.6 L1110.2 694.1 L1111.4 695.5 L1112.6 695.3 L1113.8 695.3 L1115.0 695.3 L1116.2 694.0 L1117.4 694.8 L1118.6 692.7 L1119.9 693.2 L1121.1 694.3 L1122.3 694.6 L1123.5 692.6 L1124.7 692.2 L1125.9 694.2 L1127.1 694.5 L1128.3 694.7 L1129.5 693.9 L1130.7 693.0 L1131.9 695.0 L1133.1 694.9 L1134.3 694.0 L1135.5 696.1 L1136.7 694.7 L1137.9 695.5 L1139.1 693.8 L1140.3 691.2 L1141.5 691.6 L1142.7 691.3 L1143.9 693.6 L1145.1 694.9 L1146.3 695.4 L1147.5 694.5 L1148.7 694.0 L1149.9 694.9 L1151.1 694.4 L1152.3 693.3 L1153.5 694.5 L1154.7 694.2 L1156.0 695.1 L1157.2 695.9 L1158.4 694.3 L1159.6 695.5 L1160.8 694.3 L1162.0 694.6 L1163.2 694.2 L1164.4 693.5 L1165.6 694.0 L1166.8 693.7 L1168.0 694.4 L1169.2 693.0 L1170.4 696.4 L1171.6 694.8 L1172.8 694.7 L1174.0 694.7 L1174.0 704.6 L1172.8 704.2 L1171.6 703.1 L1170.4 704.5 L1169.2 704.0 L1168.0 703.5 L1166.8 703.9 L1165.6 704.2 L1164.4 703.7 L1163.2 702.8 L1162.0 704.8 L1160.8 703.8 L1159.5 702.6 L1158.3 703.8 L1157.1 702.3 L1155.9 703.4 L1154.7 704.0 L1153.5 703.8 L1152.3 703.4 L1151.1 703.8 L1149.9 703.7 L1148.7 703.5 L1147.5 706.5 L1146.3 708.4 L1145.1 704.4 L1143.9 703.4 L1142.7 704.6 L1141.5 703.9 L1140.3 704.6 L1139.1 702.6 L1137.9 705.2 L1136.7 705.0 L1135.5 703.2 L1134.3 701.4 L1133.1 699.3 L1131.9 702.8 L1130.6 703.3 L1129.4 704.0 L1128.2 705.1 L1127.0 706.4 L1125.8 706.0 L1124.6 703.9 L1123.4 703.0 L1122.2 703.5 L1121.0 705.4 L1119.8 705.9 L1118.6 704.3 L1117.4 703.5 L1116.2 702.6 L1115.0 703.5 L1113.8 704.1 L1112.6 703.8 L1111.4 705.4 L1110.2 704.1 L1109.0 703.9 L1107.8 703.0 L1106.6 702.4 L1105.4 704.1 L1104.2 702.0 L1102.9 704.8 L1101.7 703.4 L1100.5 705.5 L1099.3 704.9 L1098.1 704.6 L1096.9 705.5 L1095.7 703.3 L1094.5 703.8 L1093.3 704.1 L1092.1 703.1 L1090.9 702.5 L1089.7 702.9 L1088.5 703.6 L1087.3 703.4 L1086.1 703.4 L1084.9 704.2 L1083.7 702.7 L1082.5 702.9 L1081.3 702.3 L1080.1 700.1 L1078.9 703.6 L1077.7 704.0 L1076.5 705.7 L1075.2 702.9 L1074.0 703.5 L1072.8 703.4 L1071.6 703.3 L1070.4 702.6 L1069.2 704.8 L1068.0 703.6 L1066.8 704.1 L1065.6 703.3 L1064.4 705.1 L1063.2 704.3 L1062.0 704.1 L1060.8 704.9 L1059.6 703.5 L1058.4 702.3 L1057.2 703.3 L1056.0 703.9 L1054.8 705.2 L1053.6 705.0 L1052.4 704.7 L1051.2 704.7 L1050.0 704.7 L1048.8 703.5 L1047.6 705.2 L1046.3 704.2 L1045.1 705.4 L1043.9 704.1 L1042.7 704.0 L1041.5 704.5 L1040.3 704.1 L1039.1 703.8 L1037.9 705.2 L1036.7 704.9 L1035.5 705.7 L1034.3 704.2 L1033.1 706.4 L1031.9 703.6 L1030.7 702.4 L1029.5 705.4 L1028.3 705.8 L1027.1 704.1 L1025.9 703.5 L1024.7 703.5 L1023.5 706.9 L1022.3 704.2 L1021.1 702.8 L1019.9 703.5 L1018.6 703.2 L1017.4 702.0 L1016.2 703.1 L1015.0 704.0 L1013.8 704.7 L1012.6 705.0 L1011.4 703.0 L1010.2 704.0 L1009.0 703.9 L1007.8 703.1 L1006.6 701.7 L1005.4 704.1 L1004.2 705.9 L1003.0 702.7 L1001.8 703.4 L1000.6 704.4 L999.4 704.8 L998.2 703.0 L997.0 703.6 L995.8 703.4 L994.6 704.5 L993.4 705.6 L992.2 702.9 L991.0 703.2 L989.7 704.3 L988.5 705.7 L987.3 705.2 L986.1 704.3 L984.9 704.7 L983.7 703.9 L982.5 705.0 L981.3 705.2 L980.1 703.4 L978.9 703.5 L977.7 703.4 L976.5 703.4 L975.3 704.6 L974.1 705.3 L972.9 704.5 L971.7 700.0 L970.5 704.5 L969.3 704.1 L968.1 706.4 L966.9 705.5 L965.7 702.7 L964.5 704.6 L963.3 706.4 L962.0 705.4 L960.8 703.3 L959.6 703.6 L958.4 703.0 L957.2 702.1 L956.0 702.7 L954.8 701.8 L953.6 703.2 L952.4 704.0 L951.2 702.8 L950.0 702.5 L948.8 701.9 L947.6 699.5 L946.4 704.8 L945.2 704.2 L944.0 704.2 L942.8 703.3 L941.6 706.2 L940.4 704.8 L939.2 703.9 L938.0 703.6 L936.8 703.6 L935.6 702.2 L934.3 701.8 L933.1 701.2 L931.9 704.2 L930.7 704.1 L929.5 702.2 L928.3 704.9 L927.1 703.2 L925.9 704.1 L924.7 703.7 L923.5 704.9 L922.3 704.0 L921.1 704.8 L919.9 703.7 L918.7 703.0 L917.5 703.8 L916.3 702.8 L915.1 703.3 L913.9 704.3 L912.7 703.5 L911.5 705.1 L910.3 703.4 L909.1 703.9 L907.9 705.6 L906.7 706.0 L905.4 706.4 L904.2 705.8 L903.0 705.8 L901.8 704.1 L900.6 703.4 L899.4 698.9 L898.2 704.5 L897.0 703.8 L895.8 705.7 L894.6 703.0 L893.4 703.3 L892.2 703.5 L891.0 704.1 L889.8 703.2 L888.6 702.4 L887.4 705.0 L886.2 704.2 L885.0 704.4 L883.8 703.5 L882.6 703.8 L881.4 703.0 L880.2 704.0 L879.0 705.6 L877.8 705.8 L876.6 703.4 L876.8 705.5 L877.7 706.8 L878.6 706.2 L879.6 706.8 L879.4 707.0 L878.2 707.6 L877.0 708.4 L875.8 707.0 L874.6 707.1 L873.4 707.6 L872.2 707.0 L871.0 706.3 L869.7 708.0 L868.5 707.5 L867.3 709.0 L866.1 710.0 L864.9 707.7 L863.8 704.7 L862.7 707.2 L861.6 705.5 L860.5 705.7 L859.4 704.4 L858.4 704.0 L857.3 701.8 L856.2 702.8 L855.1 703.4 L854.0 703.9 L853.2 701.3 L852.6 701.8 L851.9 697.9 L851.3 699.0 L850.6 698.8 L850.0 697.4 L849.3 697.8 L848.7 694.3 L848.0 694.0 L847.4 693.6 L846.7 689.1 L846.1 690.6 L845.4 690.1 L844.8 688.5 L844.1 686.5 L843.5 686.2 L842.8 685.7 L842.2 684.2 L841.5 684.0 L840.9 682.2 L840.3 681.1 L839.7 680.0 L839.1 679.8 L838.5 678.9 L837.9 678.1 L837.3 676.0 L836.7 676.2 L836.1 675.6 L835.5 674.2 L834.9 670.9 L834.3 670.7 L833.7 670.6 L833.1 669.5 L832.5 669.0 L831.9 667.4 L831.3 666.9 L830.7 665.1 L830.0 664.0 L829.5 663.0 L828.9 661.1 L828.3 659.6 L827.7 659.9 L827.2 659.2 L826.6 658.4 L826.0 656.7 L825.5 657.1 L824.9 654.3 L824.3 650.7 L823.8 650.4 L823.2 650.6 L822.6 651.1 L822.1 649.9 L821.5 647.1 L820.9 648.1 L820.4 646.3 L819.8 643.3 L819.2 644.7 L818.7 643.1 L818.1 641.7 L817.5 639.9 L817.0 639.5 L816.4 636.5 L815.8 638.6 L815.4 638.3 L814.9 633.6 L814.4 635.0 L814.0 632.8 L813.5 632.0 L813.0 630.4 L812.6 631.1 L812.1 629.9 L811.7 627.9 L811.2 626.7 L810.7 626.5 L810.3 623.4 L809.8 622.9 L809.3 621.3 L808.9 622.7 L808.4 619.7 L808.0 621.2 L807.5 618.0 L807.0 615.8 L806.4 614.6 L805.8 614.7 L805.2 613.1 L804.5 611.9 L803.9 609.5 L803.3 609.9 L802.7 608.9 L802.1 608.2 L801.5 607.3 L800.9 605.1 L800.3 603.8 L799.7 603.0 L799.1 604.0 L798.5 602.3 L797.8 598.6 L797.2 598.4 L796.6 597.9 L796.0 597.5 L795.4 597.1 L794.8 597.2 L794.2 595.1 L793.6 593.3 L793.0 591.8 L792.4 593.1 L791.7 589.3 L791.1 587.6 L790.5 587.6 L790.0 587.8 L789.6 585.9 L789.3 585.3 L789.0 581.9 L788.6 581.6 L788.3 581.6 L788.0 580.2 L787.7 580.4 L787.3 578.5 L787.0 577.5 L786.7 575.6 L786.4 573.1 L786.0 572.5 L785.7 572.1 L785.4 571.9 L785.0 570.2 L784.7 568.7 L784.4 568.2 L784.1 565.7 L783.7 564.2 L783.4 566.6 L783.1 563.1 L782.7 561.4 L782.4 559.6 L782.1 558.9 L781.8 559.0 L781.4 557.0 L781.1 557.4 L780.8 555.4 L780.5 555.4 L780.1 552.1 L779.8 551.4 L779.5 548.9 L779.1 547.8 L778.7 547.5 L778.1 546.7 L777.6 545.5 L777.1 544.7 L776.5 542.7 L776.0 543.7 L775.4 539.9 L774.9 539.6 L774.4 540.8 L773.8 538.9 L773.3 538.6 L772.8 535.6 L772.4 534.9 L771.9 534.1 L771.5 533.1 L771.1 532.4 L770.6 533.1 L770.2 530.1 L769.7 527.5 L769.3 525.8 L768.8 524.2 L768.4 525.7 L767.9 525.7 L767.5 523.6 L767.0 521.3 L766.6 521.8 L766.1 518.7 L765.7 518.1 L765.2 518.6 L764.8 516.8 L764.3 515.3 L763.9 512.7 L763.5 511.7 L763.0 510.6 L762.6 510.9 L761.9 508.4 L761.3 508.1 L760.6 507.2 L759.9 505.0 L759.2 506.5 L758.5 504.3 L757.8 502.2 L757.1 502.8 L756.4 500.4 L755.7 501.5 L755.0 500.1 L754.3 497.2 L753.6 496.3 L753.1 496.9 L752.8 495.9 L752.5 494.0 L752.3 492.9 L752.0 491.9 L751.7 490.0 L751.4 487.5 L751.2 488.3 L750.9 487.1 L750.6 487.8 L750.4 484.4 L750.1 482.6 L749.8 481.2 L749.5 481.8 L749.3 480.7 L749.0 480.6 L748.7 478.4 L748.5 475.5 L748.2 475.1 L747.9 472.0 L747.6 472.6 L747.4 472.8 L747.1 470.3 L746.8 470.0 L746.5 469.5 L746.3 467.6 L746.0 467.6 Z" fill="#000" fill-opacity="0.2" stroke="#000" stroke-opacity="0.24" stroke-width="3" stroke-linejoin="round"/>
<path d="M746.0 460.6 L746.5 462.8 L747.1 464.0 L747.6 464.6 L748.1 465.9 L748.3 468.2 L748.6 468.9 L748.8 470.5 L749.0 470.9 L749.3 472.1 L749.5 473.1 L749.8 475.9 L750.0 477.4 L750.3 477.2 L750.5 478.8 L750.8 477.9 L751.0 479.2 L751.2 482.0 L751.5 481.7 L751.8 486.5 L752.1 486.7 L752.4 488.1 L752.7 487.5 L753.1 487.3 L753.4 489.3 L753.7 490.2 L754.0 492.7 L754.3 492.4 L754.6 493.8 L754.9 496.9 L755.2 495.8 L755.5 497.4 L755.8 500.7 L756.1 502.6 L756.4 500.0 L756.7 500.1 L757.1 502.9 L757.4 505.1 L757.7 506.1 L758.0 506.6 L758.3 507.3 L758.6 510.2 L758.9 510.3 L759.3 511.3 L759.6 513.2 L759.9 515.6 L760.3 516.1 L760.6 519.0 L761.0 517.8 L761.3 519.1 L761.7 519.7 L762.0 520.3 L762.3 522.2 L762.7 522.7 L763.0 523.8 L763.4 525.1 L763.7 525.9 L764.0 527.5 L764.4 529.3 L764.7 530.7 L765.1 530.6 L765.4 532.3 L765.7 533.2 L766.1 536.0 L766.4 538.0 L766.8 537.8 L767.1 538.9 L767.4 538.0 L767.8 541.2 L768.1 541.7 L768.3 542.1 L768.5 545.7 L768.8 547.9 L769.0 547.6 L769.2 548.1 L769.5 549.8 L769.7 551.9 L770.0 551.3 L770.2 553.3 L770.4 553.8 L770.7 552.9 L770.9 554.9 L771.1 557.9 L771.4 558.9 L771.6 559.4 L772.3 557.5 L773.0 557.7 L773.7 556.9 L774.4 556.4 L775.1 556.4 L775.8 554.1 L776.5 553.8 L777.4 552.9 L778.5 555.1 L779.7 553.9 L780.9 555.4 L782.1 552.5 L783.2 552.3 L784.4 554.1 L785.6 554.2 L786.8 555.6 L787.9 555.6 L789.1 553.9 L790.2 554.6 L791.2 555.9 L792.3 557.3 L793.3 556.8 L794.3 562.8 L795.3 559.9 L796.3 559.4 L797.3 557.2 L798.3 561.8 L799.3 561.6 L800.3 560.6 L801.3 562.5 L802.3 563.3 L803.3 564.5 L804.3 566.9 L805.3 566.6 L806.4 566.0 L807.4 566.0 L808.4 567.9 L809.4 568.2 L810.4 569.7 L811.4 569.7 L812.5 570.6 L813.5 569.7 L814.5 570.7 L815.5 571.5 L816.6 571.5 L817.6 573.1 L818.6 573.1 L819.5 573.8 L820.2 574.5 L820.8 575.9 L821.5 575.8 L822.2 578.9 L822.8 582.4 L823.5 581.0 L824.2 582.5 L824.8 582.6 L825.5 583.2 L826.2 585.4 L826.8 585.1 L827.5 586.1 L828.2 585.2 L828.9 587.5 L829.5 589.2 L830.2 590.9 L830.9 592.0 L831.5 593.2 L832.2 593.7 L832.9 593.7 L833.4 595.3 L834.0 595.6 L834.5 597.0 L835.0 598.3 L835.6 597.5 L836.1 599.0 L836.6 601.9 L837.2 602.3 L837.7 604.5 L838.3 604.5 L838.8 605.1 L839.3 607.5 L839.9 608.1 L840.4 609.5 L841.0 609.7 L841.5 610.5 L842.0 612.0 L842.6 612.8 L843.1 614.3 L843.6 614.8 L844.2 617.1 L844.7 618.7 L845.3 619.3 L845.8 619.1 L846.3 621.9 L846.9 620.7 L847.4 623.2 L848.0 624.6 L848.5 625.2 L849.0 625.9 L849.6 627.2 L850.1 629.0 L850.6 629.2 L851.2 630.0 L851.7 631.4 L852.3 631.8 L852.8 631.6 L853.3 635.8 L853.9 635.7 L854.4 637.9 L855.0 638.4 L855.5 638.3 L856.0 641.1 L856.6 640.9 L857.1 641.2 L857.6 643.9 L858.2 644.9 L858.7 645.4 L859.1 647.1 L859.4 649.8 L859.8 648.2 L860.1 650.5 L860.5 651.5 L860.8 652.0 L861.2 653.5 L861.5 653.4 L861.9 657.1 L862.2 656.8 L862.6 656.3 L862.9 658.2 L863.3 659.1 L863.6 659.7 L864.0 662.1 L864.3 663.9 L864.7 663.7 L865.0 666.7 L865.4 667.2 L865.7 668.7 L866.1 670.3 L866.4 672.3 L866.7 673.5 L867.1 671.7 L867.4 673.0 L867.8 675.9 L868.1 678.7 L868.5 678.0 L868.8 680.2 L869.2 680.0 L869.4 681.0 L869.6 682.7 L869.8 685.2 L870.0 684.9 L870.2 686.4 L870.4 688.0 L870.6 689.7 L870.8 690.2 L871.1 692.1 L872.3 693.0 L873.5 692.2 L874.7 691.2 L875.9 691.4 L877.1 691.3 L878.3 691.5 L879.5 690.0 L880.3 691.5 L881.4 691.9 L882.6 691.3 L883.8 695.4 L885.0 693.9 L886.2 692.3 L887.4 692.3 L888.6 693.8 L889.8 691.6 L891.0 691.9 L892.3 693.8 L893.5 693.1 L894.7 693.7 L895.9 693.2 L897.1 692.9 L898.3 692.5 L899.5 694.3 L900.7 691.5 L901.9 693.2 L903.1 692.8 L904.3 694.1 L905.5 693.3 L906.7 693.5 L907.9 691.8 L909.1 691.4 L910.3 693.4 L911.5 692.4 L912.7 692.2 L913.9 693.5 L915.1 694.3 L916.3 692.9 L917.5 692.8 L918.7 693.5 L919.9 693.6 L921.1 693.0 L922.4 691.2 L923.6 693.5 L924.8 692.7 L926.0 694.9 L927.2 692.7 L928.4 693.2 L929.6 693.1 L930.8 692.3 L932.0 695.4 L933.2 693.3 L934.4 694.0 L935.6 693.2 L936.8 692.9 L938.0 693.8 L939.2 693.5 L940.4 692.9 L941.6 692.2 L942.8 693.8 L944.0 696.4 L945.2 693.5 L946.4 693.6 L947.6 693.3 L948.8 696.1 L950.0 692.2 L951.2 692.2 L952.5 691.4 L953.7 693.6 L954.9 693.4 L956.1 693.6 L957.3 693.4 L958.5 694.8 L959.7 694.8 L960.9 692.3 L962.1 690.7 L963.3 692.0 L964.5 693.3 L965.7 696.2 L966.9 690.9 L968.1 694.4 L969.3 693.9 L970.5 694.6 L971.7 692.2 L972.9 692.2 L974.1 692.0 L975.3 692.4 L976.5 692.1 L977.7 691.6 L978.9 694.3 L980.1 693.8 L981.4 691.9 L982.6 688.8 L983.8 693.7 L985.0 693.4 L986.2 691.7 L987.4 691.8 L988.6 692.4 L989.8 693.6 L991.0 694.1 L992.2 693.5 L993.4 691.2 L994.6 694.4 L995.8 689.7 L997.0 694.4 L998.2 695.4 L999.4 692.4 L1000.6 692.2 L1001.8 692.3 L1003.0 692.6 L1004.2 693.8 L1005.4 693.4 L1006.6 693.0 L1007.8 694.2 L1009.0 693.2 L1010.2 692.6 L1011.5 692.4 L1012.7 691.9 L1013.9 692.7 L1015.1 692.4 L1016.3 693.1 L1017.5 693.6 L1018.7 695.5 L1019.9 693.1 L1021.1 694.8 L1022.3 692.5 L1023.5 693.8 L1024.7 693.4 L1025.9 693.4 L1027.1 692.5 L1028.3 692.4 L1029.5 693.5 L1030.7 691.7 L1031.9 693.0 L1033.1 691.6 L1034.3 691.3 L1035.5 690.5 L1036.7 693.0 L1037.9 694.8 L1039.1 691.9 L1040.3 693.2 L1041.6 693.4 L1042.8 693.4 L1044.0 692.6 L1045.2 691.8 L1046.4 693.8 L1047.6 694.1 L1048.8 693.8 L1050.0 693.7 L1051.2 694.6 L1052.4 694.4 L1053.6 694.0 L1054.8 692.9 L1056.0 694.0 L1057.2 692.6 L1058.4 693.4 L1059.6 692.4 L1060.8 693.1 L1062.0 694.0 L1063.2 693.2 L1064.4 694.1 L1065.6 693.2 L1066.8 694.8 L1068.0 693.7 L1069.2 695.8 L1070.5 694.3 L1071.7 693.2 L1072.9 692.2 L1074.1 693.0 L1075.3 695.0 L1076.5 692.2 L1077.7 691.7 L1078.9 693.6 L1080.1 693.7 L1081.3 693.0 L1082.5 692.4 L1083.7 693.0 L1084.9 693.2 L1086.1 694.6 L1087.3 695.2 L1088.5 693.3 L1089.7 692.4 L1090.9 691.9 L1092.1 691.6 L1093.3 692.9 L1094.5 692.0 L1095.7 693.8 L1096.9 693.1 L1098.1 692.8 L1099.3 694.4 L1100.6 692.0 L1101.8 694.0 L1103.0 693.6 L1104.2 693.6 L1105.4 693.2 L1106.6 692.4 L1107.8 693.9 L1109.0 694.3 L1110.2 691.6 L1111.4 693.2 L1112.6 693.2 L1113.8 693.1 L1115.0 693.7 L1116.2 692.4 L1117.4 693.1 L1118.6 694.3 L1119.8 692.6 L1121.0 692.8 L1122.2 692.8 L1123.4 692.5 L1124.6 693.0 L1125.8 694.5 L1127.0 694.3 L1128.2 695.4 L1129.4 691.9 L1130.7 690.8 L1131.9 692.3 L1133.1 692.3 L1134.3 694.5 L1135.5 693.9 L1136.7 692.4 L1137.9 693.0 L1139.1 693.4 L1140.3 695.9 L1141.5 693.9 L1142.7 693.7 L1143.9 694.0 L1145.1 693.7 L1146.3 693.3 L1147.5 692.6 L1148.7 693.4 L1149.9 693.5 L1151.1 692.2 L1152.3 693.2 L1153.5 692.0 L1154.7 691.7 L1155.9 693.2 L1157.1 694.0 L1158.3 694.3 L1159.6 692.8 L1160.8 691.9 L1162.0 692.4 L1163.2 693.1 L1164.4 693.4 L1165.6 693.8 L1166.8 693.5 L1168.0 694.3 L1169.2 693.0 L1170.4 693.9 L1171.6 691.7 L1172.8 694.0 L1174.0 693.9 L1174.0 705.5 L1172.8 703.2 L1171.6 703.8 L1170.4 702.7 L1169.2 703.0 L1168.0 703.9 L1166.8 703.4 L1165.6 703.2 L1164.4 703.1 L1163.2 703.0 L1162.0 703.0 L1160.8 703.3 L1159.6 703.3 L1158.4 702.6 L1157.2 703.7 L1156.0 702.7 L1154.8 700.9 L1153.6 702.3 L1152.4 703.1 L1151.2 702.2 L1150.0 703.4 L1148.8 705.2 L1147.6 704.0 L1146.3 702.5 L1145.1 703.3 L1143.9 703.7 L1142.7 703.5 L1141.5 703.6 L1140.3 702.9 L1139.1 703.9 L1137.9 704.9 L1136.7 701.3 L1135.5 705.2 L1134.3 704.4 L1133.1 705.4 L1131.9 704.5 L1130.7 703.9 L1129.5 703.7 L1128.3 702.4 L1127.1 701.8 L1125.9 700.0 L1124.7 702.5 L1123.5 702.5 L1122.3 702.9 L1121.1 703.6 L1119.9 702.7 L1118.7 702.7 L1117.5 701.9 L1116.3 703.9 L1115.1 703.3 L1113.9 704.5 L1112.7 705.1 L1111.5 703.7 L1110.3 703.6 L1109.1 703.4 L1107.9 703.9 L1106.7 704.1 L1105.5 702.4 L1104.3 702.6 L1103.1 702.6 L1101.9 702.9 L1100.7 703.2 L1099.5 703.3 L1098.3 704.2 L1097.1 704.1 L1095.9 703.2 L1094.7 704.1 L1093.4 703.5 L1092.2 703.5 L1091.0 702.8 L1089.8 703.9 L1088.6 703.4 L1087.4 702.7 L1086.2 701.2 L1085.0 702.1 L1083.8 704.0 L1082.6 703.6 L1081.4 703.8 L1080.2 703.8 L1079.0 704.3 L1077.8 703.6 L1076.6 702.1 L1075.4 703.4 L1074.2 703.4 L1073.0 703.5 L1071.8 703.7 L1070.6 705.6 L1069.4 703.1 L1068.2 701.3 L1067.0 702.2 L1065.8 703.2 L1064.6 702.1 L1063.4 702.5 L1062.2 703.8 L1061.0 705.0 L1059.8 705.1 L1058.6 705.2 L1057.4 704.0 L1056.2 703.6 L1055.0 703.6 L1053.8 704.0 L1052.6 703.2 L1051.4 702.9 L1050.2 704.0 L1049.0 704.0 L1047.8 704.6 L1046.6 703.6 L1045.4 702.7 L1044.2 702.3 L1043.0 703.4 L1041.8 702.3 L1040.6 704.1 L1039.3 703.8 L1038.1 702.4 L1036.9 702.6 L1035.7 701.5 L1034.5 703.2 L1033.3 704.0 L1032.1 703.0 L1030.9 703.4 L1029.7 702.3 L1028.5 704.3 L1027.3 703.2 L1026.1 703.6 L1024.9 703.1 L1023.7 704.2 L1022.5 704.4 L1021.3 704.6 L1020.1 701.0 L1018.9 701.7 L1017.7 703.1 L1016.5 702.7 L1015.3 703.1 L1014.1 702.9 L1012.9 701.9 L1011.7 702.9 L1010.5 701.9 L1009.3 702.5 L1008.1 704.7 L1006.9 703.1 L1005.7 706.6 L1004.5 704.4 L1003.3 701.3 L1002.1 703.4 L1000.9 704.8 L999.7 704.1 L998.5 704.6 L997.3 704.1 L996.1 705.3 L994.9 703.9 L993.7 702.8 L992.5 703.1 L991.3 703.1 L990.1 701.8 L988.9 704.4 L987.7 704.2 L986.4 710.6 L985.2 704.6 L984.0 703.3 L982.8 703.0 L981.6 703.7 L980.4 703.2 L979.2 703.5 L978.0 704.0 L976.8 702.5 L975.6 703.4 L974.4 702.0 L973.2 702.8 L972.0 702.6 L970.8 703.0 L969.6 703.9 L968.4 701.1 L967.2 701.6 L966.0 701.9 L964.8 704.2 L963.6 704.8 L962.4 703.8 L961.2 705.3 L960.0 704.3 L958.8 703.3 L957.6 703.0 L956.4 703.4 L955.2 702.3 L954.0 703.3 L952.8 703.8 L951.6 703.6 L950.4 704.5 L949.2 701.3 L948.0 703.8 L946.8 703.9 L945.6 703.3 L944.4 700.1 L943.2 701.7 L942.0 704.2 L940.8 701.9 L939.6 703.4 L938.4 702.6 L937.2 702.7 L936.0 701.0 L934.8 701.4 L933.6 702.1 L932.3 703.3 L931.1 703.1 L929.9 702.6 L928.7 701.2 L927.5 702.1 L926.3 703.1 L925.1 703.0 L923.9 702.2 L922.7 702.4 L921.5 702.6 L920.3 701.9 L919.1 703.1 L917.9 703.4 L916.7 704.3 L915.5 707.5 L914.3 704.4 L913.1 703.5 L911.9 703.3 L910.7 703.7 L909.5 703.7 L908.3 704.6 L907.1 702.6 L905.9 702.8 L904.7 703.6 L903.5 703.6 L902.3 701.9 L901.1 702.1 L899.9 702.8 L898.7 702.7 L897.5 703.9 L896.3 700.8 L895.1 703.3 L893.9 706.0 L892.7 703.0 L891.5 703.2 L890.3 701.9 L889.1 701.3 L887.9 703.7 L886.7 701.8 L885.5 703.0 L884.3 703.3 L883.1 702.1 L881.9 702.5 L880.7 703.4 L880.3 703.0 L880.2 704.6 L880.1 706.5 L879.7 707.7 L878.5 705.3 L877.3 705.9 L876.1 707.2 L874.9 705.5 L873.8 706.7 L872.6 706.9 L871.4 705.9 L870.2 705.1 L869.0 705.9 L867.9 706.4 L867.0 709.1 L866.0 706.9 L865.0 708.3 L864.1 712.1 L863.1 709.9 L862.1 711.4 L861.2 712.2 L860.2 713.1 L859.3 714.0 L858.3 714.7 L857.3 712.0 L856.4 713.6 L855.4 715.1 L854.4 715.5 L853.4 716.3 L852.5 716.3 L851.5 717.7 L850.5 718.8 L849.5 726.2 L848.5 719.9 L847.5 722.1 L846.5 721.9 L845.5 722.4 L844.6 724.5 L843.6 723.3 L842.6 723.9 L841.6 725.6 L840.6 726.1 L839.6 724.7 L838.6 727.8 L837.7 728.3 L836.7 728.7 L835.7 729.7 L834.7 731.8 L833.7 731.4 L832.7 732.7 L831.7 733.2 L830.7 731.8 L829.7 730.0 L828.6 734.5 L827.6 735.6 L826.6 735.2 L825.5 736.5 L824.5 736.1 L823.5 736.3 L822.4 737.8 L821.4 740.5 L820.4 741.4 L819.3 740.4 L818.3 738.6 L817.3 740.3 L816.3 741.4 L815.2 741.9 L814.2 744.7 L813.2 743.0 L812.1 741.2 L811.1 744.7 L810.1 745.9 L809.0 749.2 L807.9 747.1 L806.9 748.1 L805.8 747.9 L804.7 748.6 L803.6 749.2 L802.5 748.3 L801.4 749.5 L800.3 750.2 L799.2 748.9 L798.1 749.8 L797.0 751.7 L795.9 753.1 L794.8 752.4 L793.7 753.7 L792.6 752.4 L791.6 753.5 L790.5 753.6 L789.4 754.6 L788.3 754.6 L787.2 756.9 L786.1 757.2 L785.0 757.3 L783.9 759.2 L782.9 757.1 L781.8 756.6 L780.8 756.3 L779.8 755.3 L778.7 755.1 L777.7 753.9 L776.7 753.7 L775.6 754.5 L774.6 750.9 L773.6 752.2 L772.5 752.1 L772.0 751.2 L771.9 748.3 L771.7 747.9 L771.5 748.5 L771.4 746.8 L771.2 743.8 L771.1 742.7 L770.9 741.8 L770.8 741.7 L770.6 739.5 L770.4 739.0 L770.3 737.8 L770.1 733.6 L770.0 733.3 L769.8 732.3 L769.6 732.6 L769.5 730.7 L769.3 729.7 L769.2 728.6 L769.0 727.9 L768.9 726.1 L768.7 725.4 L768.5 723.3 L768.4 723.7 L768.2 722.2 L768.1 720.4 L767.9 717.9 L767.8 716.8 L767.6 714.7 L767.4 712.4 L767.3 715.5 L767.1 714.0 L767.0 710.7 L766.8 714.1 L766.7 709.2 L766.5 707.9 L766.3 705.7 L766.2 706.6 L766.0 703.1 L765.9 700.0 L765.7 700.9 L765.6 700.4 L765.4 699.4 L765.2 699.2 L765.1 698.6 L764.9 695.1 L764.8 695.9 L764.6 692.8 L764.5 693.4 L764.3 692.8 L764.1 693.3 L764.0 689.3 L763.8 688.2 L763.7 688.1 L763.5 686.2 L763.4 684.1 L763.2 683.5 L763.0 682.5 L762.9 681.6 L762.8 679.6 L762.7 679.5 L762.6 677.7 L762.5 675.4 L762.4 673.3 L762.3 674.0 L762.2 675.1 L762.1 670.7 L762.0 670.5 L761.9 668.9 L761.8 669.5 L761.7 665.4 L761.6 663.3 L761.5 660.4 L761.4 662.8 L761.3 661.9 L761.2 660.5 L761.1 659.2 L761.0 656.7 L760.9 652.5 L760.8 654.5 L760.7 655.1 L760.6 654.0 L760.5 652.1 L760.4 650.4 L760.3 649.0 L760.2 649.7 L760.1 646.8 L759.9 645.3 L759.8 643.9 L759.7 645.6 L759.6 642.7 L759.5 640.9 L759.4 641.1 L759.3 641.0 L759.2 638.8 L759.1 636.9 L759.0 634.9 L758.9 635.1 L758.8 635.1 L758.7 633.2 L758.6 631.2 L758.5 628.0 L758.4 629.3 L758.3 628.0 L758.2 624.7 L758.1 621.5 L758.0 624.3 L757.9 621.1 L757.8 619.9 L757.7 621.3 L757.6 615.3 L757.5 617.4 L757.4 615.9 L757.3 615.6 L757.2 616.0 L757.1 613.7 L757.0 611.1 L756.9 610.7 L756.8 609.7 L756.7 606.5 L756.6 606.4 L756.5 607.2 L756.4 605.6 L756.3 604.0 L756.2 601.9 L756.1 600.3 L755.9 596.1 L755.8 597.7 L755.7 596.2 L755.6 594.5 L755.5 592.5 L755.3 592.5 L755.2 590.8 L755.1 590.0 L755.0 589.9 L754.9 590.5 L754.8 588.0 L754.7 584.8 L754.7 586.5 L754.6 584.8 L754.5 584.2 L754.4 583.0 L754.3 580.9 L754.3 578.3 L754.2 578.1 L754.1 577.7 L754.0 574.7 L753.9 575.0 L753.9 573.2 L753.8 570.1 L753.7 569.2 L753.6 568.1 L753.5 569.4 L753.4 566.3 L753.4 564.5 L753.3 563.6 L753.2 565.1 L753.1 563.7 L753.0 559.2 L753.0 559.9 L752.9 558.9 L752.8 559.0 L752.7 555.6 L752.6 554.3 L752.5 552.0 L752.5 551.1 L752.4 550.1 L752.3 548.9 L752.2 547.2 L752.1 548.4 L752.1 546.7 L752.0 547.3 L751.9 543.8 L751.8 543.6 L751.7 541.7 L751.7 539.4 L751.6 538.2 L751.5 538.3 L751.4 535.9 L751.3 535.9 L751.2 531.3 L751.2 533.3 L751.1 531.6 L751.0 531.4 L750.9 528.4 L750.8 529.6 L750.8 527.0 L750.7 525.9 L750.6 525.4 L750.5 523.9 L750.4 523.2 L750.4 521.4 L750.3 519.6 L750.2 520.4 L750.1 517.3 L750.0 515.8 L749.9 515.4 L749.9 515.0 L749.8 514.5 L749.7 512.6 L749.6 511.6 L749.5 508.5 L749.5 508.7 L749.4 508.0 L749.3 505.7 L749.2 504.7 L749.1 503.6 L749.1 503.6 L749.0 501.0 L748.9 499.6 L748.8 498.5 L748.7 498.7 L748.6 496.9 L748.6 495.1 L748.5 494.4 L748.4 492.2 L748.3 490.9 L748.2 490.1 L748.2 490.4 L748.1 489.4 L748.0 485.9 L747.9 485.5 L747.8 484.4 L747.7 482.3 L747.6 481.2 L747.5 482.0 L747.3 480.2 L747.1 479.9 L747.0 476.5 L746.8 475.6 L746.7 473.0 L746.5 474.0 L746.3 475.1 L746.2 471.4 L746.0 474.2 Z" fill="#f00" fill-opacity="0.28" stroke="#f00" stroke-opacity="0.36" stroke-width="3" stroke-linejoin="round"/>
<path d="M746.0 463.1 L746.6 463.6 L747.2 464.6 L747.8 464.6 L748.3 465.3 L748.9 466.5 L749.4 466.5 L749.9 468.2 L750.3 467.5 L750.7 468.3 L751.1 469.2 L751.5 470.2 L751.7 470.8 L752.0 471.1 L752.3 471.6 L752.5 472.1 L752.8 473.0 L753.0 473.2 L753.3 474.2 L753.5 475.0 L753.8 476.9 L754.0 477.0 L754.3 478.1 L754.5 478.4 L754.8 479.5 L755.0 479.8 L755.3 480.0 L755.6 481.5 L755.8 482.1 L756.1 482.8 L756.3 483.2 L756.6 485.0 L756.8 486.1 L757.3 486.7 L757.9 487.5 L758.4 487.1 L759.0 488.1 L759.5 488.2 L760.1 488.5 L760.7 489.4 L761.2 489.6 L761.8 490.5 L762.4 491.3 L762.9 491.0 L763.5 493.0 L764.1 493.3 L764.6 493.7 L765.2 494.7 L765.8 494.8 L766.2 495.4 L766.6 496.5 L766.9 496.1 L767.3 496.4 L767.6 498.1 L768.0 498.3 L768.4 499.6 L768.7 500.1 L769.1 500.1 L769.4 501.2 L769.8 501.7 L770.1 503.1 L770.5 504.0 L770.9 505.3 L771.2 506.6 L771.6 506.5 L771.9 506.8 L772.3 507.6 L772.7 508.3 L773.0 509.0 L773.4 510.2 L773.7 510.4 L774.0 511.2 L774.3 512.3 L774.6 513.2 L775.0 513.7 L775.3 514.1 L775.6 515.4 L775.9 515.7 L776.2 516.9 L776.5 517.0 L776.9 517.5 L777.2 517.7 L777.5 519.7 L777.8 520.3 L778.1 521.1 L778.4 520.7 L778.7 521.0 L779.1 522.9 L779.4 523.1 L779.7 522.9 L780.0 525.2 L780.3 525.1 L780.6 527.2 L781.0 527.9 L781.3 527.4 L781.6 529.4 L781.9 530.0 L782.2 531.0 L782.5 530.7 L782.8 531.2 L783.2 532.9 L783.5 532.3 L783.8 534.1 L784.1 535.3 L784.4 536.4 L784.7 537.0 L785.0 538.5 L785.3 538.5 L785.6 538.5 L785.9 539.3 L786.2 539.9 L786.5 541.2 L786.8 542.9 L787.0 542.9 L787.3 543.1 L787.6 543.3 L787.9 543.5 L788.2 545.6 L788.5 546.2 L788.8 547.5 L789.1 547.4 L789.4 548.9 L789.7 549.0 L790.0 549.4 L790.3 550.6 L790.5 550.9 L790.8 551.8 L791.1 552.2 L791.4 553.6 L791.7 553.4 L792.0 555.1 L792.3 556.3 L792.6 557.4 L792.9 558.0 L793.2 559.1 L793.5 559.3 L793.7 561.1 L794.0 560.4 L794.3 560.5 L794.6 561.2 L794.9 562.1 L795.2 563.7 L795.6 563.6 L795.9 564.4 L796.3 566.2 L796.6 565.8 L797.0 567.6 L797.3 568.8 L797.7 569.7 L798.1 570.0 L798.4 569.9 L798.8 571.0 L799.1 573.0 L799.5 573.9 L799.8 573.6 L800.2 574.8 L800.6 575.1 L800.9 574.8 L801.3 575.9 L801.6 575.5 L802.0 576.9 L802.3 577.5 L802.7 577.8 L803.1 578.3 L803.4 580.0 L803.8 579.6 L804.2 580.4 L804.5 581.1 L804.9 582.6 L805.3 583.5 L805.7 584.2 L806.1 586.1 L806.5 586.6 L806.8 587.7 L807.2 587.5 L807.6 588.5 L808.0 589.8 L808.4 589.9 L808.8 589.9 L809.1 590.7 L809.5 591.1 L809.9 591.7 L810.3 592.8 L810.7 593.8 L811.1 594.3 L811.5 596.1 L811.8 597.0 L812.2 596.4 L812.6 596.8 L813.0 598.5 L813.4 598.3 L813.8 599.1 L814.1 599.7 L814.4 600.1 L814.7 600.6 L815.0 601.8 L815.3 601.6 L815.6 603.6 L815.9 604.7 L816.2 604.7 L816.5 605.4 L816.8 607.2 L817.1 607.0 L817.4 607.5 L817.7 608.8 L818.0 608.5 L818.3 608.8 L818.6 610.5 L818.9 611.1 L819.2 611.9 L819.5 612.8 L819.8 613.7 L820.1 614.5 L820.4 614.2 L820.7 616.4 L821.0 616.8 L821.2 617.8 L821.4 618.8 L821.6 620.2 L821.8 620.7 L822.0 622.2 L822.2 620.7 L822.3 622.7 L822.5 623.5 L822.7 622.4 L822.9 624.8 L823.1 625.2 L823.3 625.7 L823.5 626.2 L823.7 626.9 L823.9 627.2 L824.1 627.8 L824.3 629.6 L824.5 630.2 L824.6 631.6 L824.8 633.5 L825.0 632.5 L825.2 633.5 L825.4 634.3 L825.6 635.3 L825.8 637.0 L826.0 637.2 L826.2 638.2 L826.5 639.3 L826.8 638.1 L827.1 639.5 L827.4 639.9 L827.6 640.9 L827.9 640.7 L828.2 642.5 L828.5 642.4 L828.8 643.3 L829.1 644.2 L829.3 645.1 L829.6 646.6 L829.9 647.1 L830.2 648.2 L830.5 648.4 L830.8 649.4 L831.1 649.9 L831.4 651.1 L831.9 651.8 L832.4 652.2 L832.9 654.1 L833.5 654.3 L834.0 655.1 L834.5 656.6 L835.0 656.0 L835.5 656.4 L836.1 656.2 L836.6 656.7 L837.1 658.2 L837.6 658.5 L838.1 660.5 L838.7 661.1 L839.2 661.1 L839.7 661.1 L840.2 661.8 L840.7 662.2 L841.3 663.3 L841.7 662.4 L842.1 664.0 L842.4 664.9 L842.8 666.0 L843.2 667.1 L843.5 667.5 L843.9 668.8 L844.2 668.7 L844.6 670.5 L845.0 670.9 L845.3 671.3 L845.7 672.6 L846.0 672.4 L846.4 672.6 L846.7 674.5 L847.1 675.2 L847.5 675.9 L847.8 676.4 L848.2 677.6 L848.5 678.4 L848.9 678.1 L849.3 678.5 L849.6 680.0 L850.0 679.8 L850.4 681.5 L850.9 682.1 L851.4 681.8 L851.9 683.8 L852.4 683.2 L852.8 683.8 L853.3 684.2 L853.8 685.0 L854.3 685.8 L854.8 686.2 L855.3 686.2 L855.8 687.0 L856.3 686.9 L856.8 687.7 L857.3 689.0 L857.8 689.7 L858.3 690.3 L858.8 691.6 L859.3 691.9 L859.8 693.1 L860.3 693.9 L860.7 695.2 L861.2 695.9 L861.7 695.2 L862.2 695.7 L862.8 694.9 L863.3 697.3 L863.9 694.5 L864.4 696.2 L865.0 695.6 L865.5 697.7 L866.1 698.8 L866.6 700.1 L867.2 699.9 L867.8 701.8 L868.6 700.5 L869.4 700.3 L870.2 700.4 L871.0 700.3 L871.8 702.9 L872.5 701.7 L873.3 701.1 L874.1 697.5 L874.9 700.2 L875.7 701.5 L876.5 698.2 L877.3 702.1 L878.1 698.8 L878.8 699.7 L879.6 699.3 L880.4 698.3 L881.2 698.4 L882.0 699.4 L882.8 700.8 L883.6 701.5 L884.4 701.2 L885.2 699.1 L886.0 695.8 L886.8 697.0 L887.6 698.1 L888.4 700.0 L889.2 701.0 L890.0 698.9 L890.8 698.5 L891.6 699.7 L892.5 700.0 L893.3 700.9 L894.1 701.1 L894.9 699.7 L895.7 696.3 L896.5 699.1 L897.3 695.1 L898.1 698.7 L898.9 702.3 L899.7 700.0 L900.5 698.8 L901.3 701.6 L902.1 697.0 L902.9 699.0 L903.7 699.1 L904.5 697.2 L905.3 697.4 L906.1 699.4 L906.9 698.9 L907.7 697.6 L908.5 698.1 L909.3 699.1 L910.1 697.7 L910.9 697.0 L911.7 698.8 L912.5 698.4 L913.3 698.9 L914.1 697.2 L914.9 698.9 L915.7 698.6 L916.5 697.2 L917.3 701.5 L918.1 699.3 L918.9 699.2 L919.7 699.8 L920.5 700.4 L921.3 699.8 L922.1 697.4 L922.9 698.9 L923.7 697.9 L924.5 698.6 L925.3 699.4 L926.1 700.4 L926.9 697.0 L927.7 699.6 L928.5 699.0 L929.3 696.8 L930.2 702.2 L931.0 697.7 L931.8 699.5 L932.6 697.9 L933.4 699.0 L934.2 700.3 L935.0 699.5 L935.8 699.8 L936.6 702.1 L937.4 702.2 L938.2 704.2 L939.0 700.7 L939.8 696.9 L940.6 696.7 L941.4 699.2 L942.2 697.0 L943.0 696.8 L943.8 701.2 L944.6 697.8 L945.4 698.2 L946.2 700.8 L947.0 702.1 L947.8 701.1 L948.6 697.8 L949.4 700.2 L950.2 697.6 L951.0 699.9 L951.8 695.5 L952.6 698.3 L953.4 700.7 L954.2 699.7 L955.0 700.2 L955.8 693.7 L956.6 701.3 L957.4 700.6 L958.2 702.6 L959.0 698.9 L959.8 701.3 L960.6 701.0 L961.4 700.1 L962.2 701.4 L963.0 701.0 L963.8 701.6 L964.6 699.8 L965.4 699.4 L966.2 697.6 L967.0 697.8 L967.9 698.7 L968.7 699.1 L969.5 699.4 L970.3 700.3 L971.1 698.0 L971.9 697.9 L972.7 696.6 L973.5 700.9 L974.3 702.0 L975.1 699.7 L975.9 699.9 L976.7 697.5 L977.5 698.4 L978.3 700.0 L979.1 698.4 L979.9 696.0 L980.7 698.6 L981.5 698.4 L982.3 699.8 L983.1 700.9 L983.9 698.4 L984.7 698.9 L985.5 699.4 L986.3 696.7 L987.1 697.7 L987.9 695.9 L988.7 698.9 L989.5 699.8 L990.3 699.4 L991.1 699.6 L991.9 697.8 L992.7 697.6 L993.5 700.6 L994.3 699.8 L995.1 698.2 L995.9 699.4 L996.7 697.2 L997.5 696.7 L998.3 698.8 L999.1 698.6 L999.9 699.6 L1000.7 702.6 L1001.5 699.5 L1002.3 698.7 L1003.1 701.3 L1003.9 697.5 L1004.7 699.0 L1005.6 699.1 L1006.4 700.0 L1007.2 703.5 L1008.0 697.2 L1008.8 701.5 L1009.6 697.4 L1010.4 696.7 L1011.2 698.5 L1012.0 698.4 L1012.8 698.0 L1013.6 696.8 L1014.4 699.5 L1015.2 696.7 L1016.0 699.5 L1016.8 702.5 L1017.6 696.3 L1018.4 698.0 L1019.2 697.1 L1020.0 694.1 L1020.8 696.0 L1021.6 697.5 L1022.4 697.9 L1023.2 698.1 L1024.0 696.7 L1024.8 697.9 L1025.6 697.2 L1026.4 700.6 L1027.2 698.0 L1028.0 697.5 L1028.8 698.1 L1029.6 701.5 L1030.4 697.0 L1031.2 701.0 L1032.0 701.4 L1032.8 699.8 L1033.6 701.2 L1034.4 698.9 L1035.2 701.7 L1036.0 701.6 L1036.8 699.5 L1037.6 700.6 L1038.4 700.2 L1039.2 700.8 L1040.0 700.6 L1040.8 700.5 L1041.6 698.2 L1042.5 699.0 L1043.3 699.5 L1044.1 701.0 L1044.9 699.0 L1045.7 698.3 L1046.5 698.1 L1047.3 699.1 L1048.1 697.0 L1048.9 698.0 L1049.7 700.3 L1050.5 701.8 L1051.3 700.4 L1052.1 697.0 L1052.9 699.5 L1053.7 698.3 L1054.5 697.3 L1055.3 700.2 L1056.1 699.6 L1056.9 699.5 L1057.7 699.0 L1058.5 699.8 L1059.3 698.4 L1060.1 699.0 L1060.9 698.9 L1061.7 701.0 L1062.5 700.0 L1063.3 700.3 L1064.1 698.1 L1064.9 698.2 L1065.7 698.8 L1066.5 699.2 L1067.3 699.2 L1068.1 701.9 L1068.9 700.3 L1069.7 696.1 L1070.5 698.8 L1071.3 699.9 L1072.1 699.6 L1072.9 699.4 L1073.7 698.9 L1074.5 701.3 L1075.3 697.8 L1076.1 699.9 L1076.9 700.1 L1077.7 700.3 L1078.5 702.3 L1079.3 698.0 L1080.2 698.6 L1081.0 700.3 L1081.8 700.8 L1082.6 701.1 L1083.4 699.4 L1084.2 699.8 L1085.0 702.4 L1085.8 700.9 L1086.6 700.6 L1087.4 700.6 L1088.2 701.6 L1089.0 698.2 L1089.8 698.5 L1090.6 695.9 L1091.4 698.2 L1092.2 699.7 L1093.0 700.4 L1093.8 698.2 L1094.6 696.9 L1095.4 697.6 L1096.2 696.2 L1097.0 698.3 L1097.8 700.1 L1098.6 701.2 L1099.4 702.5 L1100.2 700.2 L1101.0 698.5 L1101.8 699.5 L1102.6 698.4 L1103.4 700.2 L1104.2 700.2 L1105.0 696.2 L1105.8 698.2 L1106.6 701.5 L1107.4 700.2 L1108.2 698.1 L1109.0 694.0 L1109.8 699.5 L1110.6 699.2 L1111.4 698.5 L1112.2 699.9 L1113.0 699.2 L1113.8 699.7 L1114.6 698.5 L1115.4 698.5 L1116.2 699.3 L1117.0 698.2 L1117.9 697.0 L1118.7 697.0 L1119.5 699.4 L1120.3 697.8 L1121.1 697.7 L1121.9 697.6 L1122.7 699.2 L1123.5 694.9 L1124.3 694.3 L1125.1 698.3 L1125.9 697.9 L1126.7 700.2 L1127.5 697.3 L1128.3 695.3 L1129.1 697.8 L1129.9 698.1 L1130.7 698.5 L1131.5 698.7 L1132.3 701.4 L1133.1 697.6 L1133.9 698.5 L1134.7 697.9 L1135.5 695.6 L1136.3 696.6 L1137.1 697.2 L1137.9 698.0 L1138.7 696.7 L1139.5 700.7 L1140.3 698.7 L1141.1 697.7 L1141.9 698.3 L1142.7 699.6 L1143.5 698.9 L1144.3 698.5 L1145.1 698.3 L1145.9 699.8 L1146.7 702.0 L1147.5 695.2 L1148.3 698.6 L1149.1 699.2 L1149.9 698.1 L1150.7 702.4 L1151.5 699.3 L1152.3 696.5 L1153.1 699.3 L1153.9 697.3 L1154.7 700.1 L1155.6 698.8 L1156.4 700.0 L1157.2 696.3 L1158.0 697.6 L1158.8 699.0 L1159.6 696.1 L1160.4 695.4 L1161.2 697.2 L1162.0 699.1 L1162.8 699.2 L1163.6 700.7 L1164.4 701.4 L1165.2 697.9 L1166.0 696.3 L1166.8 696.9 L1167.6 695.7 L1168.4 696.9 L1169.2 697.8 L1170.0 695.9 L1170.8 698.8 L1171.6 699.0 L1172.4 696.9 L1173.2 698.4 L1174.0 696.2" fill="none" stroke="#000" stroke-width="6.5" stroke-linejoin="round" stroke-linecap="round"/>
<path d="M746.0 462.5 L746.6 462.5 L747.2 462.9 L747.7 463.7 L748.3 465.0 L748.4 464.2 L748.5 466.0 L748.6 466.3 L748.7 466.9 L748.7 467.1 L748.8 468.4 L748.9 469.1 L749.0 470.4 L749.1 471.7 L749.2 472.4 L749.3 473.0 L749.3 475.0 L749.4 474.8 L749.5 476.1 L749.5 476.8 L749.6 478.0 L749.6 478.5 L749.7 478.8 L749.7 479.6 L749.8 479.9 L749.9 479.9 L749.9 481.4 L750.0 481.5 L750.0 482.3 L750.1 484.0 L750.1 484.4 L750.2 485.7 L750.3 487.9 L750.3 487.9 L750.4 488.1 L750.4 488.9 L750.5 490.5 L750.5 491.0 L750.6 491.1 L750.7 492.7 L750.7 492.2 L750.8 494.4 L750.8 495.0 L750.9 495.8 L750.9 495.0 L751.0 496.7 L751.1 498.3 L751.1 498.4 L751.2 498.9 L751.2 500.6 L751.3 500.1 L751.3 501.6 L751.4 502.7 L751.5 503.0 L751.5 504.0 L751.6 505.2 L751.6 506.0 L751.7 506.4 L751.7 506.7 L751.8 507.5 L751.9 508.7 L751.9 509.7 L752.0 510.3 L752.0 512.8 L752.1 512.0 L752.1 512.8 L752.2 514.0 L752.3 513.9 L752.3 515.2 L752.4 516.6 L752.4 516.7 L752.5 518.2 L752.5 517.9 L752.6 518.9 L752.7 520.1 L752.7 520.7 L752.8 521.1 L752.8 522.1 L752.9 523.5 L752.9 524.0 L753.0 524.6 L753.1 526.5 L753.1 527.3 L753.2 527.4 L753.2 527.8 L753.3 528.1 L753.3 529.3 L753.4 530.5 L753.5 531.8 L753.5 533.0 L753.6 533.3 L753.6 534.1 L753.7 533.9 L753.7 535.3 L753.8 536.5 L753.9 536.2 L753.9 536.3 L754.0 538.4 L754.1 539.7 L754.2 540.3 L754.3 540.7 L754.4 542.1 L754.5 541.7 L754.6 543.6 L754.7 544.0 L754.8 545.6 L754.8 545.3 L754.9 547.6 L755.0 548.6 L755.1 549.2 L755.2 549.6 L755.3 549.5 L755.4 550.3 L755.5 551.5 L755.6 551.8 L755.7 552.1 L755.8 553.2 L755.9 553.8 L755.9 555.3 L756.0 555.9 L756.1 557.3 L756.2 557.7 L756.3 557.9 L756.4 559.4 L756.5 558.4 L756.6 559.6 L756.7 560.9 L756.8 562.4 L756.9 564.0 L757.0 564.3 L757.0 564.9 L757.1 565.5 L757.2 565.5 L757.3 567.0 L757.4 568.8 L757.5 569.2 L757.6 569.5 L757.7 570.4 L757.8 570.7 L757.9 570.8 L758.0 572.5 L758.0 573.3 L758.1 573.9 L758.2 575.4 L758.3 576.2 L758.4 577.2 L758.5 577.9 L758.6 578.6 L758.7 579.0 L758.8 579.4 L758.9 580.4 L759.0 581.2 L759.1 582.4 L759.1 582.7 L759.2 583.1 L759.3 584.7 L759.4 585.1 L759.5 586.5 L759.6 588.2 L759.7 588.5 L759.8 588.3 L759.9 589.3 L760.0 590.6 L760.1 590.0 L760.2 591.2 L760.2 592.2 L760.3 592.6 L760.4 593.3 L760.5 594.6 L760.6 595.4 L760.7 596.2 L760.8 597.6 L760.9 597.9 L761.0 598.9 L761.1 600.5 L761.2 601.1 L761.3 601.4 L761.4 601.9 L761.5 602.9 L761.6 603.6 L761.7 603.6 L761.8 604.8 L761.9 606.6 L762.0 606.4 L762.1 608.6 L762.2 609.1 L762.3 609.7 L762.4 610.5 L762.5 611.7 L762.6 612.9 L762.7 613.5 L762.8 614.8 L762.9 615.1 L763.0 615.2 L763.2 616.4 L763.3 617.0 L763.4 617.2 L763.5 617.5 L763.6 618.4 L763.7 619.9 L763.8 620.1 L763.9 622.3 L764.0 622.7 L764.1 622.3 L764.2 623.6 L764.3 625.0 L764.5 625.2 L764.6 626.3 L764.7 627.4 L764.9 628.0 L765.0 627.9 L765.1 629.8 L765.2 630.8 L765.4 630.8 L765.5 632.2 L765.6 632.2 L765.8 632.6 L765.9 634.8 L766.0 635.6 L766.2 635.3 L766.3 635.0 L766.4 637.9 L766.6 637.5 L766.7 638.8 L766.8 638.3 L767.0 640.1 L767.1 641.0 L767.2 641.1 L767.4 642.4 L767.5 643.1 L767.6 644.7 L767.8 644.7 L767.9 645.7 L768.0 645.6 L768.2 647.4 L768.3 648.1 L768.4 648.0 L768.6 650.0 L768.7 649.6 L768.8 652.7 L769.0 651.8 L769.1 651.6 L769.2 653.2 L769.6 654.7 L770.3 655.6 L771.0 656.8 L771.8 655.6 L772.5 657.6 L773.2 656.9 L773.9 658.1 L774.7 656.7 L775.5 656.2 L776.3 656.3 L777.1 655.2 L777.9 656.3 L778.7 657.1 L779.5 654.8 L780.3 656.6 L781.1 656.8 L781.9 658.6 L782.7 657.6 L783.5 657.6 L784.3 656.8 L785.1 658.2 L785.9 657.2 L786.7 658.6 L787.5 656.9 L788.3 657.1 L789.1 657.7 L789.9 657.5 L790.7 655.0 L791.5 656.9 L792.3 656.2 L793.1 653.7 L793.9 654.3 L794.7 656.9 L795.5 656.3 L796.3 655.5 L797.2 657.2 L798.0 654.1 L798.8 658.1 L799.6 656.1 L800.4 658.9 L801.2 656.8 L802.0 656.6 L802.8 657.3 L803.6 656.4 L804.4 657.7 L805.2 657.4 L806.0 655.9 L806.8 655.9 L807.5 656.0 L808.3 658.3 L809.0 656.7 L809.7 658.8 L810.4 658.4 L811.1 658.3 L811.8 657.9 L812.6 660.3 L813.3 660.6 L814.0 660.2 L814.7 661.3 L815.4 660.8 L816.1 662.4 L816.9 661.3 L817.6 659.9 L818.3 662.8 L819.0 660.8 L819.7 662.5 L820.4 661.6 L821.2 664.7 L821.9 665.6 L822.6 662.3 L823.3 662.7 L824.0 662.8 L824.7 661.4 L825.5 663.8 L826.2 664.2 L826.9 663.7 L827.6 663.4 L828.3 665.1 L829.0 668.0 L829.8 666.7 L830.5 669.3 L831.2 670.1 L831.9 670.9 L832.6 670.1 L833.4 670.5 L834.1 672.3 L834.8 670.4 L835.5 671.7 L836.2 673.6 L836.9 670.9 L837.7 672.9 L838.4 669.0 L839.1 670.1 L839.8 670.0 L840.5 671.6 L841.2 671.8 L841.9 669.2 L842.6 674.5 L843.3 675.3 L844.0 674.8 L844.7 673.7 L845.4 675.2 L846.1 674.3 L846.7 675.0 L847.4 675.3 L848.1 676.9 L848.8 676.4 L849.5 676.9 L850.2 680.1 L850.9 678.3 L851.5 680.1 L852.2 680.7 L852.9 680.4 L853.6 681.2 L854.3 683.9 L855.0 682.7 L855.7 684.7 L856.3 683.7 L857.0 684.0 L857.7 686.3 L858.4 682.6 L859.0 684.1 L859.6 684.5 L860.2 686.0 L860.8 684.9 L861.3 686.1 L861.9 687.4 L862.5 690.0 L863.0 689.8 L863.6 687.5 L864.2 692.7 L864.7 690.7 L865.3 689.4 L865.9 691.2 L866.4 689.3 L867.0 690.5 L867.6 690.3 L868.2 691.9 L868.7 689.4 L869.3 696.5 L870.0 694.4 L870.8 695.5 L871.5 694.2 L872.2 693.2 L872.9 696.6 L873.6 697.6 L874.3 695.3 L875.1 698.6 L875.8 696.7 L876.6 696.5 L877.4 698.6 L878.2 698.3 L879.0 698.2 L879.8 694.3 L880.6 696.5 L881.4 698.3 L882.2 699.6 L883.0 699.9 L883.8 697.9 L884.6 700.5 L885.4 697.1 L886.2 700.4 L887.0 702.9 L887.8 697.9 L888.6 695.9 L889.4 700.3 L890.2 698.1 L891.0 698.7 L891.8 699.9 L892.6 697.9 L893.4 699.8 L894.2 696.3 L895.0 695.6 L895.8 697.3 L896.6 697.2 L897.4 696.4 L898.2 697.3 L899.0 696.0 L899.8 695.3 L900.6 698.3 L901.4 694.6 L902.2 698.1 L903.0 700.1 L903.8 699.0 L904.6 699.9 L905.4 696.8 L906.2 696.7 L907.0 696.1 L907.8 696.0 L908.6 697.7 L909.4 699.8 L910.2 698.1 L911.0 701.8 L911.8 699.5 L912.6 694.0 L913.4 699.3 L914.2 696.7 L915.0 697.8 L915.8 696.1 L916.6 696.7 L917.4 702.5 L918.2 700.7 L919.0 697.9 L919.8 697.2 L920.6 698.1 L921.4 697.6 L922.2 700.2 L923.1 701.1 L923.9 695.3 L924.7 699.4 L925.5 698.4 L926.3 698.0 L927.1 700.1 L927.9 696.6 L928.7 695.9 L929.5 696.9 L930.3 695.3 L931.1 695.6 L931.9 698.5 L932.7 694.2 L933.5 699.7 L934.3 700.1 L935.1 696.8 L935.9 699.4 L936.7 696.7 L937.5 699.2 L938.3 699.6 L939.1 699.1 L939.9 702.9 L940.7 701.4 L941.5 702.3 L942.3 696.7 L943.1 699.3 L943.9 698.3 L944.7 695.8 L945.5 701.2 L946.3 699.3 L947.1 700.0 L947.9 702.2 L948.7 697.7 L949.5 701.7 L950.3 694.4 L951.1 701.0 L951.9 699.7 L952.7 695.6 L953.5 695.4 L954.3 703.4 L955.1 697.0 L955.9 701.2 L956.7 700.1 L957.5 700.0 L958.3 699.6 L959.1 697.2 L959.9 697.1 L960.7 697.4 L961.5 700.7 L962.3 694.4 L963.1 696.0 L963.9 698.9 L964.7 697.5 L965.5 696.5 L966.3 695.2 L967.1 693.6 L967.9 695.8 L968.8 695.3 L969.6 697.0 L970.4 696.0 L971.2 694.4 L972.0 699.9 L972.8 692.3 L973.6 698.1 L974.4 695.8 L975.2 695.9 L976.0 695.1 L976.8 696.2 L977.6 697.4 L978.4 693.6 L979.2 699.4 L980.0 697.0 L980.8 696.5 L981.6 696.9 L982.4 700.2 L983.2 698.7 L984.0 700.9 L984.8 698.2 L985.6 703.3 L986.4 698.2 L987.2 697.4 L988.0 698.1 L988.8 701.2 L989.6 702.2 L990.4 699.3 L991.2 702.7 L992.0 695.9 L992.8 696.4 L993.6 696.9 L994.4 700.8 L995.2 696.4 L996.0 698.7 L996.8 696.5 L997.6 699.4 L998.4 696.9 L999.2 704.4 L1000.0 699.0 L1000.8 695.8 L1001.6 698.5 L1002.4 696.8 L1003.2 695.9 L1004.0 698.4 L1004.8 694.3 L1005.6 700.9 L1006.4 701.0 L1007.2 696.6 L1008.0 698.8 L1008.8 694.9 L1009.6 699.5 L1010.4 698.2 L1011.2 697.4 L1012.0 695.7 L1012.8 697.0 L1013.6 696.3 L1014.5 697.9 L1015.3 697.7 L1016.1 698.4 L1016.9 698.7 L1017.7 694.8 L1018.5 697.9 L1019.3 700.7 L1020.1 701.2 L1020.9 696.7 L1021.7 698.2 L1022.5 701.2 L1023.3 695.4 L1024.1 699.6 L1024.9 694.9 L1025.7 698.9 L1026.5 697.5 L1027.3 697.9 L1028.1 698.1 L1028.9 702.9 L1029.7 693.1 L1030.5 695.2 L1031.3 698.1 L1032.1 697.5 L1032.9 695.0 L1033.7 697.2 L1034.5 696.6 L1035.3 697.1 L1036.1 699.5 L1036.9 695.3 L1037.7 697.7 L1038.5 699.3 L1039.3 696.4 L1040.1 700.4 L1040.9 696.2 L1041.7 694.6 L1042.5 695.7 L1043.3 697.9 L1044.1 699.4 L1044.9 696.1 L1045.7 697.0 L1046.5 697.7 L1047.3 699.9 L1048.1 697.1 L1048.9 699.3 L1049.7 697.7 L1050.5 700.5 L1051.3 701.2 L1052.1 694.6 L1052.9 699.9 L1053.7 699.0 L1054.5 700.8 L1055.3 697.4 L1056.1 698.6 L1056.9 695.6 L1057.7 699.6 L1058.5 702.7 L1059.3 698.5 L1060.2 701.4 L1061.0 701.4 L1061.8 697.1 L1062.6 697.3 L1063.4 697.3 L1064.2 699.4 L1065.0 696.6 L1065.8 700.5 L1066.6 697.8 L1067.4 701.2 L1068.2 699.6 L1069.0 695.8 L1069.8 698.6 L1070.6 700.6 L1071.4 699.4 L1072.2 700.4 L1073.0 704.6 L1073.8 696.7 L1074.6 697.5 L1075.4 697.1 L1076.2 698.7 L1077.0 697.7 L1077.8 698.4 L1078.6 697.2 L1079.4 697.2 L1080.2 702.6 L1081.0 703.7 L1081.8 697.8 L1082.6 698.3 L1083.4 694.6 L1084.2 697.5 L1085.0 700.1 L1085.8 699.4 L1086.6 697.9 L1087.4 701.8 L1088.2 703.8 L1089.0 696.7 L1089.8 694.7 L1090.6 698.1 L1091.4 698.7 L1092.2 695.1 L1093.0 697.0 L1093.8 699.8 L1094.6 698.9 L1095.4 696.9 L1096.2 701.1 L1097.0 697.5 L1097.8 702.2 L1098.6 698.4 L1099.4 693.9 L1100.2 695.5 L1101.0 698.7 L1101.8 700.6 L1102.6 697.6 L1103.4 696.5 L1104.2 702.4 L1105.0 695.2 L1105.9 700.7 L1106.7 695.7 L1107.5 695.4 L1108.3 696.8 L1109.1 700.6 L1109.9 698.9 L1110.7 697.4 L1111.5 698.2 L1112.3 695.6 L1113.1 700.4 L1113.9 697.8 L1114.7 699.3 L1115.5 695.8 L1116.3 698.7 L1117.1 696.2 L1117.9 700.1 L1118.7 694.9 L1119.5 699.6 L1120.3 700.0 L1121.1 698.6 L1121.9 699.8 L1122.7 700.3 L1123.5 696.5 L1124.3 696.4 L1125.1 696.8 L1125.9 698.0 L1126.7 697.7 L1127.5 697.6 L1128.3 701.5 L1129.1 697.6 L1129.9 696.3 L1130.7 700.4 L1131.5 695.0 L1132.3 697.2 L1133.1 698.3 L1133.9 698.1 L1134.7 693.9 L1135.5 693.9 L1136.3 694.9 L1137.1 696.6 L1137.9 701.5 L1138.7 699.2 L1139.5 700.1 L1140.3 697.3 L1141.1 697.7 L1141.9 700.0 L1142.7 699.2 L1143.5 697.7 L1144.3 700.2 L1145.1 696.6 L1145.9 696.4 L1146.7 696.3 L1147.5 695.7 L1148.3 698.6 L1149.1 693.8 L1149.9 698.1 L1150.7 693.5 L1151.6 694.1 L1152.4 698.1 L1153.2 698.9 L1154.0 698.0 L1154.8 693.9 L1155.6 700.5 L1156.4 700.4 L1157.2 696.7 L1158.0 701.8 L1158.8 698.2 L1159.6 699.7 L1160.4 697.6 L1161.2 696.4 L1162.0 694.7 L1162.8 696.9 L1163.6 698.8 L1164.4 696.6 L1165.2 698.8 L1166.0 699.3 L1166.8 700.7 L1167.6 699.6 L1168.4 697.3 L1169.2 697.6 L1170.0 696.8 L1170.8 695.6 L1171.6 695.2 L1172.4 701.6 L1173.2 696.3 L1174.0 699.4" fill="none" stroke="#f00" stroke-width="6.5" stroke-linejoin="round" stroke-linecap="round"/>
</g>
<path d="M119.0 336.4V316.4 M119.0 12.8V32.8 M261.1 336.4V316.4 M261.1 12.8V32.8 M403.3 336.4V316.4 M403.3 12.8V32.8 M545.4 336.4V316.4 M545.4 12.8V32.8 M147.4 336.4V326.4 M147.4 12.8V22.8 M175.9 336.4V326.4 M175.9 12.8V22.8 M204.3 336.4V326.4 M204.3 12.8V22.8 M232.7 336.4V326.4 M232.7 12.8V22.8 M289.6 336.4V326.4 M289.6 12.8V22.8 M318.0 336.4V326.4 M318.0 12.8V22.8 M346.4 336.4V326.4 M346.4 12.8V22.8 M374.8 336.4V326.4 M374.8 12.8V22.8 M431.7 336.4V326.4 M431.7 12.8V22.8 M460.1 336.4V326.4 M460.1 12.8V22.8 M488.5 336.4V326.4 M488.5 12.8V22.8 M517.0 336.4V326.4 M517.0 12.8V22.8 M119.0 336.4H139.0 M545.4 336.4H525.4 M119.0 255.5H139.0 M545.4 255.5H525.4 M119.0 174.6H139.0 M545.4 174.6H525.4 M119.0 93.7H139.0 M545.4 93.7H525.4 M119.0 12.8H139.0 M545.4 12.8H525.4" stroke="#000" stroke-width="2.4" fill="none"/>
<rect x="119.0" y="12.8" width="426.4" height="323.6" fill="none" stroke="#000" stroke-width="2.5"/>
<text x="119.0" y="369.9" font-size="33" text-anchor="middle" textLength="21.0" lengthAdjust="spacingAndGlyphs">0</text>
<text x="261.1" y="369.9" font-size="33" text-anchor="middle" textLength="42.0" lengthAdjust="spacingAndGlyphs">50</text>
<text x="403.3" y="369.9" font-size="33" text-anchor="middle" textLength="63.0" lengthAdjust="spacingAndGlyphs">100</text>
<text x="545.4" y="369.9" font-size="33" text-anchor="middle" textLength="63.0" lengthAdjust="spacingAndGlyphs">150</text>
<text x="109.5" y="348.8" font-size="33" text-anchor="end" textLength="52.5" lengthAdjust="spacingAndGlyphs">0.7</text>
<text x="109.5" y="267.9" font-size="33" text-anchor="end" textLength="52.5" lengthAdjust="spacingAndGlyphs">0.8</text>
<text x="109.5" y="187.0" font-size="33" text-anchor="end" textLength="52.5" lengthAdjust="spacingAndGlyphs">0.9</text>
<text x="109.5" y="106.1" font-size="33" text-anchor="end" textLength="52.5" lengthAdjust="spacingAndGlyphs">1.0</text>
<text x="109.5" y="25.2" font-size="33" text-anchor="end" textLength="52.5" lengthAdjust="spacingAndGlyphs">1.1</text>
<text x="333.2" y="416.9" font-size="39" text-anchor="middle" textLength="127.2" lengthAdjust="spacingAndGlyphs">CPU-hr</text>
<g transform="translate(37.5 0) rotate(-90)"><text x="-250.5" y="0.0" font-size="39.0" text-anchor="middle" font-style="italic" textLength="24.8" lengthAdjust="spacingAndGlyphs">ρ</text><text x="-219.6" y="-1.5" font-size="36.5" text-anchor="middle" textLength="14.2" lengthAdjust="spacingAndGlyphs">(</text><text x="-201.0" y="0.0" font-size="39.0" text-anchor="middle" textLength="24.8" lengthAdjust="spacingAndGlyphs">g</text><text x="-181.7" y="0.0" font-size="39.0" text-anchor="middle" textLength="13.1" lengthAdjust="spacingAndGlyphs">/</text><text x="-164.8" y="0.0" font-size="39.0" text-anchor="middle" textLength="21.4" lengthAdjust="spacingAndGlyphs">c</text><text x="-136.5" y="0.0" font-size="39.0" text-anchor="middle" textLength="38.0" lengthAdjust="spacingAndGlyphs">m</text><text x="-109.5" y="-14.5" font-size="27.5" text-anchor="middle" textLength="17.5" lengthAdjust="spacingAndGlyphs">3</text><text x="-92.3" y="-1.5" font-size="36.5" text-anchor="middle" textLength="14.2" lengthAdjust="spacingAndGlyphs">)</text></g>
<path d="M746.4 336.4V316.4 M746.4 12.8V32.8 M888.4 336.4V316.4 M888.4 12.8V32.8 M1030.5 336.4V316.4 M1030.5 12.8V32.8 M1172.5 336.4V316.4 M1172.5 12.8V32.8 M774.8 336.4V326.4 M774.8 12.8V22.8 M803.2 336.4V326.4 M803.2 12.8V22.8 M831.6 336.4V326.4 M831.6 12.8V22.8 M860.0 336.4V326.4 M860.0 12.8V22.8 M916.8 336.4V326.4 M916.8 12.8V22.8 M945.2 336.4V326.4 M945.2 12.8V22.8 M973.7 336.4V326.4 M973.7 12.8V22.8 M1002.1 336.4V326.4 M1002.1 12.8V22.8 M1058.9 336.4V326.4 M1058.9 12.8V22.8 M1087.3 336.4V326.4 M1087.3 12.8V22.8 M1115.7 336.4V326.4 M1115.7 12.8V22.8 M1144.1 336.4V326.4 M1144.1 12.8V22.8 M746.4 336.4H766.4 M1172.5 336.4H1152.5 M746.4 255.5H766.4 M1172.5 255.5H1152.5 M746.4 174.6H766.4 M1172.5 174.6H1152.5 M746.4 93.7H766.4 M1172.5 93.7H1152.5 M746.4 12.8H766.4 M1172.5 12.8H1152.5" stroke="#000" stroke-width="2.4" fill="none"/>
<rect x="746.4" y="12.8" width="426.1" height="323.6" fill="none" stroke="#000" stroke-width="2.5"/>
<text x="746.4" y="369.9" font-size="33" text-anchor="middle" textLength="21.0" lengthAdjust="spacingAndGlyphs">0</text>
<text x="888.4" y="369.9" font-size="33" text-anchor="middle" textLength="42.0" lengthAdjust="spacingAndGlyphs">20</text>
<text x="1030.5" y="369.9" font-size="33" text-anchor="middle" textLength="42.0" lengthAdjust="spacingAndGlyphs">40</text>
<text x="1172.5" y="369.9" font-size="33" text-anchor="middle" textLength="42.0" lengthAdjust="spacingAndGlyphs">60</text>
<text x="736.9" y="348.8" font-size="33" text-anchor="end" textLength="52.5" lengthAdjust="spacingAndGlyphs">0.2</text>
<text x="736.9" y="267.9" font-size="33" text-anchor="end" textLength="52.5" lengthAdjust="spacingAndGlyphs">0.4</text>
<text x="736.9" y="187.0" font-size="33" text-anchor="end" textLength="52.5" lengthAdjust="spacingAndGlyphs">0.6</text>
<text x="736.9" y="106.1" font-size="33" text-anchor="end" textLength="52.5" lengthAdjust="spacingAndGlyphs">0.8</text>
<text x="736.9" y="25.2" font-size="33" text-anchor="end" textLength="52.5" lengthAdjust="spacingAndGlyphs">1.0</text>
<text x="960.5" y="416.9" font-size="39" text-anchor="middle" textLength="127.2" lengthAdjust="spacingAndGlyphs">CPU-hr</text>
<g transform="translate(664.9 0) rotate(-90)"><text x="-250.5" y="0.0" font-size="39.0" text-anchor="middle" font-style="italic" textLength="24.8" lengthAdjust="spacingAndGlyphs">ρ</text><text x="-219.6" y="-1.5" font-size="36.5" text-anchor="middle" textLength="14.2" lengthAdjust="spacingAndGlyphs">(</text><text x="-201.0" y="0.0" font-size="39.0" text-anchor="middle" textLength="24.8" lengthAdjust="spacingAndGlyphs">g</text><text x="-181.7" y="0.0" font-size="39.0" text-anchor="middle" textLength="13.1" lengthAdjust="spacingAndGlyphs">/</text><text x="-164.8" y="0.0" font-size="39.0" text-anchor="middle" textLength="21.4" lengthAdjust="spacingAndGlyphs">c</text><text x="-136.5" y="0.0" font-size="39.0" text-anchor="middle" textLength="38.0" lengthAdjust="spacingAndGlyphs">m</text><text x="-109.5" y="-14.5" font-size="27.5" text-anchor="middle" textLength="17.5" lengthAdjust="spacingAndGlyphs">3</text><text x="-92.3" y="-1.5" font-size="36.5" text-anchor="middle" textLength="14.2" lengthAdjust="spacingAndGlyphs">)</text></g>
<path d="M119.0 787.8V767.8 M119.0 463.6V483.6 M225.6 787.8V767.8 M225.6 463.6V483.6 M332.2 787.8V767.8 M332.2 463.6V483.6 M438.8 787.8V767.8 M438.8 463.6V483.6 M545.4 787.8V767.8 M545.4 463.6V483.6 M140.3 787.8V777.8 M140.3 463.6V473.6 M161.6 787.8V777.8 M161.6 463.6V473.6 M183.0 787.8V777.8 M183.0 463.6V473.6 M204.3 787.8V777.8 M204.3 463.6V473.6 M246.9 787.8V777.8 M246.9 463.6V473.6 M268.2 787.8V777.8 M268.2 463.6V473.6 M289.6 787.8V777.8 M289.6 463.6V473.6 M310.9 787.8V777.8 M310.9 463.6V473.6 M353.5 787.8V777.8 M353.5 463.6V473.6 M374.8 787.8V777.8 M374.8 463.6V473.6 M396.2 787.8V777.8 M396.2 463.6V473.6 M417.5 787.8V777.8 M417.5 463.6V473.6 M460.1 787.8V777.8 M460.1 463.6V473.6 M481.4 787.8V777.8 M481.4 463.6V473.6 M502.8 787.8V777.8 M502.8 463.6V473.6 M524.1 787.8V777.8 M524.1 463.6V473.6 M119.0 787.8H139.0 M545.4 787.8H525.4 M119.0 679.7H139.0 M545.4 679.7H525.4 M119.0 571.7H139.0 M545.4 571.7H525.4 M119.0 463.6H139.0 M545.4 463.6H525.4" stroke="#000" stroke-width="2.4" fill="none"/>
<rect x="119.0" y="463.6" width="426.4" height="324.2" fill="none" stroke="#000" stroke-width="2.5"/>
<text x="119.0" y="821.3" font-size="33" text-anchor="middle" textLength="21.0" lengthAdjust="spacingAndGlyphs">0</text>
<text x="225.6" y="821.3" font-size="33" text-anchor="middle" textLength="21.0" lengthAdjust="spacingAndGlyphs">5</text>
<text x="332.2" y="821.3" font-size="33" text-anchor="middle" textLength="42.0" lengthAdjust="spacingAndGlyphs">10</text>
<text x="438.8" y="821.3" font-size="33" text-anchor="middle" textLength="42.0" lengthAdjust="spacingAndGlyphs">15</text>
<text x="545.4" y="821.3" font-size="33" text-anchor="middle" textLength="42.0" lengthAdjust="spacingAndGlyphs">20</text>
<text x="109.5" y="800.2" font-size="33" text-anchor="end" textLength="52.5" lengthAdjust="spacingAndGlyphs">0.4</text>
<text x="109.5" y="692.1" font-size="33" text-anchor="end" textLength="52.5" lengthAdjust="spacingAndGlyphs">0.6</text>
<text x="109.5" y="584.1" font-size="33" text-anchor="end" textLength="52.5" lengthAdjust="spacingAndGlyphs">0.8</text>
<text x="109.5" y="476.0" font-size="33" text-anchor="end" textLength="52.5" lengthAdjust="spacingAndGlyphs">1.0</text>
<text x="333.2" y="868.3" font-size="39" text-anchor="middle" textLength="127.2" lengthAdjust="spacingAndGlyphs">CPU-hr</text>
<g transform="translate(37.5 0) rotate(-90)"><text x="-701.3" y="0.0" font-size="39.0" text-anchor="middle" font-style="italic" textLength="24.8" lengthAdjust="spacingAndGlyphs">ρ</text><text x="-670.4" y="-1.5" font-size="36.5" text-anchor="middle" textLength="14.2" lengthAdjust="spacingAndGlyphs">(</text><text x="-651.8" y="0.0" font-size="39.0" text-anchor="middle" textLength="24.8" lengthAdjust="spacingAndGlyphs">g</text><text x="-632.5" y="0.0" font-size="39.0" text-anchor="middle" textLength="13.1" lengthAdjust="spacingAndGlyphs">/</text><text x="-615.6" y="0.0" font-size="39.0" text-anchor="middle" textLength="21.4" lengthAdjust="spacingAndGlyphs">c</text><text x="-587.3" y="0.0" font-size="39.0" text-anchor="middle" textLength="38.0" lengthAdjust="spacingAndGlyphs">m</text><text x="-560.3" y="-14.5" font-size="27.5" text-anchor="middle" textLength="17.5" lengthAdjust="spacingAndGlyphs">3</text><text x="-543.1" y="-1.5" font-size="36.5" text-anchor="middle" textLength="14.2" lengthAdjust="spacingAndGlyphs">)</text></g>
<path d="M746.4 787.8V767.8 M746.4 463.6V483.6 M888.4 787.8V767.8 M888.4 463.6V483.6 M1030.5 787.8V767.8 M1030.5 463.6V483.6 M1172.5 787.8V767.8 M1172.5 463.6V483.6 M774.8 787.8V777.8 M774.8 463.6V473.6 M803.2 787.8V777.8 M803.2 463.6V473.6 M831.6 787.8V777.8 M831.6 463.6V473.6 M860.0 787.8V777.8 M860.0 463.6V473.6 M916.8 787.8V777.8 M916.8 463.6V473.6 M945.2 787.8V777.8 M945.2 463.6V473.6 M973.7 787.8V777.8 M973.7 463.6V473.6 M1002.1 787.8V777.8 M1002.1 463.6V473.6 M1058.9 787.8V777.8 M1058.9 463.6V473.6 M1087.3 787.8V777.8 M1087.3 463.6V473.6 M1115.7 787.8V777.8 M1115.7 463.6V473.6 M1144.1 787.8V777.8 M1144.1 463.6V473.6 M746.4 787.8H766.4 M1172.5 787.8H1152.5 M746.4 706.8H766.4 M1172.5 706.8H1152.5 M746.4 625.7H766.4 M1172.5 625.7H1152.5 M746.4 544.6H766.4 M1172.5 544.6H1152.5 M746.4 463.6H766.4 M1172.5 463.6H1152.5" stroke="#000" stroke-width="2.4" fill="none"/>
<rect x="746.4" y="463.6" width="426.1" height="324.2" fill="none" stroke="#000" stroke-width="2.5"/>
<text x="746.4" y="821.3" font-size="33" text-anchor="middle" textLength="21.0" lengthAdjust="spacingAndGlyphs">0</text>
<text x="888.4" y="821.3" font-size="33" text-anchor="middle" textLength="42.0" lengthAdjust="spacingAndGlyphs">20</text>
<text x="1030.5" y="821.3" font-size="33" text-anchor="middle" textLength="42.0" lengthAdjust="spacingAndGlyphs">40</text>
<text x="1172.5" y="821.3" font-size="33" text-anchor="middle" textLength="42.0" lengthAdjust="spacingAndGlyphs">60</text>
<text x="736.9" y="800.2" font-size="33" text-anchor="end" textLength="80.1" lengthAdjust="spacingAndGlyphs">−0.1</text>
<text x="736.9" y="719.1" font-size="33" text-anchor="end" textLength="52.5" lengthAdjust="spacingAndGlyphs">0.0</text>
<text x="736.9" y="638.1" font-size="33" text-anchor="end" textLength="52.5" lengthAdjust="spacingAndGlyphs">0.1</text>
<text x="736.9" y="557.0" font-size="33" text-anchor="end" textLength="52.5" lengthAdjust="spacingAndGlyphs">0.2</text>
<text x="736.9" y="476.0" font-size="33" text-anchor="end" textLength="52.5" lengthAdjust="spacingAndGlyphs">0.3</text>
<text x="960.5" y="868.3" font-size="39" text-anchor="middle" textLength="127.2" lengthAdjust="spacingAndGlyphs">CPU-hr</text>
<g transform="translate(664.9 0) rotate(-90)"><text x="-701.3" y="0.0" font-size="39.0" text-anchor="middle" font-style="italic" textLength="24.8" lengthAdjust="spacingAndGlyphs">ρ</text><text x="-670.4" y="-1.5" font-size="36.5" text-anchor="middle" textLength="14.2" lengthAdjust="spacingAndGlyphs">(</text><text x="-651.8" y="0.0" font-size="39.0" text-anchor="middle" textLength="24.8" lengthAdjust="spacingAndGlyphs">g</text><text x="-632.5" y="0.0" font-size="39.0" text-anchor="middle" textLength="13.1" lengthAdjust="spacingAndGlyphs">/</text><text x="-615.6" y="0.0" font-size="39.0" text-anchor="middle" textLength="21.4" lengthAdjust="spacingAndGlyphs">c</text><text x="-587.3" y="0.0" font-size="39.0" text-anchor="middle" textLength="38.0" lengthAdjust="spacingAndGlyphs">m</text><text x="-560.3" y="-14.5" font-size="27.5" text-anchor="middle" textLength="17.5" lengthAdjust="spacingAndGlyphs">3</text><text x="-543.1" y="-1.5" font-size="36.5" text-anchor="middle" textLength="14.2" lengthAdjust="spacingAndGlyphs">)</text></g>
<text x="244.5" y="296.5" font-size="33.5" textLength="180.0" lengthAdjust="spacingAndGlyphs">NPT (298K)</text>
<text x="856.5" y="259.7" font-size="33.5" textLength="194.1" lengthAdjust="spacingAndGlyphs">GEMC-liquid</text>
<text x="908.5" y="296.5" font-size="33.5" textLength="107.0" lengthAdjust="spacingAndGlyphs">(500K)</text>
<text x="225.8" y="749.4" font-size="33.5" textLength="214.3" lengthAdjust="spacingAndGlyphs">GCMC (510K)</text>
<text x="856.5" y="535.8" font-size="33.5" textLength="197.3" lengthAdjust="spacingAndGlyphs">GEMC-vapor</text>
<text x="908.5" y="572.6" font-size="33.5" textLength="107.0" lengthAdjust="spacingAndGlyphs">(500K)</text>
</svg></body></html>
